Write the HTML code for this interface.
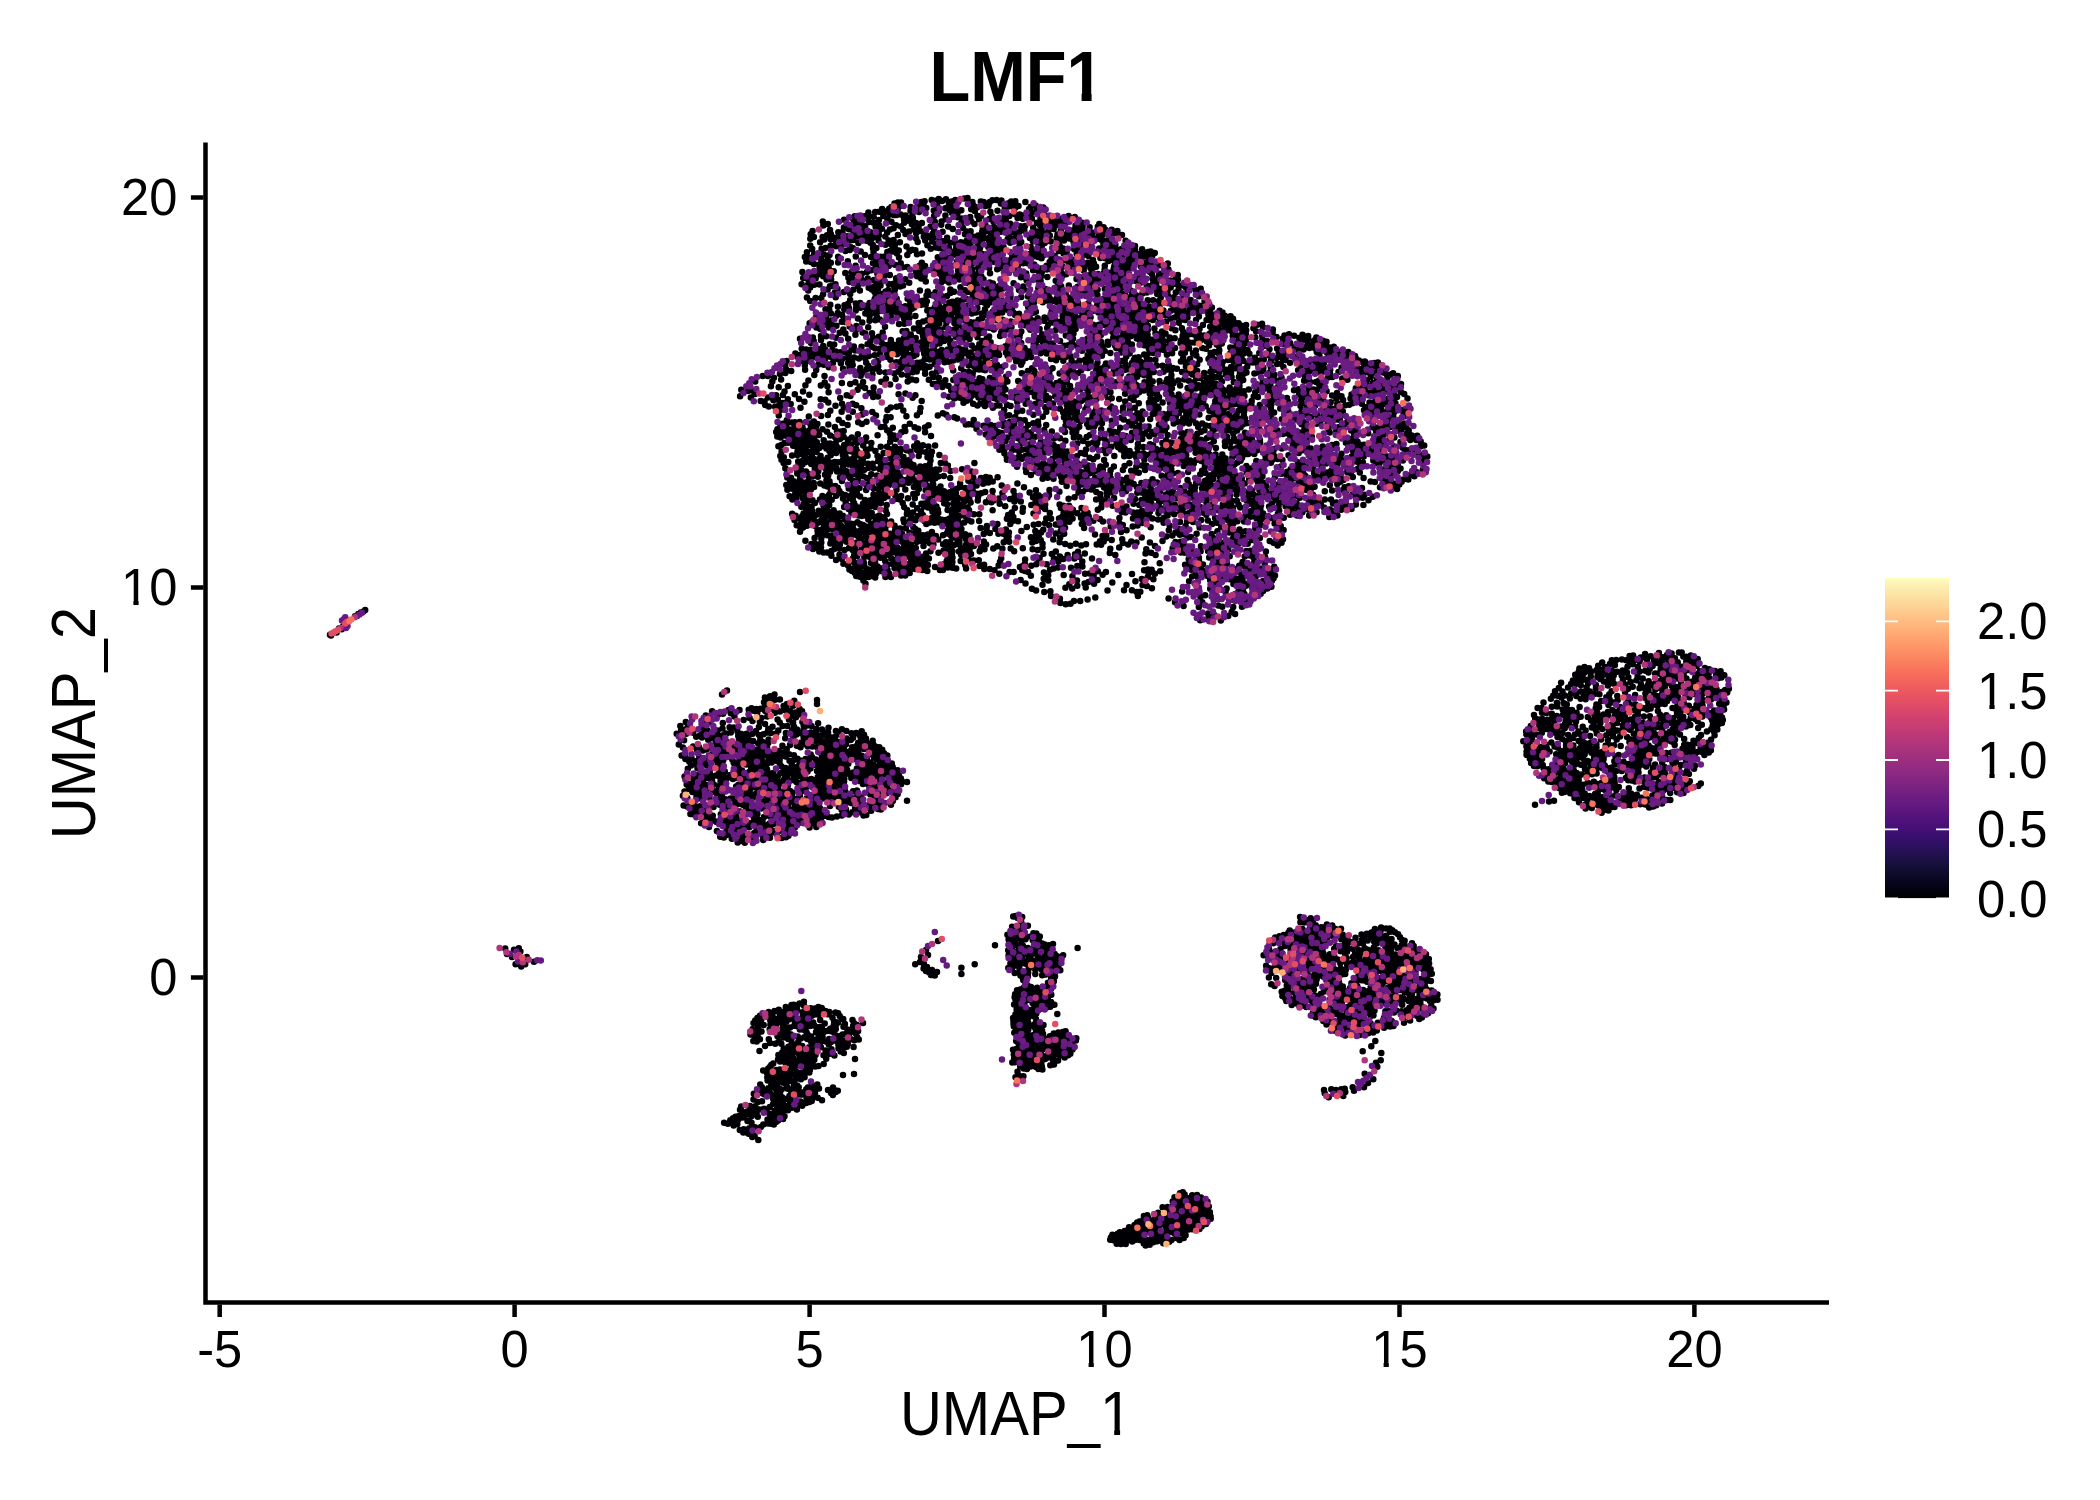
<!DOCTYPE html>
<html><head><meta charset="utf-8"><title>LMF1</title>
<style>
html,body{margin:0;padding:0;background:#fff;}
body{width:2100px;height:1500px;overflow:hidden;}
svg{display:block;}
text{font-family:"Liberation Sans",sans-serif;fill:#000;}
.t{font-size:50px;}
.a{font-size:58.3px;}
</style></head><body>
<svg width="2100" height="1500" viewBox="0 0 2100 1500">
<defs><linearGradient id="mg" x1="0" y1="1" x2="0" y2="0">
<stop offset="0.0000" stop-color="#000004"/>
<stop offset="0.0192" stop-color="#02020B"/>
<stop offset="0.0385" stop-color="#050416"/>
<stop offset="0.0577" stop-color="#090720"/>
<stop offset="0.0769" stop-color="#0E0B2B"/>
<stop offset="0.0962" stop-color="#140E36"/>
<stop offset="0.1154" stop-color="#1A1042"/>
<stop offset="0.1346" stop-color="#21114E"/>
<stop offset="0.1538" stop-color="#29115A"/>
<stop offset="0.1731" stop-color="#311165"/>
<stop offset="0.1923" stop-color="#390F6E"/>
<stop offset="0.2115" stop-color="#420F75"/>
<stop offset="0.2308" stop-color="#4A1079"/>
<stop offset="0.2500" stop-color="#52137C"/>
<stop offset="0.2692" stop-color="#5A167E"/>
<stop offset="0.2885" stop-color="#621980"/>
<stop offset="0.3077" stop-color="#6A1C81"/>
<stop offset="0.3269" stop-color="#721F81"/>
<stop offset="0.3462" stop-color="#792282"/>
<stop offset="0.3654" stop-color="#812581"/>
<stop offset="0.3846" stop-color="#892881"/>
<stop offset="0.4038" stop-color="#912B81"/>
<stop offset="0.4231" stop-color="#992D80"/>
<stop offset="0.4423" stop-color="#A1307E"/>
<stop offset="0.4615" stop-color="#A8327D"/>
<stop offset="0.4808" stop-color="#B0357B"/>
<stop offset="0.5000" stop-color="#B83779"/>
<stop offset="0.5192" stop-color="#C03A76"/>
<stop offset="0.5385" stop-color="#C83E73"/>
<stop offset="0.5577" stop-color="#CF4070"/>
<stop offset="0.5769" stop-color="#D6456C"/>
<stop offset="0.5962" stop-color="#DD4A69"/>
<stop offset="0.6154" stop-color="#E44F64"/>
<stop offset="0.6346" stop-color="#E95462"/>
<stop offset="0.6538" stop-color="#EE5B5E"/>
<stop offset="0.6731" stop-color="#F2625D"/>
<stop offset="0.6923" stop-color="#F66A5C"/>
<stop offset="0.7115" stop-color="#F8735C"/>
<stop offset="0.7308" stop-color="#FA7C5E"/>
<stop offset="0.7500" stop-color="#FB8560"/>
<stop offset="0.7692" stop-color="#FD8E65"/>
<stop offset="0.7885" stop-color="#FE9869"/>
<stop offset="0.8077" stop-color="#FEA16E"/>
<stop offset="0.8269" stop-color="#FEAA74"/>
<stop offset="0.8462" stop-color="#FEB37B"/>
<stop offset="0.8654" stop-color="#FEBC82"/>
<stop offset="0.8846" stop-color="#FEC589"/>
<stop offset="0.9038" stop-color="#FECF92"/>
<stop offset="0.9231" stop-color="#FDD89A"/>
<stop offset="0.9423" stop-color="#FDE1A3"/>
<stop offset="0.9615" stop-color="#FCEAAC"/>
<stop offset="0.9808" stop-color="#FCF3B5"/>
<stop offset="1.0000" stop-color="#FCFDBF"/>
</linearGradient><clipPath id="nf"><path clip-rule="evenodd" d="M0 0H2100V1500H0ZM1066 92.8H1081.6V103H1066ZM1091.6 92.8H1108V103H1091.6ZM1101 1429.2H1114.2V1437H1101ZM1120.1 1429.2H1134V1437H1120.1ZM1078 1362.4H1088.6V1369H1078ZM1093.8 1362.4H1103.5V1369H1093.8ZM1373 1362.4H1383.6V1369H1373ZM1388.8 1362.4H1398.5V1369H1388.8ZM122 600.4H133.4V607H122ZM138.6 600.4H148.5V607H138.6ZM1978 704.4H1989.4V711H1978ZM1994.6 704.4H2004V711H1994.6ZM1978 773.4H1989.4V780H1978ZM1994.6 773.4H2004V780H1994.6Z"/></clipPath></defs>
<rect width="2100" height="1500" fill="#fff"/>
<g clip-path="url(#nf)"><text transform="translate(929.5,101) scale(1,1.0685)" font-size="66.7" font-weight="bold">LMF1</text></g>
<g id="pts" fill="none" stroke-linecap="round" stroke-width="6.5">
<path stroke="#000004" d="M746.6 733.7h0M860.8 747.1h0M720.4 796.4h0M835.7 779.9h0M834.9 751.3h0M865.8 768.9h0M819.9 808h0M753.8 782h0M781.6 838h0M842.5 793.6h0M870.5 762.6h0M784.1 779.5h0M878.2 772.4h0M783.7 773.7h0M702 737.4h0M742.9 741.2h0M858.9 804h0M751.5 708.2h0M692.4 791.9h0M729.6 727.3h0M901.1 784.3h0M684.1 740.2h0M810.7 754.4h0M839 753.4h0M763.5 734.3h0M713.5 807.1h0M891.8 763.6h0M802.6 769h0M734.8 796.5h0M759.1 734.9h0M720.5 781.2h0M821.5 753.9h0M762.8 836.6h0M887.3 755.4h0M882.2 749.8h0M719.5 762.8h0M722.5 728.5h0M724.1 776.8h0M845.9 809.6h0M757.6 833.5h0M725.4 799.2h0M697.5 768.2h0M787.1 815.9h0M774.5 755.1h0M802.5 791.1h0M879.5 781.1h0M761.9 760.3h0M791.9 730.4h0M731.1 819.2h0M727.2 806h0M695 780.8h0M858.2 751.5h0M783.4 770.4h0M683.6 805.6h0M750.5 788.8h0M777.7 776.8h0M762.6 742.1h0M790.2 791.1h0M764.9 807.6h0M699.3 757.1h0M805.1 766.9h0M799.8 796.1h0M721.8 739h0M713.1 790.7h0M811.3 779.1h0M805 744.1h0M799.6 812.2h0M870.4 743.9h0M762.5 820.9h0M884.1 761.2h0M746.2 750.1h0M768.1 743.1h0M703.6 820h0M709 826.9h0M770 837.7h0M851.5 733.3h0M749.9 822.9h0M856.2 733h0M693.3 814.2h0M768.6 739.5h0M707.1 761.6h0M687.3 727.8h0M700.7 813.6h0M827.5 737.7h0M773.4 773h0M865.9 738.4h0M805.9 806.2h0M710 817.9h0M786.5 799.7h0M798.8 784.7h0M687.8 768.8h0M778.5 789.8h0M805.5 759h0M761.4 717.9h0M720.3 770.9h0M757.5 789.5h0M770.3 808.3h0M828.9 775.7h0M705.1 721.5h0M717.6 730.6h0M802.1 711.2h0M838 757.6h0M771 817h0M735.3 831.4h0M766.6 699.6h0M760.6 708.8h0M705.8 715.5h0M763.6 755.2h0M764.4 750.9h0M792.6 792.5h0M789 808.7h0M789.1 754.2h0M880 753.8h0M766.2 803.2h0M845.7 751.8h0M798.5 775.9h0M807.3 725.5h0M748.4 795.9h0M728.5 710.1h0M703.9 728h0M887.6 774.4h0M816.4 733.4h0M712.1 781h0M696.5 796.5h0M754.5 766.3h0M695.5 806.3h0M850.7 739.9h0M821.2 818h0M733.9 727.6h0M735.4 800.7h0M691 765.4h0M682.9 795.8h0M712.4 753.7h0M741.3 840.7h0M681.1 730.2h0M790.8 816.4h0M817.9 811.3h0M722 748.2h0M776.6 811.4h0M739.1 820.4h0M698 778.1h0M870.2 794.2h0M875.1 753.8h0M696.6 813.5h0M846.3 766h0M709.5 736.4h0M824.3 794.8h0M874.4 796.1h0M853.1 791.3h0M707.6 730.6h0M845.4 798.6h0M692.7 783h0M778.6 784.9h0M825.1 779.9h0M783.6 706h0M769.2 802.8h0M726.6 834.9h0M853.8 754h0M803.6 729.5h0M695.8 761.2h0M732.8 746.4h0M848.8 814.5h0M743.6 720h0M810.9 732.6h0M698.1 774.9h0M758.5 749.6h0M884.9 774.2h0M761.6 769.2h0M824 791.9h0M726.6 830.6h0M799.1 822.8h0M769.7 700.2h0M882.5 766.5h0M874.1 769.1h0M868.9 773.8h0M822.7 778.3h0M848.8 758.6h0M803.7 725.7h0M887.6 771.4h0M767.9 785.1h0M707 765.5h0M852.3 812.3h0M844.4 768.9h0M860.3 801.2h0M875.3 804.2h0M718.9 736.1h0M820.5 793h0M836.5 776.3h0M758.9 727.1h0M769.7 773.3h0M896.1 775.5h0M709.3 722.3h0M812.3 807.1h0M768.5 834.3h0M833 754.7h0M887.1 786.9h0M866.1 741.3h0M767.2 716.5h0M782.6 726h0M862.9 784h0M792.8 715.7h0M782.5 809.6h0M825.9 783.8h0M878.3 797.6h0M835.9 730.9h0M846.1 744.2h0M727.2 742.2h0M773.5 824h0M719.7 804.8h0M736.1 786.5h0M780.8 800.4h0M880.9 809.5h0M788.4 835.7h0M785.7 819.7h0M716.5 747.1h0M853.3 772.4h0M861.6 804.9h0M734.8 804.5h0M746.2 754h0M709.8 772.8h0M794.1 726.8h0M807.6 771.4h0M771.6 762.5h0M744.8 790.6h0M717.3 760.6h0M709.5 748h0M751.1 811.2h0M841.7 809.9h0M742 770.5h0M767 769.3h0M747.4 791.4h0M787.4 725.9h0M760.2 787.8h0M744.2 743.9h0M777.6 719.4h0M803 810.2h0M716.9 830.9h0M718 756h0M781.3 766.2h0M753.9 749.5h0M790.5 773.6h0M785.2 738.3h0M794.5 803.9h0M752.7 733.8h0M892.8 801.1h0M794.3 817.7h0M685.8 722.1h0M834.3 789.5h0M702.4 764.1h0M740.2 811.5h0M834.5 748.5h0M838.3 765.4h0M732.9 779h0M814.7 796.3h0M796.4 781.9h0M748.1 759.9h0M774.8 778.1h0M831.5 767.2h0M788.9 719.5h0M811.3 810h0M896.1 778.3h0M790.1 780.6h0M834.5 762.3h0M757.4 814.1h0M824.2 760.3h0M688.8 789h0M757 757.6h0M787.9 785.5h0M768.4 790.4h0M737.7 753.2h0M807.7 767.2h0M824.5 765.9h0M846.8 793.6h0M756.5 830.2h0M812.1 757.3h0M828 763.6h0M720.2 836.7h0M778.9 750.9h0M759.8 721.8h0M738.4 766.2h0M774 790.8h0M810.3 822.1h0M825.5 745.8h0M772.2 776.7h0M873.3 764.4h0M799.2 772.3h0M821.8 798.7h0M817.8 776.9h0M781.5 755.7h0M790.1 711.3h0M743.1 747.3h0M756.8 753h0M734.4 716.6h0M794.2 798.8h0M761.4 766.1h0M894.1 794.2h0M833.7 765h0M745.1 736.8h0M861.1 812.6h0M726.8 825.6h0M797 811.6h0M706.4 774.7h0M767.1 747.8h0M712.7 776.2h0M824.9 815.8h0M786.9 775.5h0M687.3 797.9h0M775.9 760.7h0M737.6 771.4h0M880.7 805h0M839 774.4h0M791.3 823.6h0M799.6 709h0M748.4 811.9h0M746.1 764.4h0M714.5 735.8h0M816.1 741.1h0M801.3 820.7h0M814 810.1h0M843.2 761.1h0M758.2 743.6h0M744.4 795.4h0M816.3 729.1h0M772.8 758.2h0M804 804.4h0M810.4 768.6h0M721.7 773.9h0M727.7 752.5h0M718.7 773.7h0M820.5 780.7h0M821.8 735.5h0M724.6 780.4h0M866.8 758.8h0M741.5 734.1h0M751.5 761h0M807.7 746.2h0M864.3 780.7h0M682.9 747.6h0M831.7 737.5h0M780.3 772.9h0M819.4 795.6h0M744.5 758.7h0M847.2 770.1h0M870.3 747.1h0M835.4 736.7h0M686.7 784.6h0M890.8 776.5h0M867.8 745.3h0M738.2 735.8h0M750.5 785.5h0M842.1 746.9h0M762.9 825.1h0M751.3 794.4h0M770.2 827.7h0M857 801.1h0M690.4 814h0M885.8 769.1h0M689.4 784.1h0M830 750.9h0M726.4 733.6h0M816.3 808.8h0M758.5 755.1h0M685.1 756h0M702.8 750.6h0M876.9 750.3h0M752.5 721h0M796.8 745.7h0M828.1 732.6h0M858.9 781h0M830.8 787.8h0M814.5 780.5h0M798.2 818.7h0M751.4 764.3h0M863.2 768.5h0M689.5 726.3h0M770 696.2h0M726.4 749.7h0M844.1 781.8h0M730.8 732.4h0M813.6 803.5h0M857.4 795.8h0M704.6 760.3h0M749.2 827.2h0M898.7 781.8h0M874 757.5h0M887.5 763h0M793.1 738h0M733.6 762.4h0M718.9 788.6h0M722.4 823.3h0M722.8 722.9h0M679.9 733.8h0M778.3 730.4h0M856.9 768.6h0M863.9 749.1h0M755.7 794h0M749.2 742h0M767.4 755.2h0M783.2 812.2h0M893.1 769.7h0M772.7 783h0M817.8 821.8h0M860.4 772.6h0M745.7 827h0M876.7 758.9h0M781.7 806.3h0M816.2 765.2h0M779.6 763h0M740.1 776h0M788.8 802.2h0M793.4 809.3h0M875.2 746.6h0M763.8 801.8h0M822.2 773.7h0M684.5 791.6h0M801.8 782.3h0M793.9 755.3h0M712.8 815.7h0M765 705.4h0M783.8 752.3h0M823.3 786.7h0M758 770.6h0M778.2 799.3h0M722.1 793.9h0M868.4 784.8h0M897.6 770.3h0M761 750.9h0M774.5 694.5h0M735.3 814h0M894.2 781.9h0M751.6 798.5h0M798.4 798.5h0M721.8 745.1h0M849.2 755.9h0M848.7 799.1h0M841.9 804h0M737.7 842.5h0M758.9 780.9h0M778 820.2h0M750.3 779.4h0M706.2 810.2h0M789.5 760.9h0M695.9 789.7h0M785.9 732.9h0M736 747.8h0M693.1 746.4h0M864 734.8h0M816 759.4h0M796.3 821.2h0M853.1 737.8h0M779.7 722.6h0M790.1 820.6h0M732.3 759.5h0M794.5 759.7h0M814.9 817.6h0M748.7 709.7h0M879.8 762.2h0M713.6 820.5h0M777.9 756.6h0M752.9 756.7h0M708.7 778.3h0M791 767.8h0M728.3 822.6h0M893.2 790.2h0M756.4 709.1h0M864.5 778h0M735.6 822.2h0M757.3 712.8h0M754.2 832.9h0M770.9 779.9h0M745.5 804.1h0M738.9 739h0M779.5 782.1h0M765 723.9h0M762.4 783h0M822 729.4h0M872.7 755h0M863.5 815.5h0M769.5 823.5h0M851 750.4h0M742.7 804.8h0M772.5 698h0M705.1 817h0M723.3 760.2h0M780 711.5h0M859.7 735.2h0M886.6 793.2h0M825.7 797.7h0M843.7 764.9h0M851.6 797.9h0M784.7 791h0M703.2 779.7h0M851.3 778h0M883.6 784.8h0M878 809h0M787 704.1h0M797.5 766.7h0M818.1 723.2h0M813.4 736.5h0M858.5 810h0M776.3 733.5h0M813 799.2h0M681.6 755.4h0M853.6 776.1h0M832 817.5h0M799.9 790h0M693.1 787.2h0M789.6 826.1h0M844.8 774.8h0M758.5 819.7h0M743.4 776.7h0M839.6 798.1h0M825 752.5h0M840.3 749.4h0M833 781h0M796 717.3h0M841.9 729.2h0M833.4 784.1h0M877.6 776.8h0M867.8 770.7h0M871.2 810.7h0M774.9 699.7h0M810.7 819.2h0M786.5 771.6h0M848.2 802.1h0M833.7 742.2h0M798.8 714.6h0M861.7 731.2h0M826 772.2h0M861.3 797.3h0M693.2 732.8h0M888.2 789.8h0M868 765.6h0M738.2 784.9h0M685.4 758.9h0M855.1 808.2h0M821.9 745.5h0M840.8 777.6h0M768.9 799.2h0M837.9 760.5h0M846.8 738.4h0M816.9 746.9h0M756 731.1h0M686.2 733.8h0M851.1 803h0M862.3 741.3h0M817.3 792.8h0M700.7 784.7h0M770.6 708.4h0M705.2 814.4h0M838.3 733.9h0M748.2 803.3h0M898.8 774.4h0M709.4 797.7h0M761 802h0M716 793.1h0M785.9 812.5h0M764 817h0M784.8 710h0M809.1 761.9h0M808.4 808.5h0M707.4 788.8h0M753.7 772h0M786.8 833h0M770.7 752.5h0M856.2 746.2h0M837.8 742.1h0M828.3 767.5h0M717.7 765.3h0M848.3 763.8h0M800.5 760.5h0M735.7 777.9h0M895.6 797.3h0M827.9 788.1h0M846.9 761.4h0M886.3 783.1h0M846.4 731.1h0M858.2 742.7h0M819.9 784.2h0M763.2 839.9h0M723.1 735.3h0M721.4 753.3h0M711.8 738.3h0M752.5 839.1h0M835.4 799.3h0M719.1 768.3h0M879.9 774.5h0M708.2 739.7h0M698 808.5h0M736.8 762.6h0M701.1 823.2h0M764.2 768.3h0M806.4 798.8h0M855.4 778.8h0M752.8 752.2h0M767.2 763.4h0M755.9 779.3h0M879.3 747.2h0M793.1 705.8h0M745.1 836.4h0M795.3 712.4h0M826.8 750.4h0M794.3 776.7h0M698.1 792h0M808.6 759.2h0M776.3 802.3h0M786.5 707.2h0M736.2 817.3h0M774.8 831h0M713.8 784.5h0M865.8 762.8h0M798.7 769.3h0M858 755.6h0M831.7 798.9h0M758.3 767.8h0M720.8 814.2h0M720.3 801.4h0M760.5 777.1h0M763.6 764h0M716.1 742.4h0M743 786.1h0M840.3 786.9h0M866.9 776.1h0M876.5 801h0M812.1 746.4h0M813.1 823h0M794.3 812.1h0M768.3 728.9h0M841.8 815.4h0M779.3 804.3h0M879.3 765.7h0M836.2 794.7h0M844.8 790.3h0M791.7 763.8h0M731.8 824.3h0M793.9 780.1h0M821.5 769.2h0M808.6 737.1h0M884 753.2h0M808.3 812h0M723 713.7h0M706.3 785.1h0M726.7 778.6h0M880.2 758.1h0M827.6 753.7h0M900.9 778.5h0M819 760.7h0M767.4 732.6h0M808.5 781.2h0M820.4 789h0M700.1 793.8h0M734.7 765.7h0M696 764.6h0M809.6 827.6h0M729.2 834.5h0M787.1 824.8h0M726.8 809.4h0M880 794.5h0M794.9 827.5h0M877.9 805.4h0M767.3 815.6h0M710.4 805.4h0M727.5 818.4h0M740.2 828.1h0M774.8 805.2h0M871.7 786.3h0M800.5 747.3h0M735.3 826.7h0M793.1 722.4h0M862.6 759.2h0M774.5 813.4h0M720.3 777.2h0M869.7 808.5h0M830 793.4h0M840.5 795.5h0M746 807.6h0M737.8 804h0M856.4 759.5h0M811.5 726h0M772.5 726.8h0M873.5 774.2h0M794.3 700.7h0M741.1 824.8h0M780 831.1h0M836.9 769.9h0M723.8 837.5h0M803.6 737.2h0M741.5 758.1h0M890.5 769h0M863.7 743.9h0M824.2 732.7h0M729.4 755h0M822.1 757.1h0M826 776.5h0M716.5 822h0M833.3 777.3h0M841.3 782.2h0M689.3 761.8h0M844.3 778.8h0M730.3 775h0M768.4 760.3h0M815.8 815h0M891 804.7h0M836.7 783.6h0M771.6 832.7h0M737.4 731.3h0M796.4 734.6h0M768.2 782h0M691.6 806.4h0M713.8 760.2h0M741.9 783.2h0M776.5 783h0M740 760.9h0M797 729.5h0M710.1 814.9h0M724.8 771.5h0M829.5 744.7h0M868.1 749.2h0M687.3 806.4h0M852.2 747.2h0M753.2 740.9h0M776.8 710h0M731.8 838.8h0M759.3 762.7h0M702.2 733.5h0M750.3 756.6h0M834.2 758.2h0M706.3 749.5h0M718.1 714.4h0M878 789.6h0M747 779.5h0M806.6 787h0M785.6 756.5h0M844.4 801.5h0M781.3 815.9h0M699.8 735.6h0M692.9 777.2h0M802.7 777.8h0M763.9 775h0M770.7 788.7h0M815.8 786.7h0M782 783.1h0M742.8 834.9h0M753.6 816.7h0M715.9 775.6h0M827.1 758.5h0M691.5 757.9h0M821.5 764.1h0M757.8 823.9h0M704.7 787.3h0M838.8 806.8h0M829.1 740.7h0M872.7 748.4h0M828.9 760.8h0M831 795.9h0M860.2 766.6h0M782.2 794.4h0M700.6 806h0M798.9 806.5h0M767.5 777.4h0M676.7 733.8h0M774.9 712.8h0M760.3 739.7h0M720 785.3h0M840.6 760.5h0M844 748.8h0M753.8 813.8h0M838 747.4h0M750.5 750.5h0M721.1 765.2h0M816.8 805.6h0M794.9 769.3h0M832.9 746.1h0M765.1 711h0M886.8 766.1h0M854.6 749.8h0M801.2 742.5h0M784.6 829h0M823.5 741.5h0M817.6 737.5h0M712.1 711.3h0M725 786.3h0M723.1 801.8h0M816.3 827h0M755.3 796.9h0M762.3 830.4h0M754.2 820.4h0M785.9 837.2h0M787 830.2h0M744.8 842.7h0M799.5 764.5h0M699.5 798.3h0M730.8 713.2h0M701.9 775h0M793.8 774.1h0M816.3 801.9h0M732.1 807.2h0M700.6 788.5h0M751.1 767.6h0M870.1 803.9h0M783.5 798.6h0M870.2 768.6h0M729.6 826.4h0M742.7 780.6h0M817 770.9h0M684.6 776.5h0M828.5 816.9h0M697.1 750h0M860.9 738.5h0M760.5 745.8h0M683.9 730.2h0M872.7 740.8h0M881.1 777.1h0M759.4 758.9h0M840.7 764.2h0M873.3 744.5h0M797.5 758.8h0M870.9 765.8h0M862.2 776h0M748.3 737.9h0M815.6 783.3h0M786.7 749.3h0M736.9 794.2h0M875.6 766.7h0M761.3 808.5h0M782.4 745.8h0M779.9 699.5h0M820 740.9h0M698.9 746.9h0M800.7 732.9h0M820.6 812.7h0M827.9 778.7h0M787.9 806.2h0M764.8 697.4h0M736.8 774h0M804.6 740.6h0M790 744.9h0M765.5 797.2h0M861.5 755.7h0M836.9 816.4h0M901.7 781.1h0M803.7 788h0M730.5 798.5h0M779.7 812.1h0M830 806h0M791.9 795.1h0M724.1 818.4h0M755.7 809.5h0M823.8 748.9h0M680.3 726h0M764 702.2h0M741 802.6h0M779.7 759.3h0M766.4 825.5h0M897.7 794h0M678.8 744.4h0M696.2 736.7h0M739.8 835.1h0M892.7 767.1h0M832 771.2h0M806.5 763.3h0M694.6 811h0M749.1 771.9h0M872.5 751.4h0M851.1 753.6h0M802.4 721.9h0M874.7 788.7h0M877.1 785.5h0M729.6 808.7h0M785.4 768.1h0M753.8 710.7h0M743.5 798.3h0M749.6 718h0M805.9 779.1h0M843.4 744.4h0M850.7 774.9h0M709.1 733.4h0M746.2 775.1h0M841.5 773.1h0M739.5 710.1h0M765.2 829.7h0M866.3 815h0M857.4 775.2h0M856.9 790.5h0M744.1 839.9h0M753.1 786.7h0M828.5 727.7h0M864 772.2h0M770.7 733h0M719.3 742.8h0M727 690.5h0M722 694.5h0M800 692h0M817 700h0M817 704h0M907 782h0M907 800.7h0M1566.8 751.5h0M1573.6 787h0M1697.9 673.9h0M1526.6 751.4h0M1666.3 715.3h0M1536.6 755.1h0M1721.4 677.4h0M1692.5 748.1h0M1699.6 703.7h0M1648.7 681.2h0M1663.6 785.9h0M1648.6 745.5h0M1614.3 761.2h0M1563.5 703h0M1658.2 700.9h0M1538.8 727.9h0M1653 768h0M1679.6 716.4h0M1576.8 762.5h0M1665.6 683.4h0M1591.8 727.5h0M1601.2 700.9h0M1657.9 711h0M1534 766h0M1677.4 775.1h0M1628.5 764h0M1683.5 666.4h0M1662.6 657.3h0M1568.2 734.9h0M1560.3 766.6h0M1701.8 724.7h0M1642.5 722.7h0M1702.5 705.8h0M1625.1 727.9h0M1689.3 697.2h0M1671.5 695.8h0M1632.4 768.2h0M1602.7 751.7h0M1635.6 704.4h0M1682.5 748.7h0M1645.5 698h0M1677.9 700.1h0M1591.1 671.5h0M1603.6 759.1h0M1680.9 687.5h0M1667.1 701.1h0M1678.9 652.6h0M1629.4 742h0M1705.9 685.5h0M1665.8 718h0M1529.5 747.2h0M1621.7 675.4h0M1637.6 676.2h0M1654.6 749.4h0M1645.3 726.2h0M1618.8 786.9h0M1682.6 782.4h0M1617.7 700h0M1577 750.6h0M1615.1 795.4h0M1710.9 750.2h0M1655.4 753.5h0M1631 793.4h0M1611.6 691.2h0M1589.6 804.6h0M1686.3 661.6h0M1631 805.2h0M1630.6 681.9h0M1559.8 758.9h0M1616.3 771h0M1645.3 804.5h0M1597.2 712.5h0M1699.7 671.2h0M1580.7 698.8h0M1605.1 672h0M1696.7 665.7h0M1683.3 656.5h0M1546.7 748h0M1711.2 712.9h0M1703.3 745.1h0M1665.3 669.3h0M1692.3 681.4h0M1587.1 750.3h0M1715.9 692.8h0M1543.5 702.5h0M1526.1 731.4h0M1694.1 694h0M1672.2 784.6h0M1598.2 665.8h0M1614.5 806.9h0M1697 742.9h0M1671.3 752.8h0M1689.4 712.2h0M1713.9 731.6h0M1710.3 691.1h0M1667.7 736.8h0M1607.4 798.4h0M1561.1 682.8h0M1686.4 678.6h0M1655.3 658.5h0M1598.6 787.2h0M1623.1 800.1h0M1690.7 718.1h0M1717 726.6h0M1599.1 752.5h0M1661.3 727.5h0M1582.2 680.2h0M1724.1 709.5h0M1573.5 754.8h0M1610.2 733.1h0M1639.5 788.4h0M1725.2 690.1h0M1626.4 721.6h0M1683.5 701.8h0M1605.7 745.5h0M1658.6 718.3h0M1614.8 764.6h0M1575.2 674.7h0M1712.7 725.5h0M1576.6 712.8h0M1567.8 709.7h0M1695.2 677.6h0M1557.5 736.9h0M1578 753.4h0M1698.3 785.9h0M1631.7 801.4h0M1576.6 773h0M1645.1 654.1h0M1652.4 795.6h0M1676.9 711.8h0M1530.2 743.2h0M1672.9 676.1h0M1660.2 799.3h0M1608.5 704.9h0M1577.9 676.9h0M1556.8 785.3h0M1675 673.9h0M1594.1 756.7h0M1614 745.3h0M1677.7 662.3h0M1662.9 698.1h0M1644.4 777.4h0M1589.4 796h0M1657.3 746.9h0M1685.4 696.6h0M1698.8 737.9h0M1557.9 747.7h0M1537.6 708h0M1656.6 721.9h0M1555.7 779.3h0M1671.3 678.2h0M1620.9 711.6h0M1718.6 724.1h0M1683.7 673.7h0M1671.5 741.6h0M1712.6 696.4h0M1618.7 754.9h0M1539 752h0M1544.1 778.2h0M1649.1 807.6h0M1616.9 722.9h0M1704.9 667.9h0M1661.7 660.1h0M1688.2 721.4h0M1632.7 664.2h0M1643 708h0M1531.2 734.8h0M1589.3 745.6h0M1610.4 807.5h0M1596.4 744.4h0M1681.1 707.9h0M1719.2 703.8h0M1575.1 725.9h0M1633.5 795.2h0M1672.8 718.2h0M1602.2 675.4h0M1571.4 714.1h0M1662.3 742.9h0M1693.5 740.7h0M1570.4 720.1h0M1635 781.4h0M1612.6 679.6h0M1716.5 717.2h0M1622.9 719.5h0M1573.3 758.5h0M1667.1 800.1h0M1669.4 732h0M1590.7 766.5h0M1607.9 685.6h0M1572.2 761.9h0M1547.5 719.8h0M1625.4 684.4h0M1635.6 767.2h0M1694.3 689.6h0M1593.8 767.3h0M1672.5 762.8h0M1645.6 756.8h0M1607.9 715.8h0M1635.7 777.8h0M1656.4 777h0M1668.8 783.7h0M1639.5 688.2h0M1711.3 729h0M1638.1 710.5h0M1591.3 762h0M1568.3 759.2h0M1657.6 705.4h0M1566.8 704.5h0M1714.6 735.3h0M1698 677.5h0M1530.8 726.1h0M1598.5 763.4h0M1681.1 751.4h0M1698.2 728h0M1663.1 755.4h0M1597.5 798.5h0M1603.2 810.6h0M1558.8 687.9h0M1604.9 789.9h0M1598.2 805.4h0M1717.3 729.5h0M1704 690.1h0M1678.7 722.1h0M1609.6 699.4h0M1652.6 777.4h0M1693.1 659.1h0M1662.2 762.6h0M1613 736.2h0M1623.5 761.7h0M1573.8 770.4h0M1628 773.9h0M1671.6 685.4h0M1594.5 694.1h0M1669.1 663.6h0M1690.8 655.5h0M1646.3 740.3h0M1728.9 688.7h0M1583.8 695.7h0M1587.8 716.9h0M1610.2 745.2h0M1585.6 730.6h0M1592 774.3h0M1684.2 739.1h0M1559.2 779.6h0M1648.5 690.5h0M1591.8 808.1h0M1540.6 761.4h0M1578.4 731.5h0M1610.7 780.8h0M1606.2 767.8h0M1673.3 732.9h0M1677.9 678.4h0M1584.7 754.2h0M1533.5 761.1h0M1695.1 754h0M1676.7 686.9h0M1700 709.8h0M1701 735.1h0M1690.3 724.9h0M1638.7 745.7h0M1599.1 707.1h0M1596.6 670.1h0M1643.4 781.1h0M1556.9 715.9h0M1688.7 749.3h0M1663.5 689.5h0M1557.2 731.6h0M1584.5 667h0M1529 753.3h0M1639.7 661.4h0M1542.3 718.9h0M1704.4 755h0M1665.6 775.2h0M1655.3 689.5h0M1702.3 716.4h0M1545.9 744.8h0M1715 671.1h0M1685.9 787.2h0M1716.5 689.3h0M1718.7 673.4h0M1581.5 774.4h0M1708.5 745.6h0M1565.9 748.6h0M1593.5 724.5h0M1651.7 727.1h0M1576.3 696.1h0M1554.6 746.5h0M1596.2 770.3h0M1571.2 789.7h0M1585 768.9h0M1633 762.6h0M1598.4 796h0M1616.7 739.4h0M1657.3 727h0M1596.4 704.5h0M1683.5 793.1h0M1672.5 708.1h0M1674.6 663.1h0M1572.2 775.1h0M1709.2 696.2h0M1633.7 733.5h0M1657.4 696.2h0M1701.4 699.9h0M1691.7 687.7h0M1612 785h0M1591.1 720.4h0M1551.8 782h0M1583 797.7h0M1634.9 799.3h0M1548.3 723.4h0M1645.4 670.8h0M1706.1 744.4h0M1541.4 707.9h0M1637.9 666.9h0M1662.1 662.9h0M1662.2 716.4h0M1625.6 710.9h0M1655.1 784.7h0M1622.7 670.4h0M1597.4 677h0M1721.6 692h0M1575.4 779.9h0M1583.7 765.6h0M1582.3 738.9h0M1528.4 737.8h0M1601.1 799.2h0M1716.1 675.4h0M1697.7 659.1h0M1675.1 779.2h0M1727.2 692.5h0M1638.3 768.3h0M1718.8 697.2h0M1626.2 805.2h0M1596.1 752.4h0M1538.9 719.6h0M1565.6 720.1h0M1562.7 709.4h0M1523.3 741.2h0M1638.2 729.7h0M1630 729.7h0M1641.1 758h0M1563.6 758.2h0M1578.7 780.1h0M1620 736.4h0M1660.1 681h0M1559.5 788.3h0M1630.8 798.2h0M1706.9 731.5h0M1635.9 737.4h0M1543 728.6h0M1615 785.2h0M1566 745.3h0M1568.1 687.5h0M1704.9 677.8h0M1648.3 705.7h0M1661.3 745.5h0M1694.5 708.7h0M1685.1 705.3h0M1577.7 757.6h0M1551.8 706.8h0M1614.9 665.1h0M1563 714.8h0M1561.9 792.7h0M1660.4 789.8h0M1626.4 794.3h0M1548.6 769.3h0M1611.1 787.8h0M1663.7 720.1h0M1619.7 798.6h0M1648.3 763.4h0M1566.2 789.5h0M1655.6 800.9h0M1639.7 750.4h0M1613.9 683.8h0M1673.5 787.7h0M1659.7 754.8h0M1709.6 678.6h0M1666 788.4h0M1654 736.5h0M1647.7 751.1h0M1714.1 710.4h0M1700.7 747.9h0M1602.1 807h0M1662.4 730.6h0M1712.3 720.4h0M1558 770.7h0M1595.9 685h0M1565.1 763h0M1602.9 761.7h0M1602.2 729.1h0M1695 765.4h0M1569.2 725.1h0M1621.9 659.5h0M1642.7 748.5h0M1708.5 686.4h0M1569.2 781.6h0M1637.8 714.5h0M1644.5 657.6h0M1562.5 691.4h0M1606.6 783.4h0M1647.6 701h0M1546.5 729.1h0M1574.8 764.7h0M1529.8 758.5h0M1620 707h0M1654 704.6h0M1601.5 670.2h0M1578.8 671.6h0M1644.4 734.2h0M1668.6 671h0M1612.4 710.2h0M1569.3 739.8h0M1684.5 754.4h0M1629.9 662.9h0M1670.2 793.1h0M1663.8 679.6h0M1630.7 719.5h0M1590.1 736h0M1721.7 702h0M1650 721.7h0M1593.8 781.8h0M1625.1 692.3h0M1551.3 771.9h0M1579.6 706.9h0M1628 700.9h0M1620.7 746h0M1675 739.8h0M1630 704.4h0M1582.8 784.8h0M1723.6 705.7h0M1667.5 759h0M1599.3 767.1h0M1676 761.8h0M1694 712.2h0M1592.1 797.2h0M1549.6 751.4h0M1662.2 796.7h0M1564.3 781.9h0M1634.2 710.2h0M1724.3 675.3h0M1651 772.2h0M1687.6 744.7h0M1711 717.7h0M1655 683.6h0M1643.9 716.5h0M1590.8 676.3h0M1637 761.3h0M1557.5 695.7h0M1571.9 709.9h0M1644.8 752.7h0M1649.2 800.4h0M1579.7 748.6h0M1600.4 723h0M1563 778.8h0M1531.1 763.1h0M1639.3 763.7h0M1542.8 765h0M1595.9 688.6h0M1627 736.9h0M1617 730.4h0M1662.3 692.9h0M1648.5 672.5h0M1537.8 758.1h0M1709.1 669.2h0M1600.2 802.4h0M1556.2 754.2h0M1659.8 714.5h0M1634.9 773.2h0M1556.8 762.3h0M1599.7 759.4h0M1674.8 772.8h0M1678 674.7h0M1667 655h0M1563.3 767.8h0M1680 734.6h0M1596.6 773.6h0M1706.1 747.3h0M1631.8 727.1h0M1587.6 782.8h0M1688.8 660h0M1671.6 653.5h0M1564.7 728.2h0M1543.5 767.9h0M1573.1 738h0M1708.2 742.5h0M1704.2 700.2h0M1560.6 774.5h0M1606.3 735.2h0M1581.8 750.8h0M1618.1 719.3h0M1611.7 803.5h0M1585.4 804.5h0M1643.4 737.3h0M1651.9 685.2h0M1556.9 702.8h0M1626.9 672.4h0M1644.6 746.4h0M1658.9 653h0M1609.4 795.7h0M1677.2 792.3h0M1589.1 668.3h0M1587.6 761.1h0M1596.4 783.8h0M1604.4 799.5h0M1551.8 713.7h0M1720.6 671.3h0M1697.4 751.9h0M1568.4 716.8h0M1587.8 774.7h0M1629 796.2h0M1649 726.8h0M1689.8 781.3h0M1584.7 793.5h0M1595.1 794h0M1551.8 718.8h0M1550.5 730.5h0M1697.5 681.5h0M1580.8 764.8h0M1552.4 767.8h0M1586.1 797h0M1601.4 783h0M1526.4 746.6h0M1642.5 764.6h0M1650.8 656.2h0M1711 739.7h0M1662.8 723.8h0M1656.2 805.2h0M1654.7 790.3h0M1585.6 699.3h0M1694.1 768.8h0M1658.7 673.6h0M1608.7 803h0M1680.9 765h0M1611.2 767.7h0M1684.5 722.3h0M1586.6 687.3h0M1540.6 746.9h0M1641.4 797.8h0M1681.7 652.4h0M1705.9 671.7h0M1550.9 698.8h0M1613.5 732.2h0M1580.9 691.6h0M1604.7 765.3h0M1711 699.4h0M1564.9 695.4h0M1636.1 744.4h0M1607.9 739.9h0M1608.7 730h0M1686.1 656.7h0M1702.4 693.9h0M1677.2 706.3h0M1671.1 723.1h0M1560.9 726.4h0M1630.5 739.5h0M1629.6 656.1h0M1602.2 662.5h0M1668.9 677h0M1674 725.6h0M1662.7 769.8h0M1538.6 723.1h0M1627.7 799.6h0M1624.9 716.2h0M1685.6 688.5h0M1625.8 778.1h0M1534 714.9h0M1642.7 678.6h0M1616.1 659.9h0M1542 712.8h0M1574.5 798.1h0M1701.4 686.4h0M1678.5 725.5h0M1591.5 752.8h0M1564.3 770.7h0M1718.8 694h0M1582.3 789.4h0M1629.3 659.6h0M1694.6 684.1h0M1668.2 659.9h0M1722 717.4h0M1580.7 716.7h0M1617.3 695.9h0M1632.7 686.7h0M1547.3 774.4h0M1607.9 712.1h0M1676.9 715.2h0M1562.4 732.9h0M1603.9 681.5h0M1542.1 758.8h0M1531.9 755.7h0M1650.6 708.4h0M1674.9 658.3h0M1657.8 735h0M1620.5 730.7h0M1683.2 716.7h0M1576.1 683.8h0M1580.7 684.9h0M1576.9 785.5h0M1587.4 799.4h0M1628.2 780.3h0M1691.7 752.2h0M1627.5 666.7h0M1685.9 726.5h0M1668.9 698.3h0M1637.8 732.5h0M1649.8 668.7h0M1628.1 688.7h0M1673.5 736h0M1686.4 752.3h0M1664.8 704.1h0M1596.8 733.5h0M1584.2 672.8h0M1684.3 691.5h0M1579.4 668.4h0M1688.4 785.2h0M1640.8 657.6h0M1673.6 693.2h0M1650.9 731.9h0M1664.1 733.8h0M1657.7 788.4h0M1647 660.1h0M1587.7 772h0M1636.9 794.8h0M1570.2 793.3h0M1637.4 752.4h0M1580.4 792.8h0M1659.8 770.5h0M1700.8 783.4h0M1622.8 725.4h0M1568.2 772.4h0M1582.7 726.8h0M1688.9 774h0M1591 742.4h0M1551.4 742.4h0M1655.1 764.4h0M1561.3 751.2h0M1605.7 804.1h0M1703.1 713.6h0M1613 728.5h0M1614.3 777.2h0M1661.7 774.8h0M1674 698.2h0M1582.6 676.6h0M1554 728.2h0M1703.8 674.9h0M1644.1 786.8h0M1601.7 788.7h0M1647.3 709.6h0M1611.2 725h0M1670.6 674.3h0M1599.5 726.6h0M1684.1 789.9h0M1603.5 802h0M1717.4 721.3h0M1612.7 702.2h0M1674.3 678.6h0M1613.6 772.9h0M1611.8 660.3h0M1578.3 799.2h0M1662 803.4h0M1579 802.3h0M1622.1 803.5h0M1618 764.1h0M1638.5 772.5h0M1621.7 770.9h0M1602.2 768.1h0M1660.2 688h0M1660.7 668.4h0M1633.7 753.8h0M1649.3 759h0M1702.9 752.4h0M1664.1 700.5h0M1668.3 694.4h0M1663.6 738.4h0M1693.7 665.2h0M1572.1 781.9h0M1671.8 767.4h0M1608 771.8h0M1586 743.5h0M1667.7 722.3h0M1653.8 694.4h0M1682 719.2h0M1561.6 755.7h0M1670.8 735.4h0M1598 755.6h0M1571.1 693.6h0M1645.4 693.4h0M1628.3 767.6h0M1622.6 764.4h0M1662.3 676.1h0M1666.6 740.8h0M1585.6 808.6h0M1583.2 758.4h0M1692.6 744.5h0M1661.3 683.9h0M1585.1 748h0M1678.9 768.7h0M1564.2 787.4h0M1679.8 672.5h0M1611.7 670.5h0M1597.7 673.6h0M1641 684.2h0M1606.9 807.7h0M1670.3 799.9h0M1654 661.4h0M1637.4 726.3h0M1651.2 747.7h0M1635.1 694.9h0M1576 721.4h0M1676.5 691h0M1565.4 755.5h0M1643.1 730h0M1700.4 689.4h0M1589.8 691.4h0M1722.8 720h0M1684.1 745h0M1670.2 692.2h0M1567.6 784.7h0M1631.7 780.5h0M1726.4 702.6h0M1681.1 682.5h0M1572.9 680.5h0M1635 716.7h0M1666.1 674.8h0M1639 754.8h0M1608.5 676.3h0M1578.2 680.9h0M1585.3 762.7h0M1603.6 714.6h0M1623.7 797.1h0M1688.8 705.7h0M1581.4 743.9h0M1681.4 722h0M1675.8 722.5h0M1677.8 696.6h0M1675.1 784.2h0M1622.9 679.7h0M1699.5 713.3h0M1535.2 718.6h0M1564.5 791.9h0M1617 671.7h0M1639.6 671.5h0M1716.2 713.8h0M1663.6 790.2h0M1553.7 732.4h0M1569.8 698.4h0M1657.3 663h0M1614.6 782.1h0M1567.6 713.4h0M1616.4 711.7h0M1657.7 740.2h0M1657.4 791.6h0M1672.8 689.1h0M1655.2 673.5h0M1574.8 790.2h0M1608.9 680.5h0M1718.1 678.3h0M1657.5 743h0M1526.3 734.3h0M1526.5 754.8h0M1562.2 739h0M1572.8 778.7h0M1708.9 752.5h0M1720.3 713.2h0M1695.2 719h0M1652.6 666h0M1648 685.1h0M1633.6 660.9h0M1591.9 748.7h0M1672.7 729.2h0M1557.2 706.6h0M1687.8 669.9h0M1578.9 776.4h0M1614.6 716.3h0M1682.1 788.2h0M1609.2 694.6h0M1597.7 792.2h0M1636.5 680.2h0M1601.6 812.8h0M1647.8 788.1h0M1608.5 810.5h0M1546.3 713.1h0M1664.8 687.1h0M1615.5 756.6h0M1646.3 766.5h0M1577 718h0M1605 667.1h0M1588.1 683.3h0M1634.1 741.7h0M1637.1 740.1h0M1688.4 688.9h0M1587.7 679.7h0M1661.7 703.5h0M1587.6 695.6h0M1553.1 695.7h0M1552 725.4h0M1651.2 753.4h0M1594.6 801h0M1640.3 804.2h0M1548.3 781.5h0M1707.4 676.9h0M1653.2 806.6h0M1601 739.4h0M1658.8 782h0M1664.7 772.6h0M1649.9 716.3h0M1626.2 660.3h0M1600.7 719.5h0M1680.8 710.9h0M1594.4 715h0M1668.1 667.9h0M1542.9 723.6h0M1575.6 776h0M1591.7 785.8h0M1646.3 729.1h0M1643.2 687.4h0M1634.9 764.5h0M1587.1 671.1h0M1640.9 742.7h0M1603.9 755.9h0M1649.5 737.4h0M1600.2 679h0M1666.2 753.1h0M1628.3 677.3h0M1536.3 734.6h0M1606.3 697.3h0M1606.2 752h0M1609.9 663.9h0M1691.4 662.3h0M1679 666.3h0M1599.6 716.1h0M1532 739.4h0M1599.4 694.2h0M1602.8 797.2h0M1554.7 773h0M1595.8 729.7h0M1554.8 720.3h0M1697.6 721.3h0M1649.9 780.3h0M1695.8 663h0M1721.9 723h0M1660.5 671.3h0M1686 761.3h0M1596.5 747.4h0M1628.8 788.3h0M1625.8 766.2h0M1576.1 692.6h0M1616.4 789.9h0M1674.7 745h0M1711.8 688h0M1537.3 766.3h0M1578 788.3h0M1619.8 716h0M1646.1 798.4h0M1565.8 741.3h0M1578.7 741h0M1687.2 770.5h0M1574.9 734.4h0M1613.7 675.5h0M1634.2 722.8h0M1581.5 754.4h0M1664.6 767h0M1625.6 802h0M1642.1 761.8h0M1530.3 730.8h0M1536.8 749.7h0M1673.6 765.3h0M1653.7 732.6h0M1677.3 731.3h0M1565 723.9h0M1701.1 697.3h0M1637 758.3h0M1696.5 705.1h0M1541.9 732.7h0M1555 691.3h0M1670.8 657.2h0M1529.5 750.3h0M1708.7 673.2h0M1595.8 720.2h0M1684.7 773.3h0M1585.2 691.4h0M1571.6 751.1h0M1573.3 745.6h0M1533.7 732.3h0M1571.1 684.1h0M1595.7 708.2h0M1580.8 734.6h0M1561.6 697.5h0M1633.1 655.5h0M1543.5 748.8h0M1559.1 782.3h0M1554 800.7h0M1535 804.7h0M1549 801.5h0M1375 933.4h0M1287.8 966.7h0M1384.1 1017.7h0M1297.8 982h0M1313.2 919.7h0M1406 946.5h0M1436.1 996.6h0M1378.5 950.2h0M1356.1 983.3h0M1323.3 953.6h0M1347.2 1028.1h0M1282 967.1h0M1386.9 1026h0M1409 993.5h0M1275.2 937.6h0M1324.3 941.7h0M1359.7 954.9h0M1341.3 939.2h0M1360 1004.4h0M1398.1 963.7h0M1312.1 1001.2h0M1296 1002.8h0M1426 981.2h0M1395.3 954.5h0M1380.2 954.7h0M1368.5 968.3h0M1359.8 1034.9h0M1290.6 949.8h0M1345.2 955h0M1368.5 991.1h0M1316 983.8h0M1375.5 996.9h0M1326.5 1024.6h0M1285.1 979.9h0M1391.5 939h0M1402.4 976.4h0M1392.9 999.6h0M1337.7 1001.7h0M1335 1030.7h0M1361.7 1032.9h0M1288.5 976h0M1384.4 1022.3h0M1387.4 947.6h0M1315 972.7h0M1322.5 949.6h0M1422.1 990.4h0M1423.1 969.3h0M1293.4 1000.1h0M1341 928.7h0M1360.7 971.3h0M1351.6 991h0M1370.9 1011.7h0M1312.1 931.8h0M1365.5 959.2h0M1405.1 1017.2h0M1394 961.8h0M1322.5 958.8h0M1350.6 942.1h0M1427.3 969.5h0M1402.3 972.5h0M1340.6 951.3h0M1424.6 957.3h0M1368.5 1013h0M1334.2 969h0M1342.8 986.6h0M1370.7 986.9h0M1423.4 978.8h0M1377.4 937.6h0M1299.4 947.4h0M1294.5 932.4h0M1390.9 949.7h0M1330.5 934.7h0M1385.6 949.9h0M1423.5 962.1h0M1288.4 932.7h0M1334.4 988.4h0M1351 1022.8h0M1307.7 945.2h0M1433.2 1000.4h0M1355.7 946.9h0M1323.2 1011.7h0M1306.2 1007h0M1338 1024.8h0M1338.9 981.4h0M1350.6 1004.6h0M1373.7 990.8h0M1342.6 1019.8h0M1374.4 961.1h0M1410 955.9h0M1334.6 993h0M1343.6 997.3h0M1387.9 988.1h0M1361.4 980.2h0M1427.1 978.4h0M1395.6 964.1h0M1337.5 959.4h0M1343.7 949.9h0M1333.2 999.9h0M1377.8 1022.7h0M1318.9 974.9h0M1386 928.6h0M1313.1 1006h0M1274.6 986h0M1421.9 1017.6h0M1345.8 961.4h0M1337.4 970.4h0M1376.7 954.4h0M1358.1 1002.2h0M1402 961.2h0M1294.8 992.7h0M1325.2 960.4h0M1393.6 987.5h0M1373.9 965.4h0M1303.9 954.6h0M1379.2 959.8h0M1353 957.1h0M1364.8 974h0M1307.3 973h0M1329.8 954.2h0M1351.4 983.3h0M1302.4 929h0M1388.4 943.1h0M1399.7 967.1h0M1388.6 1021.8h0M1342.3 991.5h0M1421.2 1005.9h0M1346.7 1007.2h0M1345.8 969.7h0M1357.7 1020h0M1306 987h0M1402.9 956.5h0M1299.6 985.7h0M1286.8 985.3h0M1376.6 943.6h0M1300.9 943.9h0M1366.1 1010.8h0M1275.4 941.2h0M1371 1016.1h0M1288.9 983.6h0M1317.1 948.5h0M1283.6 935.1h0M1372.4 977.9h0M1391.1 946.5h0M1353 995.8h0M1347.1 946.6h0M1371.6 993.7h0M1411.7 962.8h0M1362.8 1021.3h0M1318.9 1011.3h0M1327 938h0M1289.7 930.5h0M1368.8 1008.3h0M1371.5 932.5h0M1408.2 982.1h0M1407.8 1013.4h0M1346.4 1018.9h0M1389.3 966.2h0M1310.9 976.6h0M1391.3 1023.8h0M1384.8 981.4h0M1361.5 934.6h0M1366.8 933.7h0M1386.1 971.2h0M1324 991.5h0M1353.4 961.9h0M1315.8 1017.2h0M1298.3 1004.7h0M1399.1 985.4h0M1309.9 964.5h0M1333.6 985.2h0M1370.9 961.6h0M1373.5 1015.3h0M1361.6 961.7h0M1373.8 947.4h0M1380.6 930.7h0M1402.4 979.1h0M1379.4 978.2h0M1365.1 993.1h0M1411.1 986.2h0M1420 979.1h0M1411.6 979.4h0M1370.6 964.3h0M1332.4 959.8h0M1401.5 945.4h0M1363.3 1030.9h0M1359 958h0M1426.9 1009h0M1357 1012.6h0M1337.5 1009.7h0M1417.2 998.8h0M1373.2 1032.5h0M1379 999.5h0M1313.3 1015.8h0M1332.4 1009.7h0M1384.9 945.5h0M1366.7 1002.5h0M1339.4 998.9h0M1307.8 949.7h0M1393.5 967.4h0M1294.4 936.5h0M1429.1 963.6h0M1409.4 1007.7h0M1433.5 1008.6h0M1309.2 941.2h0M1285 990.5h0M1404.8 1014.3h0M1318.6 950.7h0M1412.6 968h0M1329.7 958.4h0M1281.7 991.8h0M1293.8 939.8h0M1416 990.1h0M1394.5 944.4h0M1282.4 996h0M1321.6 939.6h0M1391.1 958.7h0M1351 1014.8h0M1318.6 997.1h0M1371.1 1026.5h0M1361.9 939.9h0M1386.1 935.8h0M1382.5 940.4h0M1311.9 985h0M1374.2 941.7h0M1328.2 1017.6h0M1304.8 1004.7h0M1382.7 972.5h0M1332.3 931.9h0M1311.8 949h0M1327.7 962.8h0M1355.5 998.5h0M1289.9 971.8h0M1340.7 968.5h0M1390.4 985.2h0M1331 979.7h0M1416.8 951.1h0M1269.5 968.2h0M1334.2 948.8h0M1354 1002.8h0M1378.5 966.1h0M1392.1 996.6h0M1339.2 989.4h0M1413.1 965.1h0M1306.7 968.7h0M1414.4 1006.7h0M1372.6 953.2h0M1367.7 940.4h0M1276.2 978.1h0M1385 961.1h0M1328.7 1006.2h0M1430 1000.9h0M1387.8 976.6h0M1371.3 936.8h0M1350 995.5h0M1298.5 954.7h0M1382.3 983.9h0M1390.1 931.7h0M1372.7 968.1h0M1280.5 949.1h0M1346.3 1010.7h0M1376.4 971.5h0M1425.4 966.6h0M1419.2 1019h0M1411.1 958.8h0M1274.9 967.3h0M1343.6 971h0M1291.9 942.7h0M1297.5 936h0M1277.7 963.6h0M1419.4 986.4h0M1402.2 1004.7h0M1299.1 970.2h0M1391.4 943.9h0M1394 1012.6h0M1415 1000.9h0M1341.4 974.4h0M1282.6 956.7h0M1418.9 960.2h0M1366.6 995.5h0M1324 930.2h0M1406.9 975.2h0M1370.7 958.8h0M1279.9 968.9h0M1323.7 969.7h0M1304.3 922.4h0M1404.2 998.9h0M1394.6 984.7h0M1369.7 1000.9h0M1431.6 990.4h0M1431.2 998.3h0M1317.2 937.7h0M1400 937.2h0M1369.6 970.6h0M1403.6 965.5h0M1370.2 1030.4h0M1431.3 1005.9h0M1404.7 992.6h0M1346.6 958h0M1406.7 1010.2h0M1296.9 984.7h0M1305.4 919.7h0M1420.1 951.9h0M1364.6 948.2h0M1347 951.8h0M1314.8 932.8h0M1356.1 1008.8h0M1315.4 964.1h0M1302.6 937.2h0M1382.3 936.3h0M1282.6 941.8h0M1316.7 979.3h0M1336.2 946.1h0M1334.7 979h0M1318.8 945.6h0M1384.1 1027.8h0M1419.1 963.8h0M1268.6 957h0M1278.5 966h0M1327.6 989.2h0M1393.7 981.8h0M1279.3 953.9h0M1398.3 979.4h0M1308.3 936.7h0M1313 1012.7h0M1319.3 942.1h0M1386.6 963.3h0M1291 977.7h0M1340.1 985.2h0M1336.1 990.6h0M1432.2 994.1h0M1371.9 1004.5h0M1352.5 948.7h0M1430.6 969.3h0M1363.2 990.1h0M1379 981.6h0M1345.1 941.4h0M1310 961.8h0M1325.5 987.1h0M1335.1 1026.7h0M1366.4 964.7h0M1278.6 958.6h0M1289.5 958.2h0M1347.3 938.9h0M1332.4 928.9h0M1391.7 1021h0M1298.6 942.2h0M1385.3 953.7h0M1385.9 978.9h0M1412.5 998.2h0M1345.2 1035.4h0M1289 997.6h0M1426.6 995.8h0M1305.8 964.9h0M1290.6 945.4h0M1319.8 955.9h0M1437.4 994.4h0M1412 948.7h0M1295.2 971.2h0M1339.2 1020.8h0M1413.1 956.9h0M1276.7 956.2h0M1355 953.7h0M1330.1 983.2h0M1413.8 951.1h0M1323 976.5h0M1308.3 920.3h0M1419.6 995h0M1362.9 967.1h0M1367 981.7h0M1333.6 1012.3h0M1376.1 951.2h0M1315.7 925.2h0M1306.4 997h0M1404 1022.7h0M1416.9 1004.4h0M1417.2 1016h0M1348.5 1015.7h0M1326.9 924.5h0M1339.9 1017h0M1412.1 1003.9h0M1367.8 949.7h0M1357.2 962.5h0M1390.9 961.6h0M1322 967.6h0M1360.7 996.1h0M1282.5 969.6h0M1390.8 969.7h0M1398.8 1000.3h0M1385.5 940.8h0M1399.5 956.2h0M1408.7 1000.9h0M1345.2 974h0M1431.8 973.7h0M1309.7 929.4h0M1324.5 927.2h0M1359.1 1023.9h0M1368.3 1033.3h0M1377.4 930.7h0M1400.5 980.8h0M1330.7 1021.2h0M1398.1 934.3h0M1355.5 937.8h0M1365.4 977.7h0M1300.4 922.2h0M1326.5 980.6h0M1285.2 993.8h0M1410.6 1010.5h0M1362.9 943.5h0M1313.9 989.4h0M1310 989.7h0M1426.6 989.2h0M1382.5 979.9h0M1271.2 984.3h0M1404.7 958.7h0M1383.1 969.9h0M1428.8 958.9h0M1308.7 984h0M1415.8 966.9h0M1271.5 973.1h0M1358.7 973.3h0M1399.9 989.9h0M1379.9 970.5h0M1300.6 935.4h0M1359 950.3h0M1364.6 980.6h0M1303.7 940.8h0M1345.2 995.1h0M1390.1 953.5h0M1374.5 1010.5h0M1376.8 1030.6h0M1287.2 963.8h0M1389.7 928.5h0M1289 992.5h0M1315.4 975.4h0M1303.1 932.7h0M1304.9 962.5h0M1412 943.3h0M1304.3 992.4h0M1300.6 982.2h0M1375.1 1028.3h0M1312.9 925.7h0M1305.1 938.4h0M1332.2 925.6h0M1420.3 1001.8h0M1309.8 997.1h0M1372.3 999.4h0M1374.9 928.9h0M1355.7 991.6h0M1428 1013.3h0M1401.9 939.9h0M1375.4 980h0M1345.4 991.2h0M1426.8 998.4h0M1392.2 964.1h0M1388.1 1011.1h0M1321.2 931h0M1375.5 974.5h0M1320.8 993.9h0M1383.8 963.6h0M1285 946h0M1412.4 975.5h0M1263.6 955.2h0M1301.1 939.4h0M1284.8 938.2h0M1362.3 1018.7h0M1385.4 1011.3h0M1340.3 963.3h0M1347.2 965.6h0M1437.5 999.8h0M1301.3 988.5h0M1342.7 934.7h0M1395.3 993.9h0M1374.6 958.1h0M1426 954.2h0M1358.1 1026.6h0M1357.4 1032.5h0M1364 1006.2h0M1332.8 936h0M1410.2 996.9h0M1398.9 976.2h0M1364.2 936.6h0M1306.9 952.7h0M1382.7 992.4h0M1350 963.5h0M1375.8 994.1h0M1314.8 995.4h0M1394.9 932.2h0M1302.7 979.1h0M1306.4 957.6h0M1311.8 934.8h0M1393.3 990.2h0M1397.8 982.2h0M1286.3 1000.9h0M1392.3 930.2h0M1401.5 948.1h0M1389.3 996.1h0M1273.7 952.8h0M1382 999.7h0M1325.9 932.7h0M1266.1 965.8h0M1404.6 940.8h0M1302 1005.4h0M1323.3 1021h0M1427.5 975.3h0M1268.9 977.6h0M1389.8 1003.5h0M1322 1007.4h0M1396.6 969.9h0M1300.1 917.1h0M1386.3 968.4h0M1328.1 1022.6h0M1315.6 1007.2h0M1292.5 973.5h0M1269.2 949.2h0M1288.4 987.6h0M1361.6 952.1h0M1404.6 954h0M1368 1025.7h0M1410.9 982.1h0M1357.2 967.1h0M1335.8 1014h0M1344.8 1025.4h0M1407.3 987.5h0M1302.6 985.6h0M1330.7 971h0M1393.7 957h0M1415.5 971.5h0M1357.9 977h0M1401.6 1011.3h0M1414.6 954.6h0M1408.2 958.9h0M1295.4 997.8h0M1381.5 1003.2h0M1371.7 1008.4h0M1337.6 1029.6h0M1291.7 1004.9h0M1285.2 998.2h0M1341.9 1002h0M1309.6 1000h0M1287.4 944.5h0M1334.2 955.7h0M1277.8 939.4h0M1388.1 973.2h0M1381.1 927.5h0M1353 1018.3h0M1426.3 963.7h0M1313.7 978.9h0M1337.8 973.8h0M1430.9 981.1h0M1292.2 966.4h0M1419.7 1008.6h0M1427.2 972.5h0M1310.7 918.2h0M1357.3 986.2h0M1336.2 985.4h0M1307.4 980.8h0M1398.1 960.1h0M1339.4 1012.7h0M1307.1 933.3h0M1342.4 1016.1h0M1359.5 992.9h0M1321.7 974.1h0M1400.5 997.5h0M1396.3 1010.5h0M1298.7 989.6h0M1335.6 929h0M1384.7 1000.2h0M1393.5 1025.9h0M1421.2 998.6h0M1370.6 1023.5h0M1374.2 1007.5h0M1330.4 974.1h0M1304.3 998.7h0M1349.9 988.3h0M1413.7 946.1h0M1313.8 938.6h0M1356.3 1024.7h0M1325.8 957.4h0M1321.3 927.3h0M1279.4 936.3h0M1291.3 969.6h0M1314.2 945.8h0M1273.2 943.3h0M1311.6 940.3h0M1415.4 962.5h0M1371.4 950.2h0M1397.4 948h0M1411.9 994.5h0M1341.7 1025.3h0M1360 1011.5h0M1305.4 977.7h0M1317.9 934.5h0M1342.7 946.2h0M1316.3 1013.1h0M1349.5 998.2h0M1390.5 988.2h0M1393.8 972.2h0M1390.1 1026.5h0M1320.7 952.4h0M1379.7 938.8h0M1350.3 1017.8h0M1424.9 986.1h0M1343.6 1030.2h0M1317.5 971.8h0M1357.7 943.7h0M1368.8 954.2h0M1410.1 1020.5h0M1375.3 1041h0M1371.3 1046.3h0M1362.7 1051.3h0M1381.3 1053h0M1380.7 1060.3h0M1376 1062.7h0M1377.3 1066.7h0M1364.7 1073.7h0M1373.3 1079.3h0M1352.7 1087.3h0M1354 1090.7h0M1364 1087.3h0M1368 1083h0M1324 1090h0M1331.3 1089.3h0M1341.3 1089.3h0M1344.7 1088.7h0M1345.3 1092h0M1343.3 1096h0M1328.7 1097.3h0M1324.7 1093.3h0M1336 1090h0M1053.8 1033.6h0M1028.3 1029.6h0M1036 1067.1h0M1020.9 1051.5h0M1017.6 917.9h0M1025.6 1036h0M1007.4 934.8h0M1034 1016.2h0M1020.1 1066.2h0M1040.7 1052h0M1038.5 997.2h0M1021.4 963.4h0M1021.3 951.4h0M1021.5 1059h0M1015.7 915.9h0M1023.4 1076.3h0M1019.2 1009.7h0M1035.1 969.2h0M1048.1 1000h0M1045.2 1046.3h0M1025.6 1038.4h0M1028.2 972.7h0M1017.5 1071.8h0M1040 1047.4h0M1014.3 1032.8h0M1031.9 962h0M1027.8 1014.2h0M1046.4 1007.4h0M1039.8 936.5h0M1064.7 1057.6h0M1049.3 1048.6h0M1020.2 938.6h0M1018.5 995.5h0M1048.1 1054.6h0M1044.5 954.3h0M1048.3 994.9h0M1034.9 1062.9h0M1036 1031h0M1014.1 1058.5h0M1019.6 1014.3h0M1027.9 976.3h0M1057.3 962.9h0M1013 1049.8h0M1049.6 969.3h0M1019.8 1047h0M1059.3 1047.2h0M1020.8 955.2h0M1026.7 1063.1h0M1022.9 945.8h0M1068 1050.3h0M1048 982.8h0M1026.6 1032.4h0M1019.9 928.6h0M1045.1 1059h0M1034.3 947.3h0M1058.1 1060.4h0M1031.3 1059.6h0M1023.7 1014.2h0M1063.1 955.2h0M1008.6 939.5h0M1021.5 972.8h0M1053.1 1060.4h0M1032.8 1035.3h0M1042.2 975.2h0M1016.6 1009.8h0M1018.2 1012.1h0M1016.1 1019h0M1024.8 1054.5h0M1013.5 1024.1h0M1016.6 1021.4h0M1028.6 1035.1h0M1061.7 1034.8h0M1015.7 1030.4h0M1048.8 958.8h0M1068.2 1055.2h0M1051.2 985.6h0M1022.6 996.9h0M1067.2 1052.4h0M1028.6 1011.8h0M1027.3 994.2h0M1028.1 1022.4h0M1023.3 961.7h0M1039.5 1007.3h0M1052.9 1057.5h0M1015.7 965.5h0M1034.1 990.5h0M1051.2 951.6h0M1041.4 969.6h0M1018 1079h0M1041.3 1064h0M1025.5 936.6h0M1028.7 989.7h0M1016.6 1024h0M1019.1 972.5h0M1034.6 1024.3h0M1021.2 943.1h0M1032.9 994.6h0M1044.2 964.7h0M1020.7 1043.9h0M1013.5 937.8h0M1038.4 1069h0M1043.8 1004h0M1020.6 1026.9h0M1023.7 1059.7h0M1023.4 988h0M1043.8 967.7h0M1027.9 1038.5h0M1044.2 999.2h0M1055.9 959.7h0M1032 1045.8h0M1036.8 936.1h0M1038.6 1024.4h0M1022.8 1008.5h0M1046.8 1038.5h0M1070.4 1041.4h0M1041.5 989.4h0M1058.5 1037.9h0M1026.1 1028h0M1046.3 960.8h0M1012.3 965.6h0M1039.6 1062.6h0M1035 1053h0M1012.1 926.7h0M1056 1053.9h0M1058.1 1041.9h0M1018.8 1020.4h0M1026 949.4h0M1036.1 1043.5h0M1032.6 1002.9h0M1029.6 1044.3h0M1049.9 1045h0M1024.6 1064.8h0M1049.3 950.3h0M1055.4 1051.5h0M1011.9 949.5h0M1054.7 957.2h0M1069.1 1038.5h0M1019.4 1001.3h0M1062.2 1048.8h0M1010.8 954.8h0M1050.3 1065.2h0M1071.8 1043.8h0M1019.9 998.1h0M1051.6 1004.1h0M1039.6 943.4h0M1017.3 962.6h0M1020.3 1040.2h0M1045.8 974.5h0M1035.1 953.5h0M1048.5 988.1h0M1021.2 921.8h0M1063 1043.7h0M1060.3 970.3h0M1050 966.9h0M1020.5 975.4h0M1051.1 988.7h0M1046 946.8h0M1027.9 925.7h0M1015.5 1077.3h0M1065.9 1045.9h0M1028.7 956.5h0M1040.7 998.9h0M1025.8 963.7h0M1025.5 939.2h0M1021.7 925.9h0M1017 1059.9h0M1024.3 1003.9h0M1041.1 1044.8h0M1053.6 968.5h0M1026.2 1050.6h0M1040.2 993.1h0M1061.2 1038.4h0M1023.2 1036.5h0M1024.3 975.4h0M1049.9 1036.2h0M1008.6 955.3h0M1037.1 987.7h0M1043.8 949.2h0M1023.4 954.5h0M1014.7 973.1h0M1022.3 1023.8h0M1031.3 1039.8h0M1043 1033.8h0M1054.3 1046.8h0M1048.7 945.2h0M1026.1 1019.2h0M1028.8 952h0M1013.8 1054.4h0M1055.4 1043.2h0M1023.7 1068.4h0M1037.3 1032.7h0M1027.4 960.9h0M1028.3 1017.5h0M1041.9 1066.6h0M1042.4 959.1h0M1067.2 1041.3h0M1026.9 1069h0M1018.4 933.2h0M1027.5 1000h0M1051.7 945.8h0M1028.2 1057.5h0M1048.9 956.1h0M1053 964.4h0M1021.8 1064.4h0M1020.8 993.7h0M1018.3 1017.8h0M1056.2 965.5h0M1048.3 1003.1h0M1038.5 1042h0M1016.9 1005.7h0M1025.8 988.6h0M1033.4 933.2h0M1032.9 1065.7h0M1030.5 958.5h0M1019.5 1076h0M1033.2 1009.1h0M1014.6 997.2h0M1027.4 1042.3h0M1032.8 940.2h0M1046.1 987.2h0M1008.2 950.2h0M1030.5 936.5h0M1055.2 1035.7h0M1016.8 957.7h0M1012.6 935.6h0M1015.5 999.8h0M1076.3 1038.3h0M1038.7 940.1h0M1042.2 1008.7h0M1015.4 1014.4h0M1039.2 1030.3h0M1035.2 1056.6h0M1034.8 960.7h0M1040.4 1003.8h0M1017.1 1056.7h0M1016.2 1041.1h0M1044.7 944.6h0M1064.7 1036.1h0M1028.6 968.7h0M1050.2 1006.8h0M1018 1034.9h0M1054.7 954h0M1028.5 964.3h0M1019.1 960.5h0M1055 976.5h0M1020.8 989.2h0M1036.5 1004.6h0M1027.6 1009.6h0M1008.3 968.1h0M1070.3 1047.9h0M1057.1 1048.5h0M1015.4 1051.9h0M1022.7 939.6h0M1052.2 958.7h0M1034.9 1027.6h0M1057.2 956.3h0M1015.2 939.6h0M1031 1025.6h0M1013.1 1018.1h0M1014.1 1004.5h0M1032.5 1050.3h0M1027.6 985.5h0M1015.9 936.7h0M1036.3 933.6h0M1054 1064.5h0M1075.9 1040.5h0M1034.8 963h0M1037.4 951.4h0M1031.8 953.8h0M1043.7 1042.4h0M1022.2 917.1h0M1015.8 944.2h0M1034.2 1038.3h0M1020.1 1049.4h0M1042.4 1055.8h0M1038.2 1034.8h0M1017.9 992.9h0M1040.7 1026.3h0M1019.5 1029h0M1031.9 1013.4h0M1065.6 1031.3h0M1046.1 1002.5h0M1038.8 1037.6h0M1024 1052.3h0M1031 987.1h0M1010.4 963.6h0M1012 968.8h0M1027.9 947.9h0M1050.7 1054.5h0M1043.2 971.2h0M1013.4 1020.9h0M1030.1 1047.9h0M1022.3 959.5h0M1015.1 994.2h0M1023.4 1030.3h0M1018.4 1043.6h0M1067.8 1047.5h0M1014.9 929.5h0M1052.1 962.4h0M1060.3 1044.3h0M1022.8 1017.6h0M1047.4 1045.8h0M1059.5 1051.8h0M1053.9 981.3h0M1048.3 1057.6h0M1070.3 1053.8h0M1033.3 966.8h0M1017.9 946.1h0M1019.2 967.4h0M1035.4 1046.7h0M1044.9 1049.1h0M1038.2 1002.7h0M1041.7 1061.1h0M1029 992h0M1015.3 1062.2h0M1032.2 1052.6h0M1058.3 1032.4h0M1013.5 960.9h0M1017.6 929.6h0M1036.3 1013.5h0M1039.9 961.6h0M1051.9 974.1h0M1066.3 1039.2h0M1035.3 974h0M1012.9 943.8h0M1057.1 1046.1h0M1015.9 951.9h0M1031.5 1063.8h0M1010.3 940.9h0M1025.1 998.9h0M1051.2 977.8h0M1036.3 1000.7h0M1043.5 1024.9h0M1035.1 1050.7h0M1020.2 931.8h0M1028.1 997.5h0M1034.7 950.1h0M1054.4 1004.7h0M1045.2 962.7h0M1012.3 1062.4h0M1021.6 1080.1h0M1010.4 952.1h0M1028.5 1026.5h0M1042.4 1069.6h0M1051.3 994.7h0M1018.6 951.8h0M1062.7 1031.9h0M1038.4 948.4h0M1042 1030.1h0M1036.3 967.2h0M1043.1 1037h0M1013.8 1026.3h0M1047 950.2h0M1037.4 993.6h0M1022.3 977h0M1072.5 1049.5h0M1037.8 1050.9h0M1038.1 956.5h0M1039.6 1059.4h0M1065.7 1034.1h0M1019.9 1006.4h0M1052.3 1051.5h0M1016.3 1049.1h0M1026.2 1059.1h0M1013.2 916.4h0M1011.6 958.1h0M1017.6 954h0M1035.9 1018.8h0M1023.2 980h0M1030.6 1066.5h0M1051 1002h0M1022.7 1056.2h0M1033.2 1042.4h0M1054.8 973h0M1033 1047.8h0M1043.7 990.9h0M1058.4 965.4h0M1017 990.3h0M1042.1 943.5h0M1042.4 997.2h0M1027.2 954.3h0M1037.2 1029h0M1042.6 1048h0M1013.9 963.6h0M1060.2 1055.3h0M995 945.3h0M1077.6 948h0M1053 944h0M1057.3 1014h0M938 941h0M926 950h0M921 957h0M928 955h0M915.2 964.2h0M920 962h0M924 964h0M923.6 968.4h0M927 967h0M929.2 972.6h0M932 970h0M934.8 975.4h0M937 972h0M931 975h0M926 971h0M961.4 967.7h0M961.4 974h0M974.7 964.2h0M759.9 1015.8h0M852.5 1020h0M842.5 1034.5h0M773.1 1098.7h0M761.5 1031.5h0M803.4 1029.8h0M787.3 1017.2h0M822 1100.3h0M758.4 1030.9h0M754.6 1136.1h0M755.2 1020.6h0M828 1089.9h0M756.6 1113.6h0M785.7 1108.3h0M822.6 1037.3h0M777.3 1083.8h0M804 1005.7h0M777.9 1032.2h0M771.2 1123.8h0M830.2 1028.7h0M819.9 1044.4h0M853.1 1026.1h0M772.6 1014.5h0M757.8 1101.9h0M843.5 1026.8h0M800.6 1038.4h0M793 1046.7h0M777.5 1036.3h0M779.2 1108.7h0M790.3 1075h0M829 1054h0M759.3 1109.6h0M730.3 1120.3h0M774.7 1022.7h0M779 1098.1h0M844.9 1023.9h0M807.9 1087.5h0M768.8 1039.3h0M783.3 1071.1h0M822.4 1040.9h0M793.7 1086.5h0M802.5 1012.3h0M792.1 1097.6h0M787.9 1050.3h0M807.8 1064h0M749.3 1128.3h0M782.4 1107.8h0M783.1 1061.3h0M753.5 1099.5h0M806.6 1098.4h0M797.1 1009.8h0M808.9 1014.8h0M801.2 1020.9h0M741.8 1111.3h0M738.1 1119.8h0M787.5 1029.4h0M778.4 1055h0M809.4 1101.9h0M800.4 1101.6h0M816 1032.1h0M797.3 1089.7h0M811.3 1036.6h0M825.5 1011h0M856.6 1024.7h0M795.7 1079h0M797.9 1060.4h0M790 1027.4h0M814.3 1059.8h0M770.3 1020.4h0M835.6 1035.2h0M739.8 1129.9h0M837.6 1042.1h0M794.8 1021.2h0M780 1061.5h0M802.1 1094.5h0M832.5 1017.8h0M832.6 1031.7h0M757.4 1018h0M752.5 1133.3h0M779.3 1022.2h0M775.5 1073.8h0M771.5 1120.1h0M774.6 1096h0M785.8 1007.1h0M815 1093.2h0M814.7 1087.8h0M769.9 1067h0M793.8 1083.4h0M821.8 1011.8h0M789.6 1008.3h0M833 1087.4h0M782.8 1027.5h0M857.1 1036.9h0M835.8 1040.7h0M797.1 1085.4h0M780 1094h0M817.7 1097.8h0M800.9 1052.4h0M802.5 1049.7h0M758.1 1027.5h0M767.5 1119.6h0M819 1088.4h0M791.5 1064.8h0M783.5 1030.1h0M782.2 1052.5h0M835.8 1092.1h0M782.1 1114h0M786.3 1021.7h0M838.5 1048.6h0M752.3 1137.1h0M793.7 1101.4h0M806.3 1031.8h0M783 1105.2h0M812.5 1012.5h0M785.7 1058.1h0M847.5 1029.6h0M808.4 1053.9h0M820.9 1047.2h0M754 1035.1h0M791.5 1038.8h0M803.7 1065.1h0M799.9 1029.6h0M847.8 1043.4h0M774.5 1011h0M802.9 1017.9h0M807.3 1039.1h0M742.5 1117.4h0M768.6 1012.1h0M810.7 1008.2h0M851.1 1039.3h0M854.4 1040.2h0M797 1103.4h0M808.1 1057.5h0M802.4 1072.6h0M808 1011.1h0M780.4 1029.9h0M751.1 1111.7h0M800.9 1079.3h0M820.3 1038.9h0M771.3 1085.2h0M766.9 1072.8h0M786.1 1077.6h0M747.1 1111.4h0M753.5 1023h0M783.2 1101.4h0M808.9 1067.2h0M766.7 1111.5h0M798 1026.5h0M773.3 1114.4h0M770.4 1024.8h0M843.3 1019h0M777 1077.4h0M763.2 1070.5h0M747.5 1121.1h0M809.9 1051.4h0M783.5 1037.4h0M804.6 1077.2h0M782.9 1056.7h0M842.2 1043.2h0M789.4 1096.1h0M788.2 1039h0M782.8 1012.1h0M755 1127.3h0M740 1109.7h0M791.9 1043.2h0M786.5 1098.7h0M785.5 1015.1h0M806.1 1103h0M838.1 1013.2h0M826.6 1031h0M778 1059.6h0M767.6 1080.5h0M818.6 1014.8h0M802.2 1105.7h0M845.6 1040.4h0M779.3 1088.4h0M796.5 1045.1h0M815.2 1066.6h0M814.7 1014.4h0M804.6 1052.7h0M781.6 1074.3h0M796.9 1109.4h0M780.1 1058.5h0M778.3 1113.7h0M761 1127h0M815.5 1040.1h0M778.9 1074.2h0M797.7 1036.4h0M775.9 1080.2h0M811.6 1088.6h0M814.5 1025.7h0M799.5 1003.5h0M837.8 1090.8h0M778.8 1009.7h0M853.6 1047h0M770.3 1078.7h0M780 1076.5h0M826.5 1041.8h0M738.9 1116h0M792.8 1057.2h0M788.8 1062.9h0M776.2 1089.7h0M823.3 1032.6h0M800.9 1023.5h0M761.9 1087.3h0M821.2 1034.1h0M838.3 1039.7h0M797.9 1074.8h0M802.2 1046.1h0M815.5 1054.9h0M733.7 1125.4h0M803.3 1092.3h0M772 1117.8h0M781.6 1079.7h0M797.8 1023.2h0M791.1 1093.9h0M801.1 1076.9h0M783.4 1082.7h0M823.5 1055.2h0M755.3 1106.3h0M794.2 1025.8h0M812.2 1057.8h0M776.6 1101.3h0M760.3 1092.8h0M784.3 1024h0M840.7 1051.5h0M781.5 1103.4h0M833.8 1024.9h0M763.7 1025.1h0M803.9 1001.8h0M780.7 1014.9h0M792.4 1061.2h0M834.1 1021.4h0M788.4 1105.8h0M806 1069.8h0M766 1070.4h0M809.6 1095.7h0M772.7 1078.5h0M831.5 1049.2h0M749.9 1105.9h0M799.7 1073.2h0M831 1042.1h0M769.7 1029.4h0M779.3 1017.4h0M828 1014.3h0M821.9 1028.1h0M764 1108.7h0M837.9 1036.8h0M787.7 1088.7h0M803.3 1024.4h0M750.5 1034.5h0M769.5 1113.8h0M764.1 1094.2h0M811.1 1041.4h0M804.5 1074h0M830 1031h0M825.6 1050.6h0M778.7 1106h0M774.7 1110.9h0M818.4 1007h0M771.3 1064.9h0M790.1 1101.3h0M773.9 1124.6h0M769.8 1107.1h0M802.7 1026.9h0M754.2 1110.6h0M849.4 1033.6h0M786.8 1072.2h0M846.8 1046.8h0M834.4 1055.6h0M776.3 1105.3h0M789.9 1016.8h0M855.5 1030.1h0M783.3 1110.4h0M775.2 1043.8h0M793.1 1068.1h0M776.8 1116.7h0M781.3 1043.7h0M805.5 1018.3h0M783.1 1119h0M842.9 1047.4h0M801.5 1058.7h0M812.8 1046.2h0M779.9 1069.6h0M804.2 1037.2h0M819.8 1026.9h0M757.8 1116.7h0M838.3 1022.3h0M776 1122h0M797 1006.6h0M761.3 1019.7h0M817 1012.4h0M743.7 1129.3h0M843.8 1053.1h0M753.3 1041.1h0M779.4 1012.8h0M821.7 1008.1h0M724.1 1122.8h0M752.7 1029.1h0M775.8 1026.2h0M770.5 1094.5h0M835.8 1028.9h0M768.1 1123.5h0M788.4 1046.8h0M853.9 1022.9h0M855.6 1033.3h0M776.2 1070.1h0M793.8 1004.8h0M791.5 1004.9h0M786 1063.2h0M775.1 1019.1h0M757.7 1036.6h0M796.7 1072h0M806.7 1061.1h0M782 1097.2h0M790.3 1057.4h0M806.3 1089.3h0M785.2 1033.6h0M792 1090.3h0M776.6 1093.1h0M791.1 1051.4h0M813.2 1022.4h0M826.2 1058.8h0M790.5 1034.3h0M813 1051.9h0M741.2 1106.4h0M796.3 1093.2h0M793.2 1013h0M820.2 1020.1h0M829.1 1039h0M794.7 1018.7h0M809.3 1072.6h0M751.4 1116.2h0M767.3 1077.3h0M787 1009.2h0M840.8 1039.4h0M760.3 1084.6h0M785.9 1074.6h0M818.5 1066.1h0M818.5 1036.2h0M774.6 1083.5h0M817.1 1028.8h0M773.2 1104h0M790.6 1010.5h0M787.1 1081.2h0M812.4 1098.1h0M802.5 1054.6h0M809.1 1021.2h0M802.9 1102.8h0M783.1 1077.1h0M798.7 1087.3h0M812.6 1062.8h0M815.1 1042.6h0M791.3 1081.1h0M786.9 1086.5h0M824.7 1023.6h0M791.9 1107.8h0M832.8 1094.9h0M773.3 1086.7h0M811.8 1085.2h0M839.7 1016h0M814.5 1096.8h0M789.8 1070.2h0M784.4 1019.6h0M840.4 1035.9h0M737.3 1123.9h0M858.1 1030.9h0M836.4 1024.3h0M784.5 1116.2h0M810.1 1025.9h0M743.3 1132.6h0M753.8 1093.7h0M809.9 1070.1h0M838.4 1044.7h0M799.1 1063.1h0M769.7 1091.8h0M779.5 1100.6h0M732 1122.5h0M846.4 1033.2h0M807.4 1034h0M727.9 1123.8h0M754.8 1039.3h0M769 1017.5h0M798.3 1041.8h0M778.7 1041.7h0M788.2 1054.2h0M805.4 1026h0M748.9 1113.9h0M794.6 1052.1h0M828.8 1044.6h0M772.9 1024.6h0M764.1 1090.7h0M858.8 1039.4h0M802.8 1015.4h0M788.7 1019.4h0M783.7 1048.5h0M745 1115.2h0M799.8 1094.4h0M758.3 1140h0M788 1110.2h0M805.5 1092.9h0M788.1 1058.5h0M834.1 1089.8h0M733.1 1118.2h0M759.9 1039.3h0M831.1 1092.9h0M793.6 1007.7h0M796.9 1065.6h0M770.4 1076.3h0M835.5 1012.5h0M809.2 1047.3h0M806.9 1023.6h0M811.9 1015.8h0M763.3 1124.6h0M778.1 1120.6h0M793.8 1074.6h0M758.6 1024.2h0M799.3 1055.5h0M751.5 1122.7h0M852.3 1031.6h0M735.5 1116.8h0M768.3 1068.5h0M781.9 1020.8h0M811.7 1100.9h0M746.4 1132.5h0M756.7 1041.6h0M796.6 1107.1h0M829.3 1011.9h0M757.1 1034.2h0M803.8 1060.1h0M748.6 1133.7h0M762 1101.2h0M768.3 1088.2h0M799.9 1104.2h0M817.3 1084.5h0M814.9 1008.4h0M781.6 1089.5h0M823.7 1064h0M782.4 1033.7h0M773.2 1063.5h0M863 1023h0M759.5 1051h0M770 1043h0M765 1046h0M855 1059h0M854 1074h0M843 1075h0M1156.4 1225.9h0M1164.8 1235.6h0M1183.6 1228.9h0M1175.9 1222.2h0M1130.7 1230.4h0M1173.1 1205.8h0M1158.5 1215.3h0M1192.2 1225.5h0M1149 1239.9h0M1193.6 1221.1h0M1157.7 1228.2h0M1192.2 1195.3h0M1175.3 1227.1h0M1132.2 1241.6h0M1110.9 1237.5h0M1200.2 1200h0M1186.7 1220.1h0M1177.9 1207.6h0M1166.6 1239.4h0M1165.5 1241.9h0M1171.4 1232h0M1143.9 1224h0M1150.3 1231.6h0M1209.9 1212.2h0M1195.3 1206h0M1143.2 1220.1h0M1161.4 1238.3h0M1169.4 1219.9h0M1152.4 1238h0M1158.1 1212.8h0M1203.2 1212.9h0M1174.5 1197.3h0M1185.7 1230.3h0M1114.2 1240.4h0M1120.4 1240.6h0M1125.7 1243.9h0M1110.2 1239.7h0M1141 1235.7h0M1191.7 1199.2h0M1194.8 1201.6h0M1202.8 1201.1h0M1178.3 1214.8h0M1133.7 1233.8h0M1154.2 1230h0M1162.4 1233h0M1138.7 1224.3h0M1116.7 1243.8h0M1201.8 1216.2h0M1182.1 1231.2h0M1124.6 1231.1h0M1154.6 1236.7h0M1182.8 1192.3h0M1191.2 1207.3h0M1189.6 1210.4h0M1132 1236.1h0M1138.8 1236.2h0M1151.9 1223.6h0M1129.1 1227.2h0M1123.9 1237.3h0M1184.6 1210.7h0M1208.8 1206.6h0M1134.6 1225.1h0M1186.5 1209h0M1184.6 1194.6h0M1143.9 1216.1h0M1167.6 1206.9h0M1127.7 1230.2h0M1182 1218h0M1199.9 1214.5h0M1178 1229.3h0M1201 1197.4h0M1198.7 1223h0M1191.7 1218h0M1201.6 1226.4h0M1128.5 1240.1h0M1188.1 1212.7h0M1198 1210.3h0M1154.5 1227.2h0M1165.5 1209.3h0M1168.1 1211.7h0M1137.7 1238.5h0M1179.5 1240.1h0M1154.3 1240.1h0M1196.5 1203.4h0M1173.1 1218.7h0M1185.4 1204.5h0M1138.2 1229.9h0M1123.5 1240.8h0M1172.2 1220.9h0M1174.7 1233.7h0M1192.2 1229.3h0M1135.7 1230.5h0M1178.5 1218.2h0M1154.8 1219h0M1164.9 1216.5h0M1189.5 1224.8h0M1148.4 1218.1h0M1185.9 1214.2h0M1182.3 1198.6h0M1210.6 1216.4h0M1143.8 1243.6h0M1169.3 1241.8h0M1180 1197.9h0M1125.9 1233.2h0M1194.6 1225.9h0M1151.2 1221.1h0M1145.6 1245.6h0M1117.7 1233.8h0M1174 1211.5h0M1184.6 1224.3h0M1196.8 1217.2h0M1200.8 1204.2h0M1158.9 1220h0M1202 1207.1h0M1206 1223.9h0M1167.9 1217.4h0M1164.5 1218.8h0M1153.3 1242.3h0M1179 1202.4h0M1182.1 1213.5h0M1173.5 1225.3h0M1178.5 1199.9h0M1199.9 1218.1h0M1192.3 1213.1h0M1198.4 1212.8h0M1121 1244.1h0M1197 1195h0M1190.3 1202.3h0M1206.9 1209.9h0M1147.7 1243.7h0M1183.8 1238h0M1173.9 1215.1h0M1165.8 1222.1h0M1182.9 1204.8h0M1126.9 1235.6h0M1175.1 1200.7h0M1121 1236.6h0M1200.9 1210.6h0M1142.5 1239.8h0M1149.6 1228.1h0M1180 1193.2h0M1182.7 1223h0M1115.1 1235.2h0M1207.5 1201.8h0M1156.8 1223.7h0M1208.2 1219.7h0M1176.8 1205.5h0M1146 1222h0M1162.6 1207.3h0M1146.7 1232.1h0M1160.3 1235.4h0M1188.9 1198.2h0M1144.3 1230.6h0M1119.8 1232.2h0M1144.3 1228.2h0M1182.1 1233.8h0M1163 1222.8h0M1160.7 1224.8h0M1173.9 1230.2h0M1140.5 1232.2h0M1160.2 1213.9h0M1157.4 1241.3h0M1176.7 1238h0M1178.9 1223h0M1196.3 1222.4h0M1178.9 1227.1h0M1188.6 1229.6h0M1129.2 1234.3h0M1184.5 1218h0M1183.7 1207.5h0M1199.5 1228.9h0M1118.1 1240.9h0M1155.1 1233.7h0M1178 1210.2h0M1137.2 1222.4h0M1180 1225h0M1141.7 1229.4h0M1144.2 1237.6h0M1176.4 1219h0M1205.2 1205.1h0M1200.8 1222.1h0M1136.6 1234.2h0M1131.7 1239h0M1168.4 1225.9h0M1133.4 1227.4h0M1193.8 1203.7h0M1164.8 1224.7h0M1166.5 1231.8h0M1168.3 1229.5h0M1157.4 1235.2h0M1171.5 1240.1h0M1204.4 1217.5h0M1139.4 1221.6h0M1139.6 1239.9h0M1147.4 1228.9h0M1184.2 1220.5h0M1116.8 1237.4h0M1149.7 1244.8h0M1162.3 1240.4h0M1135 1239.9h0M1196.7 1220.3h0M1204.6 1209.6h0M1163.3 1243.3h0M1147.3 1215.3h0M1166.1 1226.9h0M1185.6 1235.3h0M1188.2 1218.2h0M1112.4 1234.7h0M1208 1215.1h0M1205.6 1213.8h0M1168.1 1221.9h0M1210.7 1218.7h0M1172.7 1201.4h0M331 635.4h0M336.6 632.6h0M341.8 629.2h0M358.3 614.1h0M360.8 612.4h0M355 616.2h0M330 634.8h0M343 626.5h0M349 620.5h0M363.5 611.5h0M365.2 610h0M339 628.5h0M505.2 948.6h0M507 954h0M514 949.8h0M518.8 948.2h0M520.4 951.4h0M515.6 964.2h0M521.2 966.6h0M525.2 964.2h0M526.8 957h0M534 961.8h0M512 957h0M920.8 362.4h0M1171.4 375.3h0M822.4 515.2h0M1062.3 275.7h0M1339.6 351.9h0M1093.3 337.4h0M875.7 266h0M889 484.9h0M1036.9 346.6h0M971.8 345.4h0M1268.6 414.1h0M1069.3 238.5h0M1003.7 381h0M1098.8 324.8h0M1021 382.4h0M1000.7 297.4h0M1261.4 384.9h0M1307.3 368.8h0M978.1 239h0M1061.9 392.4h0M900.2 528.6h0M893.8 449.1h0M1246.4 343.1h0M1283.4 367.1h0M1029.6 492.4h0M1094.5 277.4h0M1234 438.4h0M820.3 328.9h0M1364.9 361.4h0M1026.2 449.3h0M1058.1 457h0M986.6 529.4h0M1278.8 399.2h0M792.3 488.8h0M856.8 492.8h0M968 243.4h0M1053 300.7h0M872.5 554h0M822.4 495.9h0M1069.4 316.8h0M981.7 313.5h0M884.5 426.7h0M1310.7 457.6h0M1144.2 309.3h0M1112.3 331.7h0M890.8 451.9h0M942.6 231.8h0M1141.4 519.6h0M1032.1 368.3h0M811.6 506.7h0M946.8 533.6h0M1229.9 417.6h0M1070 404.3h0M1166.7 414.6h0M1076.7 254h0M1368.5 500.2h0M1211.8 375.5h0M1214.7 404.8h0M1130.6 398h0M1295.3 441.6h0M1216.6 396.3h0M1008.6 206.5h0M856.2 220h0M895.9 564.6h0M888.3 299.4h0M1015.1 315.1h0M818.6 364.4h0M1055.8 551.5h0M1167.3 455.2h0M1108.8 309.4h0M820.5 529.9h0M1162.5 541h0M1226.7 472.4h0M1170.8 442.4h0M827.8 224.1h0M830.1 471.7h0M879.2 225.6h0M1140.5 372.1h0M994 250.7h0M958.1 270.3h0M1091.2 276.7h0M853.2 240h0M853.5 231.5h0M828.5 324.2h0M865.6 305.9h0M1229.7 387.4h0M876.5 308.7h0M978.1 235.6h0M1225.6 592.1h0M1144.2 354.4h0M1272.9 571.1h0M1171.3 469.3h0M836.8 439.9h0M951.2 390.3h0M979.1 324.4h0M985.7 346.6h0M907.3 254.9h0M843.9 227.4h0M974.1 327.4h0M740.1 396.3h0M1060.6 302.9h0M1002.2 312.5h0M873.5 252.2h0M1207 438h0M856.2 405.3h0M1285.5 360.1h0M1370.7 377h0M1135 299.4h0M1093.2 324.7h0M999.1 285.9h0M1144.1 375.3h0M913 349.1h0M1180.3 511.9h0M888.9 537h0M917.6 300h0M1420.4 446.5h0M982.1 231.9h0M966.8 400.7h0M1141.4 483.1h0M1154.1 410.4h0M1253.2 494.6h0M1066.8 381.7h0M1106.3 535.5h0M1211.1 337.2h0M1221.2 526.9h0M1247.8 363.5h0M972 359.2h0M907.6 298.7h0M976.9 246.9h0M976.9 207.4h0M1035.5 502.3h0M959.4 541h0M828.2 515.6h0M1212.6 486.1h0M1055.7 280.7h0M1215.9 383.7h0M901.1 575.6h0M1130.3 305.7h0M921.9 223.1h0M1043.8 320.8h0M831.2 275.2h0M918.6 322.9h0M1088.3 275.4h0M945.3 208.2h0M1135.2 318.3h0M1190.6 399.4h0M1265.9 551.4h0M855.2 280.4h0M1395.4 455.4h0M1033.4 414.7h0M893.6 549.2h0M1358.8 360.5h0M896.5 448.8h0M1142.5 584.9h0M869.6 303h0M1163.3 417.3h0M885.4 530.4h0M855.4 226.7h0M1097.6 329.8h0M949.7 492.2h0M815.5 544h0M1033.3 423.2h0M957.4 501.1h0M1379.5 364.7h0M1200.8 568.3h0M780.7 437.5h0M1347.2 471.9h0M1394.7 483.7h0M1255.8 576.2h0M860.5 221.7h0M1085.7 587.5h0M1198.8 312.5h0M882.4 517.2h0M1393.5 406h0M813.7 352.7h0M1140.6 361.8h0M863 525h0M888.7 240.6h0M836.1 560.1h0M1286.4 356.3h0M848.2 357.6h0M1133 518.5h0M1311.2 416.7h0M915.4 250.3h0M1170.2 411.3h0M821 339.9h0M980.9 547.1h0M1050.8 351.7h0M1270 376.8h0M1203.3 446.6h0M966.2 332.9h0M926.2 350.1h0M944.5 362.3h0M1317.4 341.8h0M974.8 211.1h0M1331.2 355.3h0M1038.8 401.5h0M980 248.3h0M1248.2 496.9h0M1356.3 495.4h0M1306.2 464.2h0M894.4 373.5h0M860.8 538.8h0M1348.8 367.4h0M1374.1 389.1h0M894.2 286.6h0M871.3 523.7h0M1211.5 547.6h0M1298.5 483.1h0M930.5 551.3h0M1331.4 408.6h0M1290.6 487.3h0M894.9 446.8h0M1036.9 340.7h0M798.5 482.4h0M1380.7 443.1h0M906.1 548.4h0M895.2 495h0M1138.6 357.3h0M1152.9 319.9h0M1224.4 330h0M865.2 333.6h0M970.3 390h0M1081.3 545.6h0M1394.3 411.9h0M886.9 302.3h0M1073.3 311.9h0M953.4 503.6h0M1134.3 373.8h0M954.2 398.4h0M1070.6 356.3h0M1113.7 373.4h0M864.4 235.7h0M1078 482.7h0M1143.8 390.5h0M953.3 277.4h0M966.9 324.1h0M792.4 499.6h0M1183.5 550.2h0M882.9 293.8h0M1333.8 346.7h0M1352.8 476.9h0M764.5 401.4h0M1026.4 383.3h0M879.5 371.8h0M1230.2 394.2h0M1423 461.3h0M791 477.8h0M810.5 357.1h0M914.2 307.6h0M830.7 239.2h0M1221.4 422h0M1212.6 322.6h0M1402.7 447.8h0M1004.6 217.1h0M1130.6 336.2h0M811.9 451.5h0M893.6 228.2h0M1137.3 277.4h0M1199.3 396.6h0M818.7 272.3h0M1117.1 337.5h0M1003.7 542.3h0M1072 259.4h0M798.9 493.5h0M922.1 540.7h0M1030.7 432.5h0M1217.1 490.9h0M1133.5 503.8h0M1260.9 472h0M1171.7 379.9h0M968.1 491.6h0M944.3 271.3h0M1422.8 470.1h0M1251.9 439.3h0M1064.5 345.7h0M1186.8 411.7h0M1078 551.8h0M1214.4 509.7h0M1087.8 392h0M1067.7 297.2h0M1023.2 263.3h0M1200 378.1h0M1195.1 487h0M1159 397.3h0M1240.2 507.5h0M1088.7 516.5h0M931.7 200.1h0M1390.4 427.1h0M1100 541.3h0M883.4 462.8h0M843 498.6h0M887.5 496.2h0M915.4 395.2h0M1120.3 311.1h0M1209.2 557.4h0M927.8 534.5h0M934.1 216.1h0M854.8 474.1h0M961.1 275.5h0M1156.3 283.5h0M825.1 358.7h0M830.4 356.8h0M1024.8 389.6h0M1333 503.6h0M1186.7 312.9h0M1217.9 332.9h0M1199.4 305.8h0M1317.1 415h0M1185 440.3h0M815.3 356.9h0M1294 390.3h0M1162.4 443h0M1158.5 513.1h0M931.2 295h0M872.2 502.5h0M869.9 528.5h0M869.6 483.5h0M870.1 572.1h0M989.1 499.6h0M1021.2 242h0M1092.7 232.7h0M1013.7 266.2h0M852.3 509.8h0M905.8 566.9h0M1336.4 444.1h0M1321.7 384.7h0M998.4 533.7h0M1125 250.1h0M1187 399.5h0M1064.2 521.7h0M1059 518.5h0M1006.5 539.3h0M999.5 405.5h0M879 230.8h0M891.6 244.8h0M1151.2 503.3h0M1230.3 347.4h0M1040.8 540.3h0M1148.8 516.3h0M1084.6 583.4h0M1074.6 497.3h0M1237.4 521.3h0M927.5 457.2h0M1152.5 479.3h0M1229.4 423.4h0M1250 436.4h0M842.1 315.1h0M903.9 318.5h0M896.1 278.2h0M1154.4 328.6h0M1051.3 471.3h0M962.2 340.3h0M1400.5 441.9h0M934.6 522.7h0M1096 380.5h0M1152.6 388h0M867.3 542.2h0M1014.7 495.5h0M1245.8 339.2h0M883.6 256.8h0M1333.4 418.1h0M1187.5 479.9h0M1393.1 373.3h0M1213.7 385.2h0M1010.5 296.3h0M1259.8 404.9h0M1341.8 426.5h0M818.3 471.2h0M887.4 218.9h0M1351.2 422.4h0M989.6 393.7h0M973 330.4h0M1168.1 473.7h0M1179.9 285.6h0M1166.8 418.2h0M800.7 447.9h0M1327 352.8h0M1279.9 491.9h0M1373.2 415h0M1152.7 312.2h0M1081.4 259.5h0M1102.8 321.2h0M979.5 566.1h0M1074.2 249.3h0M1175.1 309.8h0M1179.4 449.8h0M1050 298.8h0M851.8 437.5h0M1289 334.2h0M946.4 316.2h0M890.3 449.3h0M1193 419.6h0M810.4 438.7h0M1198.8 607.1h0M1106.1 538.2h0M1079.2 426.8h0M1180.9 319.8h0M1186.8 419.9h0M1320.3 477.3h0M899.9 499.6h0M1175.8 292.4h0M954.3 417.2h0M1276.2 500.3h0M997.2 269.2h0M1161.9 345.4h0M875.5 303.1h0M861.9 423.9h0M841.9 383.1h0M814.6 538.1h0M1145.8 317.4h0M1009.6 571.9h0M1114.3 456h0M795.1 441.4h0M1200.6 551.3h0M995.4 430.2h0M935.7 311.6h0M1031.3 565.7h0M826.2 336.3h0M906.4 553.7h0M1222.8 323.8h0M1158 410.8h0M1324 507.6h0M864.4 566.4h0M1123.8 419.4h0M1315.7 503.3h0M1147 315.5h0M1077 580.6h0M869.5 235h0M1129.1 376.6h0M890.8 340h0M893 480.7h0M1302.8 483.2h0M1246.4 550.9h0M1088 320.1h0M1259.9 538h0M906 335.7h0M1022.3 318.7h0M1088.4 256.1h0M1168 369.6h0M1219 335.5h0M1182.9 545.6h0M1147.6 335.1h0M1262.2 335.7h0M1358.1 396.6h0M1014.2 551.3h0M1028.7 386.6h0M829.2 504.9h0M933.3 356.5h0M909.4 338.9h0M1092.7 288.8h0M1040 225.3h0M1171.1 298.1h0M1025.4 202h0M1192 497.4h0M968.8 275.9h0M1319.1 399.6h0M830.6 492.2h0M1233.3 433.6h0M1361.8 403.8h0M1061.1 520.6h0M1246.1 325.1h0M880.7 533.5h0M1256.3 461.1h0M1133.1 512.6h0M1087.4 338.8h0M849 307.9h0M1082.1 312.7h0M1313.6 389.4h0M1234 427.1h0M1300.5 406h0M1180.7 507.8h0M898.5 455.1h0M942.5 355.6h0M810.8 262.1h0M1152.4 518.6h0M1116.3 348.1h0M1051.8 431.4h0M849 547.9h0M855.7 506h0M1140.5 320.6h0M1071.7 341.9h0M1252.1 468.3h0M1096.1 447.4h0M1339.9 420h0M1209.7 454.7h0M801.6 284.2h0M773.4 400.2h0M878 396.4h0M990 302.4h0M1114.7 286.4h0M1067.1 451.4h0M850.1 523.5h0M1126.5 584.9h0M1372.8 496.7h0M992.3 496.3h0M1180.5 343.1h0M1307.2 415.1h0M1173.7 423.4h0M1236.2 400.2h0M1160.1 491.6h0M810.5 276.4h0M848.7 509h0M924.5 233h0M832.6 529h0M1226.4 323.3h0M954.1 522.4h0M983.5 279.3h0M959.1 335.8h0M1184.8 410.1h0M1189.1 348.3h0M852.1 361.8h0M822.1 446h0M1229.8 579.2h0M1002 392.1h0M1066 477h0M1226.1 487.7h0M1269.5 349.2h0M1063.7 235.1h0M1136.8 338.5h0M885.3 236.4h0M1077.9 231.4h0M837.2 536.5h0M1163.5 463.2h0M1281.6 473.7h0M879.5 469.1h0M1122.1 336.7h0M1207 446.1h0M1051 596h0M1206.6 319.9h0M1010.2 299.8h0M864.6 281.1h0M1296.3 419.5h0M1229.7 465.6h0M1231.1 367.1h0M965.1 488.1h0M1129.3 456h0M783.6 423.4h0M784.7 443h0M1247.7 423h0M1182.1 591.5h0M1028.7 322h0M1353.9 441.6h0M1165 315.3h0M838.9 359.6h0M1204.2 373.1h0M1149.5 405.6h0M843 368.7h0M934.3 509.1h0M1193.1 404.4h0M896.3 362.3h0M813.1 442.1h0M1218 400.8h0M1128.9 422.1h0M933.2 484.4h0M920.2 204h0M1226.8 407.2h0M1036.1 298.4h0M1141.8 336.9h0M843.7 436.9h0M886.2 542.2h0M1101.2 429.3h0M832.9 363h0M940.5 336.3h0M1149.5 339.3h0M834.4 521.1h0M985.7 228.2h0M866.1 547.1h0M870.9 563h0M868.2 327.2h0M1073.3 262.9h0M882.9 260.3h0M1256.4 496h0M957.1 261.5h0M1110.9 288h0M1023.3 286.4h0M1180 521.9h0M929.7 464.3h0M1370.9 367.4h0M1085.9 313.5h0M1095.1 366.5h0M1215.3 585.2h0M846.7 395.2h0M992 216.2h0M866.9 369.1h0M1143.4 326.8h0M806.9 297.4h0M1401.6 481.8h0M865.2 507.3h0M1323.2 473.6h0M868 463.8h0M1237.4 356.2h0M1102.6 574.7h0M891.9 537.5h0M1355.9 430.7h0M860 523.9h0M1277.8 387h0M1126.6 530.2h0M1045.3 289.1h0M1074.8 217.1h0M1346.5 464.5h0M1186.5 339.9h0M897.9 234.9h0M1094.4 339.9h0M970.6 322.3h0M896.7 298.8h0M1248.5 567.6h0M959 318.3h0M907.8 218h0M1140.8 330.5h0M919.7 348h0M1071.1 514.7h0M855.4 334.7h0M842 480.9h0M821.3 538.3h0M1213.7 414.9h0M1064.5 466.4h0M1030.1 444.2h0M876 573.5h0M911.6 569.1h0M1190.7 504.8h0M1203.4 337.8h0M1131.5 325.4h0M872.9 337.7h0M1264 346.1h0M1263.3 370.8h0M947.7 557.3h0M1310.7 448.4h0M1117 303.4h0M857.2 555.9h0M986.6 425.3h0M973.1 403.8h0M750.8 397.6h0M895.7 454.7h0M902.6 548.9h0M1010.7 548.6h0M994.2 297.8h0M1192.7 304.9h0M916.9 493.2h0M842 403.8h0M917.5 560h0M1195.3 510.5h0M1060.4 603h0M1140.2 301.9h0M809 353.5h0M818.7 459.2h0M866.7 235h0M1231 390.2h0M1131.3 541.6h0M1025.5 583.4h0M963 227.9h0M1153.9 393.2h0M1001.4 200.4h0M937.9 341.5h0M836.4 325.8h0M988 230.7h0M995.5 435.7h0M1034.2 264.6h0M1120.1 322.2h0M1010.7 431.2h0M1123.4 266.6h0M891.2 541.1h0M777.4 429.3h0M800.2 467h0M1050.1 269h0M1124.7 382.7h0M851.5 349.4h0M952.2 497.5h0M1305.4 347.3h0M1135.9 310.1h0M1112.3 234h0M939.3 323.3h0M926.9 341.7h0M1106.8 390.8h0M1158.7 508.4h0M1016.1 361.2h0M900.9 465.3h0M836.8 446.7h0M868.8 467.7h0M781.4 432.1h0M1146.7 285.6h0M897.8 484.8h0M1101.9 355.8h0M1071.3 406.8h0M1222.9 369h0M938.7 270.3h0M854.2 562.5h0M1126.1 336.9h0M1212.1 523.9h0M1228.1 549.7h0M1099.2 234.1h0M1278.7 352.8h0M1211.1 616.3h0M878.6 240.6h0M1259.3 353.1h0M849.6 498.1h0M1124 274.7h0M919.9 290.6h0M791.9 422.6h0M1101.6 303h0M1076.9 411.1h0M904 219.2h0M1083.3 472.7h0M1107.7 313h0M1129.3 312h0M825.9 463.6h0M1311.9 436.7h0M1136.1 427.7h0M1240.4 406.3h0M1048.1 340.4h0M843.6 242.9h0M1240.5 460.8h0M921.2 278.4h0M1222.7 467.7h0M1301.5 424.3h0M1049 495h0M868.7 512.9h0M778.7 387.2h0M981.3 263h0M1167.7 435.1h0M1009.8 421.9h0M1338.5 372.1h0M857.7 452.1h0M1051.8 554.1h0M1061.4 299.9h0M1265 460.8h0M1101.4 410.5h0M996.1 246.3h0M1208.2 386.1h0M1263.4 482.8h0M860.9 530.1h0M1083.9 267.5h0M1256 331.2h0M859 225.3h0M861.5 346.8h0M1109.9 474.2h0M1046.5 465.2h0M1232.6 483.1h0M1185.1 334h0M830.7 455.3h0M1404.2 393.9h0M944.3 338.1h0M1066.2 274.3h0M1025 438.2h0M1049.5 381.4h0M814.8 468.7h0M933.3 327.1h0M963.1 244.3h0M1026.7 399.1h0M820.8 385.6h0M1104.4 438.8h0M1113.9 466.4h0M1274.4 456.5h0M972.5 273.7h0M1219.2 482.7h0M903.4 519.4h0M1149.2 314h0M1020.9 277.3h0M1126.4 487.2h0M1016.7 498.4h0M1109.3 303.9h0M1232 501.1h0M1063.9 417.3h0M1034.7 235.5h0M1115.5 248.3h0M1196.1 556.4h0M952.6 254.4h0M1342.9 414.6h0M1390.6 467.7h0M806.2 457.9h0M1071.1 390.3h0M805 486.1h0M1162 331.4h0M1055.8 524.5h0M1043.7 578.7h0M887 514.1h0M1232.8 336h0M975.5 382.2h0M1183.1 298.8h0M952.4 561.9h0M1248.2 454h0M998.6 311h0M938.8 305.4h0M1294.6 471.5h0M1220.5 403.1h0M1180.1 385.4h0M827 235.2h0M1242.6 562.1h0M1076.7 320.9h0M1024.3 230.4h0M926.3 524h0M878.9 235.2h0M903.8 355.5h0M1301.4 411.5h0M1393.4 417h0M894.6 304.3h0M1409.9 475.3h0M1223.9 414.3h0M1142 314.5h0M1206.5 487.8h0M875.9 259.3h0M1378.4 438.4h0M1364.1 372.4h0M1213.3 325.9h0M965 290.3h0M1001.7 485.4h0M1083.7 270.5h0M1224.1 403.1h0M1145 333.6h0M1129.6 451h0M1129.2 258.4h0M1062.5 516.4h0M1169.1 340.9h0M1063 323.9h0M1103.7 318.1h0M1110.2 244.7h0M795.7 490.9h0M891.3 558.6h0M785.2 364.9h0M1309.4 348h0M875.3 543.5h0M1365.5 407.3h0M925.6 489.9h0M1146.7 263.3h0M855.6 439.8h0M1087.5 262.8h0M1330.7 402.2h0M912.6 372.3h0M1210.1 580.1h0M1146.3 549.3h0M1331.6 351.5h0M1129.7 327h0M1060.4 381.2h0M1056.1 360.2h0M1208.3 459.6h0M1348.4 357.5h0M935.5 267h0M917.2 508.2h0M963.3 509.1h0M1167.3 379.3h0M1054.9 319h0M953.1 489.4h0M1046.2 518.4h0M1206.5 503h0M1144.8 494.3h0M922.4 479.7h0M1164.9 430.5h0M1203.9 383.1h0M1194 365.7h0M1202.2 423.6h0M795.2 493.9h0M1232.3 457.4h0M1175.5 541.9h0M859.9 290.6h0M1096.1 376.1h0M923.8 236.7h0M1183.3 308.7h0M980.9 477.9h0M916.4 354.6h0M866 449.6h0M1063.1 412.3h0M858.2 481h0M792.1 455.4h0M924.6 201.2h0M960.3 509h0M807.9 451.7h0M1049.7 262h0M1077.3 443.4h0M1088.4 473.7h0M904 546.3h0M930.6 226.6h0M978.5 397.5h0M1075.3 416.7h0M834.7 548.8h0M1297.1 515.5h0M979.4 286.2h0M1030.6 215h0M1071.6 360.2h0M1148.9 402.8h0M896.5 489.7h0M908 556.6h0M947.9 530.6h0M856.6 282.3h0M948.5 564.8h0M1014.4 501.6h0M961.6 218.5h0M797.2 428.8h0M1060 341.1h0M896.3 309.2h0M1134.8 407.8h0M1072.5 432.6h0M922.3 469.8h0M1057.5 234.4h0M1253.7 478.5h0M837.7 487.8h0M1242.1 457.7h0M975.5 275.4h0M909.5 220.5h0M1159.8 265.3h0M1316.7 423.8h0M1222.3 454.6h0M1247.7 543.7h0M1159.3 464.8h0M1311.7 398.3h0M951.3 318h0M1260.2 521.4h0M1100.9 280.7h0M1153.1 445.2h0M946.9 265.1h0M919 212h0M1424.2 445.6h0M1372.6 403h0M1193 353.3h0M863.9 576.4h0M999.4 227.6h0M1111.7 420.8h0M1100.7 373.7h0M971.7 313.5h0M1355.8 388.2h0M1177 459.1h0M1141.6 500h0M1035.1 404.1h0M1330.1 373.9h0M1328 377.4h0M886.7 310.8h0M865.1 388.1h0M1141.8 307.2h0M1221.1 395.7h0M1108.4 260.9h0M842.9 455.2h0M921.3 202.1h0M852.7 403.7h0M1179.8 534.7h0M845.7 456.9h0M1064 479h0M1247.9 406.1h0M1356.3 448.8h0M1036 541.1h0M1114.5 317.3h0M1362.9 462.6h0M1045.6 380h0M1009.7 228.4h0M1111.6 341.4h0M1298.4 472.7h0M1086.4 388.4h0M1235.5 351.5h0M965.7 329.3h0M1067.1 312.4h0M1145.6 324.3h0M892.8 247.6h0M911.9 547.7h0M1011.6 435.5h0M1114.1 498h0M921.9 342h0M1160.9 288.7h0M929.4 237.1h0M1213 459.3h0M1005.4 346.2h0M1025.8 358h0M862.2 414.5h0M1019.9 567.1h0M978.3 267.6h0M1102.8 312.4h0M1153.2 353h0M888.3 290h0M845.9 533.4h0M1155.3 313h0M1223.6 410.1h0M1138.6 368.7h0M972.8 294.7h0M1138.6 326.3h0M1110.9 478.4h0M1171.9 388.2h0M1046.1 300.6h0M1022.8 218.8h0M1066.7 509.7h0M917.3 472h0M873.6 488.6h0M1152.2 432h0M896.3 283.5h0M1208.6 478.7h0M1350.6 444h0M992.5 393.1h0M880.5 557.7h0M813 548.9h0M928.8 472.4h0M1032.3 251h0M1215.5 410.1h0M989.1 336.4h0M1263.1 513.6h0M1087.1 423.9h0M1212.9 537.7h0M806.9 252.2h0M945.3 380.2h0M857.7 468.8h0M897.5 313.7h0M1168.9 446.3h0M1137.6 448.2h0M791.8 439.4h0M1223.8 495.4h0M1260.4 509.6h0M1090.7 262.5h0M1218.6 405.7h0M1239.3 348.8h0M1184.8 457.5h0M827.6 522.2h0M836 529.5h0M1010.6 356.2h0M1095.5 292.7h0M916.5 564.7h0M1176.4 449.6h0M914.8 533h0M982.9 300.4h0M1238.5 504.6h0M1047.6 477.7h0M925 365.7h0M1105.8 464.7h0M827.4 510.5h0M862.7 512.2h0M866.6 515.9h0M1342.9 460.4h0M961.5 398.3h0M1025.5 456h0M964.2 522.6h0M1150 271.9h0M955.3 209.7h0M1146.4 369h0M1174.7 338.2h0M1267.3 588.6h0M993.8 329.4h0M1038.3 271.1h0M1326.1 463.4h0M1406.4 427.6h0M801.3 470.3h0M1181.1 405.7h0M936.1 269.4h0M874.6 299.3h0M969.6 339.1h0M1292.5 442h0M1072.9 509.8h0M1113.1 279.7h0M974.7 348.2h0M1166 501.9h0M814.7 521.1h0M868.2 365.8h0M1347 467.2h0M1213.5 319.4h0M958.9 551.4h0M836.1 246.3h0M1370.9 448.7h0M1217.3 328.7h0M1037.5 392.6h0M1137.2 376.7h0M1117.8 342.3h0M983.4 234.3h0M984.2 238h0M1104.8 265.8h0M919.2 326.8h0M1021.1 396.4h0M1171.6 328.3h0M961 380.5h0M1368.3 364h0M1144.3 459.6h0M1285.3 340.2h0M1005.2 506.2h0M1204.5 301.3h0M912.4 344.3h0M1119.9 441.6h0M1110.7 249.1h0M955.3 200h0M1170.9 459.1h0M1099.9 518.9h0M952.5 557.6h0M1369.5 402.6h0M812.2 249h0M1199.8 446.6h0M846.6 541.7h0M899.9 242.2h0M1367.6 385.8h0M1166.1 476.8h0M1149.5 352.5h0M1167.6 515.4h0M1093.3 459.2h0M878.3 261.4h0M781 424.1h0M1002.3 366.9h0M1073 338.7h0M1372.8 410.1h0M993.4 221.6h0M1148.9 342h0M1204.5 449h0M885.6 372.6h0M1210.4 392.9h0M848.9 240.3h0M829.3 270h0M890.4 359.8h0M957 389.4h0M1089.8 384h0M1135 245.9h0M829.9 344.3h0M1213.6 389h0M1322.4 372h0M1238.9 377h0M813.7 483h0M1299.6 432.4h0M804.2 442.7h0M965 234.2h0M934.7 364h0M1139.1 392.2h0M897 354.3h0M1124.8 293.5h0M1005.9 352.4h0M973.7 420.1h0M1300.2 467.9h0M960.3 524.1h0M890.6 417.2h0M927.9 565.1h0M887 446.7h0M1078.2 415.7h0M1232.9 478.9h0M935.8 469.5h0M850.2 459.5h0M1140.5 258.3h0M832.3 350.2h0M1069.4 521.8h0M836 545.2h0M1257.6 481.6h0M1054.7 256h0M1280.5 529.5h0M1060.2 537.6h0M1239.5 353.8h0M1280.3 408.4h0M823.5 505.7h0M1140.5 312h0M979.3 344.2h0M1347.1 422h0M1157.3 406.5h0M1236.4 517.7h0M966.6 240.8h0M1201.2 520h0M1233.4 583.9h0M1122.8 411.3h0M1242.5 449.6h0M792 434.7h0M924 506.5h0M875.4 507h0M1199.4 414.4h0M967.6 282.9h0M1234.6 464.3h0M1211.4 390.6h0M1079.5 360.8h0M1270.8 408h0M1125.9 491.3h0M1283.8 517.8h0M1208.5 359h0M1094.9 327.3h0M1137.6 512.6h0M1192.4 374.6h0M1214.8 557.7h0M818.3 353.2h0M1132 363h0M1307.3 509.3h0M988.3 247h0M1233 392.8h0M1374.4 363h0M1042.5 497.2h0M1121.3 327.5h0M1135.1 357.7h0M1049.8 512.9h0M1239.9 372.9h0M1265.4 385.5h0M1346.3 490.8h0M1196.9 308.3h0M1182.1 372.1h0M1238.9 410.4h0M1197.2 371h0M1043.4 463.2h0M1008 329.3h0M1242.4 374.7h0M1102.8 469.8h0M938.3 512.7h0M913.5 465h0M1224.9 390.4h0M1239.7 452.6h0M886.2 298.1h0M1403.2 479.6h0M931 351.2h0M823.5 533.9h0M1225.2 326.3h0M1270.4 385.5h0M1050.4 591.2h0M1127 321.2h0M1176.9 400.2h0M880.8 503.1h0M1244.7 556.5h0M1231.9 489.3h0M994.4 235h0M950.2 542.1h0M1002.2 446.1h0M1225.8 416.7h0M945.6 500.2h0M955.4 517h0M997.3 315.5h0M982.7 228.9h0M880.4 256.7h0M860.7 251.5h0M776.2 432.1h0M942.8 413.2h0M1108.3 324.2h0M941.7 350.1h0M1061.4 397.3h0M1143.3 489h0M1190.6 299.9h0M824.5 518h0M911.8 379.5h0M1147.2 498.6h0M1417.2 435.7h0M965.9 539.1h0M1010 499h0M837.5 289.1h0M1037.4 500.1h0M1109.6 409.4h0M1184.4 379.4h0M936.3 200.4h0M975.2 257.3h0M1230.8 448h0M1009.2 415.3h0M1030.3 329.8h0M1065.7 292.7h0M938.2 539.4h0M874.7 355.3h0M1113.8 304.9h0M959.9 310.8h0M951.7 516.2h0M1232.7 599.8h0M785.3 468.3h0M941.2 274.9h0M957.9 359.6h0M1243.2 380h0M1187.1 521.2h0M994.2 367.1h0M1077.9 478.8h0M942.4 387h0M1312.9 499.4h0M789.6 496.3h0M1057.7 264.1h0M1333.5 474.3h0M804.8 520.3h0M912.9 218h0M882.1 540h0M1020 420.1h0M1080.2 601.1h0M1205.9 348.8h0M1145.5 553.4h0M1381.8 469.4h0M819.5 284.4h0M809.7 434.8h0M879 479.8h0M861.8 355.9h0M1117 258.3h0M1071 567.8h0M876.7 294.6h0M1081.3 277.6h0M1131.9 590.3h0M1252.6 502.7h0M1133.7 484.1h0M865.1 226.2h0M1075.5 225.4h0M900.9 226.5h0M1236.6 394.6h0M1141.9 415.2h0M905.3 279.3h0M1019.7 214.6h0M827.4 386.2h0M797.4 452h0M1033 497.2h0M913.9 328.4h0M924.7 521.2h0M1170.7 287.4h0M893.8 215.1h0M1269.7 574.5h0M1053.5 478.7h0M1180.4 487.9h0M855.6 534.8h0M973.8 514.3h0M958.5 347.9h0M1097.2 456.5h0M1085.1 359.7h0M1248.3 491.9h0M961.6 354.9h0M1221.8 343.5h0M1058.7 251.1h0M1127.8 484h0M899.2 536.9h0M1011.2 201.5h0M823.6 552.5h0M862.6 332.5h0M837.9 306.8h0M1240 444.6h0M874 286.4h0M1304.1 380.8h0M1215 359.4h0M1273.3 453.7h0M853.8 220.8h0M887.5 569.9h0M871.4 270.2h0M835.7 297.2h0M982.9 348.5h0M1390.7 476.1h0M768.8 406.5h0M801.8 524h0M1038 257h0M821 547.2h0M787.4 489.8h0M1379.5 448.9h0M1250 555.6h0M1304.6 397.2h0M1226.3 463.3h0M922.9 300.8h0M879.8 319.5h0M1316 382.1h0M1052.9 343.6h0M1092.5 415.8h0M1067.8 460.8h0M1181.9 313.8h0M1019.4 361.2h0M844 537.5h0M1202.1 488.4h0M1114.1 485.9h0M1394 446.4h0M937.8 509.8h0M819.3 551.4h0M830.1 484.6h0M839.3 491.1h0M995.5 320.2h0M1121.2 417.8h0M807 525.8h0M894.5 568.1h0M1275 575.4h0M878.7 311.2h0M878.3 536.8h0M1226.6 330.6h0M1082.6 227h0M1030.8 206.7h0M995 426h0M955.8 511.1h0M941.2 224.8h0M839.3 548.5h0M944.1 564.3h0M1046.6 265.8h0M1259.9 440h0M863.1 230.9h0M854 234.2h0M1125.8 268.9h0M1115.9 281.1h0M1051.1 518.8h0M1214.2 328.2h0M957.9 314.9h0M1138.2 323.1h0M1284.5 335.6h0M935 345h0M1037.7 549.9h0M1200.4 596.9h0M1015.8 257.2h0M1411.7 435.6h0M1363.7 456.6h0M1170.5 318.5h0M1038 421.5h0M868.7 287.8h0M1127.3 298.8h0M958.1 252.8h0M1317.8 369.2h0M797.3 447.5h0M1068.7 368.9h0M1352.4 403.3h0M1394.8 466.3h0M1168.4 269.6h0M1062.6 266.7h0M1321.4 466.1h0M993 248.1h0M939.9 569.9h0M893.9 344.8h0M907.2 266.9h0M1217.7 544.6h0M781.3 444.9h0M1214.2 470.6h0M1157 482.6h0M840.5 434.7h0M1291.5 497h0M1033.2 312.7h0M1185.2 401.6h0M1071.4 427.5h0M1168.9 504.6h0M1098.3 438.7h0M816.4 327.6h0M1241.8 478.6h0M1233.8 347.5h0M1210.6 353h0M1404 423.5h0M1302.7 421.6h0M1015.2 208.2h0M933.8 210.6h0M1403.5 413.2h0M1101.1 544.7h0M933.8 331.5h0M826.9 265.3h0M1357.5 441.7h0M889.7 214.5h0M1019.4 231.9h0M1383.1 372.6h0M781.6 451.5h0M1068.6 413.9h0M1010.8 321.5h0M945.4 312.7h0M945.4 215.4h0M1234.8 489.6h0M1090.1 435h0M830.3 304.8h0M1246.6 500.3h0M1185.2 319.9h0M807.1 433.3h0M1121 532h0M1172.8 473.4h0M1122 346h0M929.5 504.7h0M1167.2 389.8h0M1243.5 353.4h0M897.9 202.5h0M1376 462.9h0M841.4 493.7h0M1010.6 406.1h0M857.2 231.6h0M979.3 514.3h0M1143.3 453.3h0M1086.4 489h0M990.6 342.2h0M1057.3 473.3h0M1070.2 374.3h0M1162.5 365.8h0M1394.3 394.8h0M1174.8 504.7h0M971.4 471.6h0M957.5 217.2h0M1175.4 284.1h0M1392.1 388.2h0M1065.8 223.1h0M1390.2 374.8h0M1043.2 233.3h0M1052.6 368.2h0M873.9 280.1h0M981.4 383.8h0M1040.7 448h0M1258.5 470.5h0M989.2 294h0M1207 575.8h0M1218.2 605.4h0M869.5 393h0M1025.7 261.3h0M1242 606.8h0M1145.6 342.5h0M1183.6 453.7h0M954.4 322.9h0M1355.5 438.8h0M825.5 248.1h0M1180.6 300.1h0M841.4 525.9h0M1184.6 491.8h0M1060.8 219.1h0M1361 397.1h0M831.4 555.8h0M1031.9 218.5h0M815.4 448.6h0M1093.8 238h0M1122.9 470h0M1025.7 468.2h0M858.3 371.7h0M871 308.8h0M810.2 245.5h0M918.6 226.8h0M1078.5 492.4h0M1220.7 317h0M911 463.9h0M1088.8 400.5h0M1261 505.6h0M892.6 461.2h0M833.4 237.6h0M1188.1 472h0M966.2 544.5h0M1100.9 335h0M820.6 456h0M868.1 217.5h0M932.6 535.3h0M1332.1 445.1h0M945.2 280.6h0M1022.4 362h0M987.3 289.6h0M869.6 316.1h0M1162.4 449.1h0M953.2 529h0M1100 420.8h0M1304.4 429.4h0M1145 513.5h0M1065.8 335.6h0M907.1 510.1h0M1233.7 361.7h0M945.5 327h0M1035.2 436.7h0M1318.9 388.8h0M805.3 462.2h0M1063.4 505.8h0M863.4 572.8h0M1246 585.7h0M1288.3 411.3h0M876.8 316.8h0M973.9 546.1h0M945.8 274.3h0M799.2 518.5h0M1233 507.9h0M1181.1 340.2h0M1079.3 556.9h0M1276.8 363.9h0M1036 495.2h0M1204.9 339.6h0M949.3 362.1h0M970.6 502.6h0M1002.4 548.7h0M1233.8 381.9h0M1199.9 335h0M1298.4 350.3h0M845.4 333.6h0M1283 539.3h0M1220 414.7h0M1027.9 392.3h0M1197.3 433.7h0M903.9 338.3h0M882.5 568.3h0M1139.5 365.5h0M928.2 327.2h0M1188.6 334.5h0M1217.9 510h0M1255.4 446.5h0M1406.4 409.5h0M868.9 356.1h0M1288 401.5h0M1010.3 524.1h0M985.4 225h0M821.3 297.9h0M847.5 475.6h0M846.5 530.4h0M1238.4 591.4h0M906.4 331.1h0M909.2 312.7h0M1183.2 533.9h0M1124.7 369.9h0M863 476.2h0M1004.9 330.4h0M1152.1 274.3h0M965 272.9h0M1222.7 362h0M1096.2 408.9h0M969.7 399.2h0M880.7 304.7h0M903.2 230.1h0M1202.9 325.1h0M802.8 449.7h0M1109.8 553h0M1201.6 448h0M997.3 546.2h0M1351.5 509h0M1257.9 396.9h0M1051 359.1h0M1171.8 397.6h0M841.1 239.1h0M1060 240.8h0M1050.8 241.4h0M905.5 540.9h0M1298.1 443.1h0M1197.9 577.3h0M985.8 434.4h0M992.6 290.3h0M909.5 532.8h0M960.7 535.9h0M1301.5 398h0M1117.7 432.2h0M878.5 488.7h0M1307.2 447.5h0M1393 488.1h0M1158.1 519.6h0M1269.7 541h0M788.3 462h0M861.5 550.1h0M1187.6 388.1h0M1198.9 557.7h0M1131.9 388.4h0M976.5 393.2h0M871.9 289.6h0M1277.5 459.1h0M1121.7 512h0M831.3 447.1h0M972.3 392.4h0M1162.8 314.1h0M1381.6 404.5h0M1147.3 383.5h0M897.2 547.4h0M1082.3 561.4h0M930.9 455.4h0M1207.9 520.5h0M853.2 485.9h0M886.7 353.8h0M890.1 384.5h0M869.5 320.7h0M809.2 523.9h0M1159.5 337.7h0M1122 235.1h0M1137.2 362.9h0M1000 561.8h0M1042.8 416.8h0M1113.9 334.8h0M867.7 278.6h0M838.1 262.6h0M1132 262.6h0M1220.8 465.2h0M1314.2 473.3h0M1143.9 367.8h0M1118.3 575h0M1059.9 296h0M924.4 563.9h0M954.6 537.4h0M1375.5 372.7h0M944.7 259.6h0M977.5 405.5h0M996.5 200h0M1079.3 437.2h0M1051.4 223.1h0M867.6 569.2h0M1228.6 488.7h0M937.8 257.3h0M845.6 452.6h0M1341.2 509.7h0M809.7 474h0M1103.9 308.8h0M836.3 524.9h0M965.8 424.6h0M996.6 370h0M918.1 516.1h0M902.4 346.9h0M791.2 371h0M1058.3 447.2h0M1121.6 490h0M1172.1 353.3h0M1043.5 553.8h0M889.3 555.1h0M1246.4 465.9h0M927.7 291.5h0M936.9 495.9h0M1366.8 380.2h0M989.2 241.7h0M1037.7 279.7h0M1015.2 346.1h0M831.3 519.8h0M866.6 308.6h0M1246.1 469.8h0M973.5 205.6h0M1306.8 431.2h0M1355.9 504.6h0M847.2 535.9h0M844.1 507.1h0M936.2 247.5h0M1181.7 504.7h0M805.5 448h0M1214 614.8h0M878.6 520.1h0M982 318.2h0M1291.1 434.1h0M1130.4 480h0M1108.3 344.8h0M1102 423.2h0M873 263.2h0M1025.1 225.9h0M1172.9 491.4h0M887.3 252h0M1036.4 463.4h0M949 282.5h0M1184.3 436.1h0M1194.3 507.1h0M1004.8 207.7h0M979.5 378.2h0M1129.4 302.3h0M872.5 534.8h0M1362 488.1h0M1172.6 548.3h0M857.7 236.4h0M1217.7 564.9h0M1283.6 530h0M1204.8 467.3h0M1128.9 268.6h0M924.2 353.8h0M782.9 403h0M948.9 204h0M832.6 325.2h0M1116.1 295.6h0M865.3 358.5h0M1252.6 362.6h0M1123 278h0M1121.4 248.9h0M988.1 298.2h0M949.2 264.6h0M835.3 486h0M1290.3 481h0M1125.6 364.5h0M809.5 430.4h0M1060.9 508.1h0M881.4 381.7h0M1345.3 357.4h0M1022.6 566.2h0M1145.6 338.6h0M907.7 381.4h0M1208 550.9h0M1331 425.2h0M1170.3 391.9h0M861.8 506.7h0M1007.8 264.2h0M1106.8 492.2h0M929.9 522.6h0M894.6 525.8h0M900.3 314.6h0M989.7 477.8h0M1059.6 373.4h0M883.6 453h0M1241.2 582.8h0M1259.4 490h0M1137.5 525.6h0M981.1 493.3h0M987.2 358.9h0M821 336h0M1160.7 431.5h0M1398.4 424.8h0M1087.6 354.9h0M871.6 238.9h0M1028.8 451h0M989.8 201.9h0M847.8 442.9h0M1132.3 317.9h0M1378.8 407.7h0M1021.3 321.2h0M961.4 529.1h0M894.2 292.7h0M915.9 271.7h0M1178.5 289.7h0M1183.9 446.4h0M1329.5 476h0M879.9 497.7h0M1144.5 382.3h0M783.8 457.2h0M902.6 331.3h0M1005.9 397.3h0M1139.8 333h0M1042.9 342.1h0M1106 453.2h0M1012.2 255.7h0M1020.8 501.4h0M1078.1 475.7h0M1236.2 341.7h0M1243.8 391.3h0M1127.7 260.7h0M966.5 264.9h0M905.3 306.3h0M911.2 557.3h0M865.3 313.6h0M855.3 382.2h0M844.3 309.5h0M1002.5 319.7h0M1249.1 570.7h0M1288.5 455.2h0M804.7 506.9h0M1323.4 347.6h0M1133.3 313.9h0M851.6 463.6h0M1155.4 359.7h0M827.5 486.5h0M1244.2 411.2h0M1333.1 358h0M1113.3 337.5h0M1248.4 503.9h0M1162.4 427.1h0M1142 515.7h0M1239.5 396h0M1026 350.5h0M1193.1 522h0M1038.2 243.5h0M936 319.7h0M1147.9 569.5h0M1059.9 408.8h0M1397.8 376.1h0M882.1 277.2h0M1397 396.9h0M816.8 442.3h0M941.1 358.4h0M991.8 439.3h0M1222.3 606.7h0M1163.6 522.7h0M1071.6 297.9h0M881.6 528.7h0M1255.7 554.6h0M1081.5 508h0M1007.6 355.7h0M1246.2 330.2h0M1163.8 517.7h0M938.3 476.6h0M864.9 529.5h0M933.5 376.9h0M1063.9 460.9h0M854.1 457.5h0M1033.7 524.7h0M1385.4 390.5h0M1253.8 506.9h0M835 516.3h0M1159.5 381.1h0M800.7 529.1h0M865.4 441.2h0M1240.6 427.2h0M1072.7 472.7h0M1090.6 317.2h0M1307.3 380.5h0M1089.6 227.3h0M1260.7 593.8h0M1145.1 266.4h0M808.8 416.6h0M1208.6 498.3h0M1219.3 350.2h0M964.3 501.4h0M826.4 443.4h0M944.5 384h0M1198.9 399.6h0M972.5 424.6h0M915.4 316.1h0M1321.3 368.3h0M1323 340.7h0M885.8 539.3h0M1081 517.7h0M1321.7 451h0M1057.1 287.1h0M1158.5 408.4h0M842.5 358.8h0M1088.4 581.9h0M1042.6 473.8h0M878.2 366.2h0M991 233.3h0M1126.8 345.6h0M842.8 474.1h0M1221.2 545.5h0M805.5 437.6h0M902.6 359.6h0M843.4 563.8h0M1242.6 334.7h0M1267.6 404.2h0M841.8 534.5h0M979.9 348.4h0M1219.3 319.6h0M1327.6 452h0M1081.4 484.5h0M1124.7 330.2h0M1277.1 348.5h0M992.6 239.2h0M859.9 576.8h0M1219.6 310.8h0M1109.4 318.9h0M1416.4 440h0M814.9 323.1h0M1308.6 499.8h0M952.5 567.8h0M1160.4 334h0M876.4 498.4h0M1209.5 410.8h0M905.4 393.4h0M865.3 553.3h0M1062.6 315.7h0M801.5 432h0M1129 283.1h0M1167.9 285.8h0M877.6 264h0M815.6 298h0M872 346.7h0M1010.2 223.7h0M1113.8 315h0M1005.9 376.7h0M1233 318.8h0M1217.8 416.9h0M1024.5 347.9h0M1058.9 451.6h0M1231.7 612.1h0M802.5 498.1h0M958.1 503.8h0M889.9 229.5h0M1065 432h0M1184.9 352.7h0M1036.1 590.5h0M930.1 310.1h0M953.2 370.4h0M1145.9 321.5h0M913.8 356.1h0M1085.1 573.8h0M1014 397.6h0M1157.3 452.3h0M1105.2 395.3h0M1131.4 251.9h0M925.3 466.3h0M846.8 236.2h0M1120.6 268.6h0M1088.7 427.1h0M992.7 311.8h0M1272.9 492.7h0M982 241.8h0M979.1 520.9h0M1037.1 208.8h0M880 267.3h0M885.1 262.4h0M845.1 495.1h0M1103.6 299h0M906.4 416.2h0M1206.3 514.7h0M893.6 239.9h0M1105.9 572.1h0M1100.8 341.4h0M1107.5 590.5h0M1270.8 367.2h0M936.4 354.6h0M1103.5 273.4h0M997.7 250.6h0M1220.9 497.1h0M1045.5 399.9h0M946.3 414.7h0M832.4 468.4h0M979.7 551.2h0M865.9 526.4h0M855.6 265.7h0M1427.3 456.5h0M747.8 391.1h0M1226.9 563.7h0M1116.5 443.5h0M932.7 481.1h0M894.8 559.8h0M996.3 405.5h0M882 228.8h0M1166.4 427.3h0M878 305.3h0M1094.2 426.6h0M1358.3 399.5h0M1170.6 479.1h0M1220.1 477.4h0M1107.1 496.1h0M1222.4 564.5h0M935.5 328.5h0M882.7 332.5h0M1178.6 528.7h0M1168.5 395h0M1252.7 568.1h0M1183.2 357.9h0M1316.6 512.3h0M950.2 353.2h0M1212.1 355.3h0M1310.4 502.6h0M1228.2 520.5h0M1233.9 536.3h0M944.1 341h0M1184.3 404.5h0M1086.6 478.2h0M1219.3 548.9h0M1040.5 353.3h0M1137.6 307.6h0M925.3 481.9h0M927.3 570.9h0M1193.3 310h0M889.3 348.7h0M1151.5 452.9h0M1149.9 542.6h0M1306 422.5h0M841.8 531.5h0M1024 487.2h0M971.1 221.3h0M1239.2 339.8h0M859.4 569.1h0M860.2 302.9h0M920.5 483.6h0M807.1 496.9h0M1351.5 394.6h0M1025.6 428.7h0M843.9 292h0M1157.2 294h0M932.8 384h0M1027.9 371h0M1221 406.5h0M1065.5 425.7h0M1174.7 317.6h0M823.2 272.2h0M1244.1 583.2h0M1205.1 595.2h0M1186.2 546.6h0M1306.9 408h0M989.4 218.9h0M988.3 482.5h0M1175 602.2h0M925.1 266.1h0M833.5 449.5h0M1205.5 472.9h0M1307.6 343.1h0M960.7 561h0M1077.8 286.8h0M1073.6 230h0M1002 309.6h0M879.6 299.6h0M1270.9 417.8h0M1091.5 419.2h0M1374 393.7h0M970.6 231.2h0M1055.5 467.6h0M950.3 344h0M1199.3 403.2h0M1096.2 370.7h0M1049.8 446.5h0M1235.6 416.6h0M1137.3 360.4h0M805.4 540.7h0M1146.7 429.2h0M833.6 510.2h0M1239.8 390.5h0M875.7 554h0M1149.6 388.5h0M886.9 259.4h0M1199.6 527.4h0M919.9 411.9h0M1256.4 518.2h0M1112.6 505.8h0M804.4 401.7h0M1229.9 495.8h0M1149.8 319.1h0M899.4 564.7h0M850 246.4h0M961.3 210.3h0M1073.9 401.5h0M1007 404.8h0M855.8 303.6h0M992.9 407.8h0M924.4 340.6h0M1225.5 491.9h0M799.9 479.7h0M925.8 281.5h0M1073.5 333.6h0M1226 576.2h0M1112.2 309.4h0M1120.7 373.9h0M936.2 297.1h0M1096.5 398.9h0M963.6 331.2h0M1120.5 484.5h0M840 477.6h0M998.1 351.7h0M1132.1 432.8h0M1087.6 599.6h0M1139.3 417.4h0M801.5 443.5h0M827.6 289.5h0M940.8 463h0M1296.6 356.7h0M1166.1 440.2h0M855.8 330.2h0M938.1 314.6h0M1041.7 272.6h0M911.9 469.6h0M969 371.9h0M831.3 535.5h0M1208.3 449.8h0M981.1 389.7h0M826.5 472h0M836.1 337.8h0M996.2 294.8h0M966.7 231.5h0M1089.6 573.5h0M792.1 513.8h0M1271.2 496.4h0M1391.2 483.7h0M1035.9 311.8h0M1053.6 445.1h0M849.4 569.6h0M1071.2 467.8h0M1170.8 454.1h0M975.8 369.2h0M878.1 461.3h0M1102.1 484.8h0M992.9 283.4h0M980.4 403.5h0M1220.8 332.7h0M1182.9 407.2h0M1139.6 428.7h0M1248.6 450.7h0M895.8 438.9h0M1277.9 513.8h0M1122.2 539.3h0M969.1 510.3h0M878.2 360.8h0M1046.6 269.5h0M865.3 216.1h0M900.7 368.1h0M823.2 276.2h0M863 458.2h0M1130.8 380.2h0M1279.8 502.8h0M890.7 437.6h0M1263.4 367.7h0M789.7 429.4h0M1148.4 260.5h0M982.1 341.1h0M1061.2 477.1h0M1101.2 368.4h0M1035.9 535.6h0M826.9 525.8h0M1119.2 398.9h0M1303.5 349.6h0M1081.9 247.5h0M1384 425.3h0M812.9 337.6h0M839.5 554.7h0M904.1 522.2h0M1053.1 403.5h0M1343.1 399.9h0M1193.3 334.3h0M912.6 397.7h0M1090.7 360.7h0M1201.3 461h0M1132.7 526.4h0M1095.1 333.6h0M1397.8 465h0M938.9 490.8h0M1062.7 260.7h0M1274.9 399.4h0M1153.9 372h0M810.1 423.4h0M1315.8 393h0M1137.5 313.9h0M1236.4 475.4h0M1136.1 295.2h0M860.5 471.4h0M947.1 237.7h0M1081.2 370.3h0M1274.2 489.6h0M830 230.1h0M981.7 330.4h0M1026.2 273.5h0M1204.2 460.2h0M1263 591.1h0M1134.2 369.1h0M1419.3 454.2h0M1204.9 387.9h0M1381.6 383.2h0M826.4 480.5h0M1103.5 232h0M1022.2 410.8h0M1198.7 292.5h0M1071.4 511.7h0M1136 384.8h0M1124.7 360.3h0M1103.1 450h0M1152.7 263.4h0M924.6 276.1h0M1135.1 499.1h0M834.2 344.5h0M913 304.3h0M1238.6 323.2h0M1014.2 423.7h0M1260.8 525.1h0M1138.4 386.3h0M982.6 253.9h0M892 476.5h0M1007.7 203.5h0M961.2 349.4h0M842.4 452h0M905.5 215.5h0M887.5 479.9h0M1265.7 519.1h0M1320.3 461.9h0M1281.5 377.6h0M1342.8 411.6h0M948.2 553.3h0M814.3 438.2h0M1300.3 341.4h0M959.2 263.7h0M838.9 237.1h0M944 491.2h0M1038 506.1h0M1069.9 419.2h0M1248.8 389.6h0M1189.5 444.6h0M976.2 297.8h0M1237.4 487.8h0M1009.1 235.7h0M1060.5 236.7h0M1167.5 291.8h0M1169.7 415.3h0M827.1 535.2h0M1117.9 234.1h0M1139.8 340.3h0M1245.6 601.5h0M1097.8 571.2h0M823.4 460.3h0M976.6 485.4h0M874.7 516.7h0M1199.7 359.8h0M1167.8 263.5h0M1220.4 458.8h0M1302.4 512.2h0M1129.1 383.3h0M1294.3 505.7h0M1212.8 504.6h0M910.8 334.5h0M865.5 583.7h0M1072.9 370.9h0M830.6 245.7h0M979.2 369.6h0M1190.8 537h0M1097 305.4h0M1337.6 457.4h0M787.3 431.1h0M1231.6 377h0M1150.5 398.7h0M772.3 381.4h0M1226.8 369.7h0M1228.2 360.1h0M1002.7 394.7h0M956.9 488.8h0M1048.2 344.3h0M792.1 484.9h0M1337.6 464h0M1025 571.1h0M1187.5 317.4h0M931.9 451.7h0M1244.1 521.5h0M812.6 515.5h0M985.1 370.2h0M1176 416.2h0M918.6 446.7h0M1394.4 437.6h0M1250.5 550.8h0M870.5 532.3h0M821.3 542.6h0M841.6 411.7h0M824.3 324.5h0M967.6 494.7h0M902.1 541.8h0M976.5 428.8h0M1137.3 413.3h0M1149.2 377.6h0M1231.2 504.6h0M1217.7 582h0M1194.6 490.9h0M827.9 415h0M1050 569.8h0M806.2 261.5h0M1135.9 324.6h0M811 279h0M989.4 389.7h0M1011.5 326.9h0M1183.2 418.3h0M963.9 382.4h0M1204.5 430.2h0M1257.3 410.1h0M920.2 466.5h0M830.8 262.7h0M1097.3 355.2h0M903.3 553.2h0M1103.7 541.4h0M926.8 301.3h0M1323.6 408.2h0M1235 569h0M969.1 255.8h0M1041.7 238.5h0M846.5 461.6h0M968.4 480.8h0M973.9 560.5h0M936.3 383.7h0M938.5 518.7h0M1370.6 481.5h0M1362.6 497.8h0M1162.7 290.8h0M1085.9 363.1h0M1084.9 454h0M895.6 379h0M1183.8 296.4h0M1316.8 352h0M879.1 211.7h0M1171.5 495.7h0M1160.3 460.1h0M876.4 247.9h0M1192 511h0M1087.2 406.2h0M891.4 207.1h0M929.6 366.7h0M1022.2 570h0M1155.3 497.7h0M827.6 500h0M1086 544.2h0M827.7 259.4h0M1049.8 235.4h0M1034.9 396.5h0M828.4 424.4h0M850.9 495.4h0M920.2 452.1h0M1219.4 338.5h0M1327.7 423.3h0M1092.1 353.2h0M1041.1 252h0M1100.4 258h0M1262.5 476.3h0M1214 370.3h0M977.8 500.5h0M852.7 365h0M1051.5 265h0M1058.2 322.1h0M905.8 480.1h0M956.9 354.5h0M1277.6 430.5h0M822.6 237.1h0M1009.3 216.1h0M1110 430.6h0M1157.3 348.5h0M992.6 510.3h0M851.4 531.5h0M1261.1 408h0M804.8 365.5h0M1127.7 341.6h0M810.2 300.9h0M962.5 254.1h0M1218.7 326.6h0M1008 347.1h0M1031.9 588.7h0M1189.8 309.4h0M776.1 395.2h0M1121.4 330.6h0M1204.8 499.6h0M1004.2 410h0M1063.5 253.4h0M1076.4 419.7h0M872 570.1h0M1204.9 464h0M949.1 518.7h0M984.8 395.1h0M1221 412.4h0M1186.9 446.4h0M1224.8 517.8h0M964.3 251h0M1149.7 393.5h0M910.6 206.9h0M866.3 573.8h0M1360.9 374.2h0M1122.3 349h0M1235.3 421.4h0M1314.6 486.7h0M804.9 492.6h0M1154.6 406.1h0M934.8 221.8h0M884.1 498.1h0M1101 332.4h0M1174.1 397.9h0M1048.3 580.4h0M1224.8 315.7h0M977.5 250.4h0M1189.9 463.8h0M876.5 282.6h0M1253.4 328.2h0M1001.7 433h0M1251.2 511.1h0M1249.8 500.4h0M1195.6 452.8h0M1028 296.6h0M1083.4 515.1h0M1244.4 594h0M1237.1 430.6h0M925 427.4h0M1355.4 444.4h0M902.5 342.6h0M1087.5 342.2h0M801.7 348.7h0M1121.2 352.4h0M870.6 232.2h0M1175.9 277.6h0M1134.6 362h0M1065.2 516h0M812.6 230.9h0M1203.3 385.8h0M1216 388.6h0M1329.8 485h0M1277.6 545.4h0M1364 444.8h0M1190.1 358.9h0M1135 420.9h0M1148.6 426.4h0M1298.7 479.5h0M795.6 515.7h0M898 556.2h0M1194 565.2h0M1270 372.3h0M1263.2 327.6h0M1235.4 483.1h0M1278.6 484.2h0M1207 484.1h0M1127.1 477.7h0M1040.5 218.9h0M1119.7 287.9h0M883.1 471.1h0M845 321.9h0M1051.2 406.9h0M1181.2 446.8h0M1074.3 266.8h0M861 278.8h0M843.3 329.6h0M982.2 369.6h0M844.5 305.3h0M853.6 568.6h0M1348.3 352.1h0M843.2 448.8h0M853.3 289.7h0M900.7 478.6h0M1272.3 459.9h0M824.4 353.1h0M880.7 446.7h0M1314.6 340.3h0M1198.2 427.1h0M1214.9 546.5h0M1210.2 357h0M1141.4 317.9h0M861.8 224.6h0M1214.4 572.5h0M956.1 247.6h0M825.1 261.7h0M829 495h0M1382.1 428.6h0M827.1 552.4h0M806.3 510.3h0M941.3 265.3h0M1119.2 547.4h0M1005.6 441.1h0M1333.3 511.1h0M823.7 524h0M856.4 326.1h0M978.4 272.8h0M1184.5 513.7h0M1140.3 276.2h0M1274.2 566.8h0M994.7 379.4h0M1222.5 320.1h0M1137.3 492.7h0M1122.5 445.3h0M1131.9 344.4h0M1077.8 250.1h0M1242.4 331.2h0M1055 263.2h0M1229.7 556.2h0M984.6 353.9h0M795 436.8h0M941.6 221.4h0M857.7 222.3h0M980.6 528.1h0M1282.8 338.6h0M1142.2 510.7h0M910.9 544.4h0M951.7 201.6h0M909.7 467.1h0M1338.5 427.2h0M888 465.1h0M971.1 396.3h0M1049.4 374.5h0M952.1 512.7h0M807.8 445.4h0M983.6 201.9h0M918.5 207.3h0M1237.4 462.6h0M836.1 242.8h0M1257.8 364.2h0M1401.3 410.1h0M1193 443.1h0M1055.5 454.2h0M1261.9 568.4h0M1290.1 343h0M857.5 522.3h0M915.5 520.2h0M1185.3 287.1h0M971.1 242.3h0M1051.5 258h0M1158 351.4h0M1146.7 455.1h0M953.2 347.8h0M1122.5 283.8h0M1326.8 407.9h0M1079.3 291.3h0M890.9 466.7h0M904.7 426.9h0M1078.1 373.1h0M1039.6 558h0M1357.5 468.9h0M799.7 422.1h0M990.8 245.7h0M861.7 515.9h0M849.7 250.1h0M1076.1 432.8h0M946.3 358.2h0M840.9 363.2h0M921.1 304.7h0M857.9 318.5h0M904.4 345.4h0M917.8 203.4h0M1281.8 419.2h0M991.4 502.2h0M1197.3 339.6h0M911.9 480.6h0M1359.8 472.4h0M957.4 275.1h0M808.1 491.7h0M1181 552.4h0M1014.9 507.9h0M817.8 533.7h0M1186.8 292.8h0M917.7 242.1h0M1101.2 343.9h0M1367.7 410h0M1176.5 548.2h0M957.8 527.5h0M913.9 486.9h0M827 431.8h0M1176.9 452.9h0M1340.6 476.3h0M830 286.2h0M877.1 475.6h0M1130 316.3h0M811.2 464h0M990 273.2h0M1186.5 460.5h0M1245 423.4h0M1135 315.3h0M800 355.1h0M960.3 304.3h0M1021.2 342.9h0M852.7 550h0M1163.2 414.1h0M1132 574h0M1222.8 489.8h0M982.4 379.2h0M905.5 234h0M1206.1 390.6h0M1171.3 349.5h0M873 248.4h0M1190.3 409.7h0M872 333.3h0M1368.3 395.3h0M814.9 502.9h0M1035.3 530.9h0M885.3 275.1h0M779.9 374h0M1408.3 479.4h0M1115.3 555.1h0M888.7 266.1h0M1247.2 366.8h0M1123.1 407.5h0M923.6 203.6h0M1191.9 407.2h0M879.1 295.1h0M1167.5 461.4h0M1210.6 383h0M1233.2 606.9h0M1364.4 494.7h0M1364.2 367.1h0M968.1 384.3h0M1400.5 468.4h0M830.2 435.5h0M953.6 329.8h0M1154.4 491.8h0M885 326.7h0M927.3 310.6h0M879.5 554.7h0M809.6 323.2h0M1053.4 465.6h0M859.5 487.9h0M1146.3 465.8h0M823.9 526.9h0M863.5 372.3h0M1003.7 386.7h0M1104.8 288.7h0M1249.4 353.8h0M1166.4 536.6h0M900.9 311.5h0M1122.6 307.8h0M1114.2 274.5h0M1130.8 439.9h0M1083.2 441h0M856.8 531.6h0M1024.9 392.4h0M1344.9 507.3h0M1183.6 448.8h0M1379.4 391.5h0M1115.4 300.9h0M823.7 440.3h0M932.7 233.8h0M926.3 207.9h0M1345.4 353.8h0M1170.9 310.7h0M794.8 394.2h0M846.4 471.3h0M915.2 468.6h0M1278.3 496.1h0M1364 410.3h0M913.3 527.1h0M1200.2 507h0M845.7 502.6h0M1075.2 316h0M1254.4 509.9h0M929.8 315.3h0M1111.4 258.9h0M1093.9 263.5h0M1302.9 465.1h0M1095.2 477.9h0M1063.8 510h0M1308.2 336.1h0M1142.1 249.3h0M852.9 480.7h0M1386.6 374.3h0M1185.4 443.1h0M869.7 306.5h0M908.3 539.8h0M985.9 361.4h0M993.2 243.2h0M875.2 577.4h0M1257.4 509h0M1019.4 245.9h0M919.8 556.9h0M825.2 349.5h0M1174.3 443.2h0M1215.3 401.1h0M795.4 353.4h0M814.2 284.7h0M1020.6 226.3h0M900 206h0M1188.8 380.7h0M1211.9 307.5h0M1235.1 614.1h0M1310.2 381.9h0M1342.2 378.4h0M1060.7 531.1h0M1018 521.2h0M1277.4 519.5h0M1227.2 436.9h0M1329.8 509.4h0M1039.7 337.7h0M1028.1 424.9h0M1003 288.6h0M891.4 221.8h0M1212.8 358.9h0M843 466.1h0M929.5 354.2h0M1008.6 536.5h0M1070.2 232.5h0M895.1 244.4h0M1086 449.4h0M1136.4 333.4h0M1336.4 398.8h0M913.5 559.7h0M1387.6 479.8h0M975 283.2h0M1215.6 331h0M1372.4 427.3h0M844.2 445.1h0M1254.3 453.9h0M845.5 352.4h0M1381.1 388.7h0M860.3 367.9h0M838.7 419.8h0M1181.9 328.2h0M1127 381.3h0M865.9 532.8h0M1059.9 598.7h0M1269.9 393.3h0M1146.8 585.9h0M1116.8 251.3h0M1420.7 441.6h0M953 508.8h0M1196.6 438.5h0M1006.9 459.8h0M856.5 551.8h0M909.5 251.2h0M1338 354.6h0M1289.8 507.4h0M916.9 556.2h0M1040.5 467.5h0M1273.6 578.3h0M891.5 470.7h0M986.6 338.8h0M977.4 215.8h0M1208.1 613.4h0M1097.3 368h0M1286.2 353.2h0M1063 525h0M1312.5 370.4h0M1329.3 516.9h0M1044.2 468.8h0M1147.8 325.8h0M860.1 496.6h0M902.1 533.9h0M925.1 432.3h0M972.7 484.3h0M797 469.8h0M1055 226.1h0M1377.1 378.8h0M1244.3 373.5h0M1065.8 391h0M916.1 233.3h0M1172 304.4h0M890.9 576.9h0M1149.4 482.2h0M918.7 303.5h0M1189 396.3h0M972.3 362.3h0M1195.9 423.2h0M803.6 513.4h0M1021.3 443.6h0M1135 335.2h0M885.5 244.7h0M927.2 320.3h0M796 498.2h0M835.5 465.5h0M892.8 251.6h0M820.3 348.7h0M1198.8 296.2h0M1151.6 497.2h0M1132 256.1h0M972.3 269h0M981.2 363.2h0M1148.8 348.6h0M915.8 548.1h0M873.1 545.8h0M968.6 559.2h0M928.9 478.3h0M1003.6 247.2h0M985 309.2h0M952.5 301.8h0M955.9 493.4h0M839.9 544.4h0M1234.3 357.2h0M1013.7 446.8h0M1182.6 336h0M848.3 464.4h0M1319.3 380.4h0M1124.8 305.9h0M871 256.9h0M1134.2 259.9h0M1229.2 430.2h0M1118.6 277h0M990.5 253.9h0M794.9 422.3h0M1021.2 296.9h0M796.9 487.1h0M1265.2 494.7h0M1215.3 393.8h0M983.7 533.9h0M1130.6 290.6h0M988.2 348.8h0M1226 468.5h0M1063 382.2h0M1286.3 491.4h0M939.6 343.4h0M1168.6 598.6h0M1082.2 230.6h0M965.2 552.3h0M1089.7 470.9h0M1238.9 364.9h0M1181.4 494.9h0M1252.1 539.9h0M1154.9 573.8h0M1060.9 230.2h0M1235.9 541.5h0M900.7 214.4h0M925.1 559.9h0M951.2 536.1h0M828.1 469.6h0M1198.3 385.3h0M1110.3 548.7h0M1020.5 273.2h0M868.9 222.1h0M843.8 407.5h0M862 541.5h0M1260.2 478.6h0M1068.6 216.1h0M841.8 559h0M845.4 527.8h0M1381.3 409.6h0M1032.8 375.7h0M1200.9 546.2h0M1158.9 424.9h0M1080.4 222.3h0M909.9 520.8h0M811.5 544h0M1091.3 344h0M1321.3 454.7h0M1033.1 256.4h0M1054.1 449.8h0M942.1 200.9h0M827.8 529.3h0M1086 516.4h0M875.4 320.2h0M815.9 317.6h0M1139.5 425.5h0M927.4 245.3h0M1090.4 268h0M1299.2 394.5h0M879.2 515.4h0M1328.4 429.3h0M1218.7 474.3h0M1151.1 552.7h0M904.2 222.7h0M875.4 313.2h0M1351.2 430.6h0M983.1 483.7h0M1270.2 389h0M896.9 253.4h0M768 397.4h0M1210.6 511.9h0M895 208.7h0M903.1 285.4h0M888.1 473.9h0M932.9 491.5h0M1298.7 453h0M984.8 388.1h0M1186.3 414.3h0M925.2 568.7h0M1276.5 487.1h0M900.5 406h0M1313.3 469.2h0M1150 511.5h0M867 271.9h0M1097.6 484.5h0M930.3 496.7h0M1323 344.2h0M985.4 206.1h0M1298.1 370.3h0M1138.4 374.5h0M848.9 229.3h0M928.9 558.4h0M879.8 353.9h0M1056.5 298.7h0M1064.2 533.7h0M1113.6 269.3h0M942.3 496h0M852.9 558.6h0M1097.8 509.7h0M1272.6 332.6h0M912.7 300.1h0M1003.6 426.1h0M918.7 456.1h0M1037.1 251.9h0M1124.8 480.3h0M1092.8 348.9h0M800 338.7h0M1318.7 383.6h0M1196.6 442.6h0M1194.4 399.6h0M1181.3 432.8h0M952.8 493.2h0M930.1 501.5h0M836.5 468.6h0M1108.3 446.5h0M778.8 415.6h0M1143.3 262.9h0M1149.5 306.4h0M1166.2 465.8h0M953.1 392.6h0M897.2 349.7h0M930.7 489.1h0M896 536.9h0M1045.2 407.2h0M1133.8 359.9h0M1306.7 439.5h0M1083.5 223h0M1072.1 315.4h0M891.1 521.4h0M946.4 322.8h0M1234.1 327.7h0M1167.6 385h0M1148.1 485.3h0M808.4 514.6h0M1355 356.1h0M933.4 544.6h0M933 268.7h0M1194.6 448.2h0M844.6 519.5h0M932.6 494.7h0M1330.2 369.7h0M1274.3 449h0M956.5 544h0M825.5 497.5h0M1373.1 453.1h0M882.2 547.4h0M1357.8 458.9h0M917.1 538.3h0M1205.8 571.1h0M1108.5 365.7h0M1336.3 431h0M876.4 285.4h0M972.7 373.2h0M1018.6 438.6h0M806.4 361.3h0M1159.6 312.9h0M1213.3 479h0M1063.1 248.4h0M978.8 560.3h0M1237.4 346.8h0M1048.2 575.2h0M996.9 364.8h0M784.5 391.5h0M1408.4 450.2h0M1254.3 562.2h0M901 202.6h0M1156.1 449h0M1260.2 419.6h0M1041 268.5h0M1019.5 337.3h0M1303.5 473.4h0M1245.4 515.7h0M947.4 270.4h0M976.8 493.8h0M1061.2 286.2h0M1383.7 444.2h0M1217.3 561.1h0M852.2 277h0M1279 540.1h0M1026.2 471.9h0M1095.6 424h0M811.9 455.8h0M1104.1 487.6h0M809.1 477.2h0M1075.6 329.1h0M1274.6 523.5h0M838.1 256.7h0M913 512.5h0M967.5 292.1h0M1296.2 447.5h0M939.5 239.7h0M1150.6 527.2h0M996.5 288.6h0M1059.2 525.1h0M818.6 510.7h0M979 219.2h0M1415.1 451.5h0M1221.2 552.1h0M1159.6 306h0M873.7 216.8h0M1161.7 467.7h0M984.8 364.2h0M1105.1 365.9h0M1328.9 347.3h0M934.8 335.3h0M835.5 542.5h0M1320.2 422.7h0M855.7 310.4h0M1196.2 378.4h0M1096.2 279.7h0M855.5 546.2h0M948.1 498.3h0M1314 343h0M1131.2 425.5h0M1257.3 450.2h0M820.2 483.6h0M1245 432.8h0M1236.8 500.8h0M829.9 462.6h0M1218 463.8h0M912 308.7h0M1097.5 362.5h0M1279.2 510.5h0M1235.2 455.1h0M1204.2 335.5h0M1042.7 302.3h0M1090.1 397.3h0M811.4 284h0M1151.9 405.3h0M974.6 291h0M815.8 427.5h0M962.1 469.2h0M893.2 534.7h0M912.7 504.4h0M1048.7 295.9h0M824.2 239.6h0M1202.4 392.9h0M1026.5 320.4h0M1400.8 392h0M1088.5 349.5h0M1052.5 458.8h0M1032.3 542.5h0M802.9 460.6h0M938 262.4h0M957.9 519.6h0M1166.9 354.8h0M1160.8 297.4h0M950.3 275.6h0M1123.3 333.7h0M888.9 573.3h0M1219.7 574h0M889.2 208.7h0M754.8 394h0M914.2 446.3h0M1319.5 356.2h0M1162.6 402.5h0M826.4 448.5h0M943.8 475.9h0M894.9 264.8h0M1238.8 578.8h0M1124 590.3h0M926.5 295.5h0M873.6 468.1h0M818.1 315h0M986.1 544.4h0M1004.9 263h0M881.8 487.3h0M875.2 212h0M823.4 263.9h0M1282.4 460h0M931.9 518h0M858.9 358.5h0M917.2 443.3h0M1096.8 471h0M1216.8 459.7h0M1332.1 490.6h0M1088 368h0M909.8 423.7h0M1100.1 390.1h0M850.2 384h0M1386 404.2h0M895.8 249.8h0M1034.3 370.9h0M1326.6 391.2h0M787.8 399.2h0M815.7 464.2h0M1068.6 262.6h0M1072.7 303.7h0M966.2 337.2h0M1257.9 568.7h0M1169.9 402.7h0M1356.2 461.6h0M1097.4 295.3h0M1147 310.6h0M1361 444.9h0M1050.3 466.3h0M852.8 218.4h0M1030 318.6h0M811 343h0M880.4 571.1h0M935.3 478.2h0M1255.3 528.5h0M1101.2 384h0M901.6 374.4h0M964.2 371.8h0M1049.2 318h0M976.4 332.2h0M1130.8 322h0M1318.9 458.3h0M875.5 289h0M1178.8 445.1h0M881.4 342.3h0M960.4 287.3h0M1185.9 451h0M952.1 313.1h0M1319 372.1h0M1156.6 316.8h0M868.3 519.4h0M1064.2 310.3h0M936.9 371.4h0M1046.3 411.7h0M935.5 518.4h0M1028.2 307.2h0M938.8 338.4h0M1081.1 401h0M1140.3 591.7h0M1190.2 460.6h0M1157.6 314.8h0M1346 504.1h0M899 324.1h0M912.3 476.6h0M1085.1 521.9h0M1236.3 388.7h0M863.2 445.4h0M917.1 362.7h0M1137.1 516.2h0M1113.1 383.4h0M1138.5 330.4h0M858.3 476.4h0M1018.9 289.9h0M1063.6 512.7h0M1243.9 415.3h0M1133.6 400h0M1110.4 352.9h0M1292.7 446h0M1387.6 424.3h0M1017 411.7h0M977.5 337.3h0M1241.7 539h0M899.7 571.6h0M1226.5 502.1h0M778.4 446.3h0M1191.3 364.7h0M1017.1 240.5h0M970.5 543.7h0M1053.9 558.4h0M815.4 526.1h0M1157.3 280h0M1085.4 254.6h0M828.2 475.6h0M1186.2 454.9h0M944.2 241h0M1297.9 416.4h0M1125.4 264.6h0M1257.1 588.9h0M1200.2 474.5h0M1131.2 470.7h0M907.4 310.4h0M1236.4 448.2h0M1337.3 403.4h0M825.9 276.8h0M856.9 442.9h0M1170.4 384.7h0M951.9 520.1h0M1242.5 340.2h0M1093 260h0M1164.4 458.5h0M1305.1 378h0M909.5 476.5h0M1068.4 345.3h0M982.2 356.5h0M810.5 483.7h0M741.3 389.8h0M873.1 499h0M1191.2 491.6h0M1241 418.8h0M1005.5 415.8h0M1262.4 339.6h0M839.5 448.6h0M935.1 322.6h0M1124.2 452.2h0M985.2 492h0M906.9 513.9h0M1082 350.7h0M850.4 396h0M1042.5 547.6h0M1145 469.9h0M1353.1 450.9h0M1065 527.8h0M899 344.3h0M1382.3 437.3h0M831.3 465.8h0M974.3 366.7h0M883.9 557.7h0M890.7 407.5h0M876.5 551.2h0M971.2 209.3h0M861.8 273.7h0M1305 374.2h0M824.4 485.4h0M1033.2 267.5h0M949.3 302.5h0M1123.8 319.1h0M1153 339.7h0M1241.1 440.2h0M783.6 463h0M1359.1 462.9h0M848.5 538.4h0M1242.2 325.9h0M854.2 495.4h0M882.1 209h0M815.6 278.6h0M948.2 337.7h0M1137.7 453.3h0M1100.7 498.3h0M1147.7 300.3h0M1080.2 389.5h0M1389.7 440h0M1263.8 359.4h0M1139.7 432.2h0M966.4 299.1h0M974.9 287.4h0M997.7 348.2h0M965.9 256.2h0M1240.1 381.5h0M1211 475.3h0M1407.5 398.4h0M986 477.1h0M1201.2 388.1h0M840.5 471h0M813.9 459h0M953.7 545.2h0M848.1 439.8h0M1033.2 227.8h0M1021.9 449.7h0M1075.1 308.3h0M1045.3 445.3h0M1189.5 393.1h0M797.2 473.5h0M941.4 282.3h0M975.9 386.2h0M879 493.6h0M801.3 487.6h0M1076.5 279.1h0M1304.2 424.6h0M788.4 442.7h0M843.7 431.1h0M1017.6 217.9h0M1210.5 444.8h0M947 295.9h0M1209.4 333.9h0M1116.6 273.1h0M1023.3 387h0M1185.4 362.2h0M953.2 360.6h0M840 439h0M1414.4 476.2h0M942.3 278.7h0M938.9 247.9h0M1153.3 309h0M786.8 420.2h0M1225.6 458.5h0M1260.1 442.8h0M1172.4 535.4h0M932.9 342.2h0M942.3 314.4h0M922 253.5h0M1093.3 282.1h0M1119.1 281.9h0M1004.4 453.3h0M849.5 367.1h0M1225.9 374.5h0M808.4 380.5h0M899.2 562h0M1269.3 460.2h0M1131.1 296.3h0M933.8 504.7h0M1165.5 333.5h0M932 472.9h0M984.5 384.3h0M880.9 466.6h0M963.1 336.9h0M1111.1 492.2h0M886.6 525.5h0M916.3 483.4h0M1032.7 212.2h0M876 415.4h0M1270.9 462.8h0M921.8 262.8h0M1344.5 424.5h0M1060 474.1h0M932.5 511.7h0M1182.6 443.4h0M1159.2 501.3h0M1228.8 481h0M1139.8 253.9h0M1110.3 300h0M1018.2 381.1h0M1077.4 463.3h0M1287.2 471.8h0M898.6 394.2h0M1156 455.7h0M1193.8 463.5h0M1088.1 465.4h0M1301.6 347.7h0M968.7 356h0M1308.6 388.4h0M1222.8 504.4h0M880 348.4h0M1304.7 435.1h0M867.5 455.7h0M859.7 386.4h0M1045.5 473.6h0M1131.4 309.2h0M901.7 567h0M1337.4 515.6h0M1068.3 377.2h0M1318.5 363.3h0M903.5 457h0M848.1 565.5h0M1101.3 417.5h0M797.1 356.6h0M970.4 326.3h0M1225 445.9h0M900.7 263.2h0M1351.8 456.4h0M1210 320.3h0M1361.3 450.2h0M934.2 230.2h0M920.5 408.1h0M1224.5 483.3h0M1070.5 603.8h0M1232.8 355.1h0M1120.2 291h0M985.4 315.1h0M931.9 531.9h0M969.7 394.2h0M955.8 336.8h0M884.9 520.1h0M780.3 456h0M1104.6 269.4h0M1245.2 408.5h0M1195.9 388.5h0M854.9 573.1h0M965.2 534.3h0M1070.3 410.3h0M970.6 352.5h0M1324.8 499.5h0M1097.6 238.7h0M1204.9 451.4h0M925.1 369.7h0M821.4 520.1h0M830.8 320.4h0M825.1 468h0M1233.2 418h0M873.5 532.1h0M842.4 423h0M1382 460.8h0M1082.4 566.5h0M1174.2 514.2h0M920 536.4h0M1021.8 373.2h0M1230.8 324.7h0M913.6 367.8h0M833.5 359.8h0M989.8 532.9h0M1336.8 407.4h0M890.2 478.9h0M948.8 272.9h0M1162.9 273.6h0M1088.2 303.4h0M1054 438.6h0M1008.1 310.1h0M1012 308.7h0M1106.3 315.5h0M887.4 357h0M817.5 530.8h0M970.5 335h0M1110.5 392.3h0M1235.5 392.4h0M1302.3 403.4h0M992.7 481.5h0M899.7 462.1h0M964.9 497.5h0M1114.2 266.4h0M1233.5 577.5h0M941.7 499h0M1251.7 400.9h0M1022.8 548.2h0M940.5 486.5h0M1072.2 588.4h0M880.7 279.4h0M926 540.7h0M1101.3 507.3h0M942.7 333.9h0M1099.6 253.4h0M1294.1 335.7h0M870.3 341.2h0M1135.5 302.9h0M946.7 561.1h0M1244.7 483.4h0M1013.5 490.9h0M944.8 462.7h0M1287 475.4h0M1207.8 456.2h0M1054.9 220h0M1200.9 452.2h0M800.5 407.7h0M1073.6 242.1h0M1081 347.1h0M1180.6 400.4h0M875.5 547.7h0M1324.8 491.3h0M1332.3 376.9h0M1018.2 351.2h0M870.5 506.5h0M1015.1 214.3h0M1111.7 398.2h0M1146.3 256.7h0M994.5 570.2h0M1000.9 203.5h0M910.5 210.8h0M953.3 380.1h0M1007.7 239.1h0M896 225.3h0M961.9 300.4h0M885.9 378.7h0M954.2 307.8h0M1230.7 472.7h0M808 284.7h0M937.2 205.6h0M1087.6 512.8h0M1056.4 464.6h0M1126.5 506.6h0M1129.4 463.2h0M1044.2 430h0M1387.3 411.6h0M1133.6 454.5h0M866.5 452.9h0M1082.9 244.1h0M957.3 332.5h0M827.8 273.6h0M841.2 431.6h0M1115.4 244.7h0M1134 380.5h0M1103.4 243.9h0M1143.5 253.7h0M1214.2 363.4h0M1200.2 620.2h0M1088.3 443.8h0M1424 455.5h0M1113.8 260.8h0M852.4 534.7h0M1228.3 404.5h0M1056.5 383h0M1336.2 502.6h0M984.5 302.8h0M914.8 498.3h0M1075.6 363.6h0M1244.1 565.9h0M952.4 525.2h0M1105.3 229.8h0M1102.8 346.5h0M1392 400.9h0M1386 386.4h0M983.4 425.8h0M1276.6 358h0M922.8 514.9h0M1073.3 477.2h0M786.4 424.4h0M864.4 469.7h0M858.3 515.4h0M1196.6 533.8h0M1318.5 502h0M870.1 480.3h0M956.4 327.3h0M803 391.6h0M840.2 398h0M1069.2 235h0M1033.2 320.8h0M1015.1 238.1h0M1385.6 459.3h0M1223.7 542.7h0M902.6 267.3h0M793.4 430.1h0M1026.8 526.9h0M856.4 570h0M1043 255.5h0M1032.9 241.3h0M1212.4 437.3h0M1102.3 235h0M1352.5 494.6h0M939.2 469.6h0M824.5 375.9h0M1057.5 357h0M886.7 504.9h0M1395.7 426h0M830.4 543.6h0M998.9 498.5h0M871.3 474.3h0M1212.5 540.7h0M1340.4 456.7h0M1091.8 271.2h0M949.6 523.2h0M1059.6 542.3h0M1024.8 563.7h0M1075.8 543.7h0M1259.1 372.8h0M866.4 240.8h0M880.8 427h0M1181.7 409.6h0M1383.5 434.2h0M873.5 222.7h0M1046.1 395.8h0M844.5 549.9h0M1243 589.9h0M816.8 432h0M1087.2 420.6h0M1402.9 460.6h0M1222 381.4h0M1092 558.5h0M865.4 229.2h0M1018.5 357h0M1046.7 564.2h0M851.6 272.1h0M883.3 216.1h0M890.8 549.6h0M1192.8 368.8h0M905.5 313.1h0M1081.8 524h0M935.7 473.7h0M980 333.1h0M1226.9 515.8h0M851.3 451.5h0M1074 600.9h0M993.9 227h0M1282.8 433.9h0M882.7 296h0M957.4 538.5h0M1271.4 404.2h0M1250.6 516.7h0M957.5 384.8h0M1281.8 448.4h0M1097.6 580h0M1117 292.3h0M1106.7 500.5h0M1189.8 312.5h0M926 553.4h0M853.9 489h0M1131.7 302.8h0M1274.4 374.8h0M1017.3 344.2h0M1228.2 616h0M1010.2 242.7h0M1075.9 345.6h0M964.1 548.1h0M1068.6 515.3h0M967.5 273.8h0M1087 233.7h0M1148.9 385h0M1178 279.4h0M810.9 427.1h0M1194.5 436.5h0M973.3 236.7h0M1339.6 433.5h0M1078 234.9h0M838.9 516.8h0M1398.3 430.8h0M1030.9 537.2h0M1022 458.8h0M870.5 242.7h0M1078.5 306.2h0M822.8 221.6h0M1072.6 518.6h0M1392.7 459h0M1038.2 236.1h0M916.6 542.1h0M1387.2 483.2h0M1021 364.7h0M1215.6 454.5h0M1141.9 465.4h0M1036.1 471.4h0M1384.3 453.9h0M922.5 333.3h0M775.1 406.8h0M912.4 214.6h0M1044.5 317.4h0M1136.7 327.8h0M1243.2 360.7h0M1080.4 421.5h0M912.2 249.8h0M1212.1 314.6h0M1002 329.1h0M910.5 347.6h0M876.2 557.7h0M880.8 458.4h0M797.4 455.1h0M961.3 358.2h0M1327.2 472.6h0M925.6 472.8h0M1049.5 490.1h0M1223.6 392.9h0M1237.6 335.5h0M1216.7 344.4h0M1077.8 487.7h0M906.3 571.3h0M1210.2 326.7h0M1177.4 315h0M1090.6 363.3h0M1276.5 337.1h0M868.7 552.8h0M1302.9 339.8h0M1182.2 450.6h0M927.9 507.5h0M979 381.6h0M873.6 387.4h0M1341.5 396.3h0M976.4 254.9h0M1040.6 280.9h0M916 222.9h0M1128.7 388.3h0M820.8 258.6h0M1062.5 400.8h0M968.6 365.6h0M1293.1 418.8h0M1223.8 398.9h0M1243 345.6h0M1075 554.2h0M843.6 470.6h0M1113.7 431.8h0M1125.1 393.8h0M891.9 312.1h0M853.8 346.4h0M1377.8 443.8h0M1025.7 403.8h0M1113.7 256.5h0M1153.4 579.2h0M1284.2 344h0M1125.5 512.5h0M905.3 489.5h0M913.8 551.2h0M807.1 358.3h0M855.2 462.1h0M1066.8 513.7h0M1207.4 619.2h0M1236.7 441.5h0M965.2 565h0M860.6 307.7h0M817.9 476.7h0M1152.1 408h0M1156.8 342.4h0M1011.4 205.9h0M847.2 522h0M1306.4 489.9h0M1024.7 420.2h0M1199.9 340.9h0M1097.8 273.9h0M812.3 274.2h0M1063.6 387.1h0M1147.7 374.9h0M910.8 515.9h0M1039 537.9h0M1219.5 391.3h0M981 216h0M859.6 510.3h0M1159 301h0M1092.7 473h0M1331 499.6h0M944.3 265.7h0M1095.3 597.6h0M885.8 482.6h0M923.3 207h0M1001.2 332.4h0M1116.6 323.9h0M975.7 312.5h0M1251.4 404.6h0M919.7 367.5h0M1191.3 569.7h0M848.1 303.8h0M958.7 393.2h0M777.3 436.5h0M1019.2 455.8h0M1136.1 371.7h0M1035.7 373.9h0M916.9 415.3h0M1032.6 392.2h0M1022.9 508h0M1210.2 588.8h0M806 471.6h0M797.4 439.5h0M1160.2 571.2h0M1213.8 441.3h0M1158.8 454.5h0M825.9 514h0M1236.6 494.5h0M856.8 542.5h0M1377.5 427.6h0M1111.6 435.5h0M1147.4 389.3h0M934.5 350.7h0M1186.1 344.4h0M1211.6 331.7h0M888.2 305.2h0M1255.2 392.2h0M1093.1 442.6h0M1406.9 437.7h0M1017.9 266.6h0M1164.3 422.3h0M1297.8 462.3h0M908.2 363.9h0M983.9 398.1h0M1260.7 516.6h0M1147.8 577h0M805.1 369.8h0M1308.3 339.2h0M1077.3 566h0M874.9 540.5h0M868.4 577h0M817.9 522.8h0M1008.4 343.6h0M922.3 476.7h0M1137.9 444.1h0M1372.9 382.9h0M1151.3 390.1h0M1011.8 512.5h0M1387.7 399h0M1308.1 396.3h0M1065.7 373.6h0M1148 251.9h0M852.8 248h0M1148.5 370.6h0M980.8 201.5h0M1299.3 337.7h0M819.6 267.8h0M1234.5 395.8h0M834.4 538.3h0M901.1 496h0M1188.7 564h0M1308.6 362.4h0M1071.1 326.3h0M1232.8 468.2h0M848.8 353h0M900.6 352.2h0M1199 560.6h0M1015.3 416.9h0M1166.3 382.1h0M1138.8 472.8h0M1126.5 326.5h0M1347.4 379.7h0M983.3 478.6h0M1008.1 515h0M936.1 489h0M850.2 294h0M1329.7 432.5h0M1203.6 512.8h0M1326.5 341.8h0M1045.5 337.5h0M1299.8 497.7h0M1271.2 517.9h0M1220.1 377.8h0M1168.7 491.8h0M1200.7 439.7h0M956.4 255h0M1004 228.2h0M926.1 345.8h0M1354.1 453.9h0M993.3 548.6h0M938.8 211.3h0M1135.4 280.7h0M1221.9 418.8h0M1044.7 452.4h0M1267.2 572.1h0M836.9 431.2h0M915.1 568.9h0M813.7 340.9h0M1163.5 371.8h0M1082.2 464.4h0M814 264h0M1383 385.5h0M921 511.6h0M981.5 289.6h0M1104.7 351.1h0M1144.3 345.2h0M1038.7 560.9h0M954.1 291.8h0M883.3 477.2h0M837.8 313h0M1036.3 564.2h0M1114.9 320.8h0M1395.4 403.2h0M855.4 455.1h0M816.2 369.9h0M1119.1 347.2h0M828.8 367.2h0M1029 454.3h0M940.4 382.9h0M1173 367.9h0M825.5 309.2h0M1300.7 366.5h0M1084.6 343.2h0M905.2 575.5h0M1044.7 243.1h0M998.3 396.2h0M913.3 494.1h0M1410.3 439.9h0M820.9 324.8h0M987 305.3h0M1322.8 446.6h0M1218.9 353.6h0M1010.9 520.9h0M928.4 446.6h0M1018.5 206h0M1035.9 490.2h0M1184.5 552.8h0M1030.7 247h0M947.9 465.6h0M950.8 330.7h0M1195.6 403.6h0M1230.1 407.1h0M1061.3 357.2h0M823.4 465.1h0M999.1 355h0M943.5 550.8h0M1053 322.4h0M1067.8 327.4h0M1065.4 587.8h0M1125 311h0M994.4 398.3h0M1159.8 319.7h0M1110.6 470.3h0M1126.7 349.4h0M991.8 256.6h0M1337.3 475h0M989.1 268.1h0M917.1 276.3h0M800 531.8h0M1161.7 475.7h0M852.8 500.2h0M947.1 504.4h0M950.2 478h0M1219.5 397.4h0M984.1 564.7h0M985.4 390.9h0M969.3 499.1h0M967.2 305.8h0M1244.7 369.3h0M1157 393.8h0M1157.3 458.1h0M821 462.5h0M919.1 331h0M875.4 236.7h0M1241.3 573.8h0M897.4 567.6h0M873.5 565.2h0M1029.1 208.9h0M1199.5 329.1h0M890.2 455.3h0M1232.5 539h0M794.3 432.7h0M1376 431h0M1178.9 413h0M1078.1 303.3h0M921.5 561h0M858.5 455.2h0M1229.8 327.6h0M1019 313.7h0M1000.8 231.7h0M1094.7 388.1h0M915.9 342.3h0M1057.1 302.6h0M836.1 495.7h0M864.9 500.1h0M1337.3 484.1h0M935.7 515h0M1147.1 492.6h0M1172.3 464h0M1276.1 380.4h0M973.5 300.5h0M883.2 273.6h0M1315.3 366.3h0M1037.4 456.8h0M1080 471.4h0M1249.4 440.8h0M1030.9 351.3h0M1059.7 245.9h0M1017.4 483.5h0M1050.2 301.8h0M819.2 435h0M1185.9 366.6h0M938.8 377.8h0M978.4 360.1h0M1227.1 507.1h0M1188.3 493.5h0M909.2 282.8h0M802.4 272.1h0M1229.2 532.5h0M1269.1 506.5h0M1102.5 536.1h0M889.7 545.3h0M1012.2 450.2h0M1253.8 558.2h0M849.5 282.1h0M896.2 451.5h0M1169.4 500.1h0M964.9 352.7h0M960.5 251.9h0M996.2 355.6h0M889.8 433.3h0M992.3 200.3h0M1408.7 430.4h0M1091.2 489.6h0M877.5 456.1h0M988.6 205.6h0M1196.3 355.6h0M1243.6 405.3h0M886.6 417.1h0M930.5 460.6h0M1311.2 485.8h0M1010 353.6h0M1016.2 233.7h0M787.9 386h0M1135.1 250.2h0M881.8 483h0M808.1 500.7h0M820.1 242.3h0M1273.1 395.3h0M994.3 232.3h0M841.8 321.8h0M1093.6 575.8h0M824.8 529.6h0M919.2 469.1h0M1216.8 421.5h0M888.6 540.3h0M1177.9 473h0M823.1 294.3h0M866.8 478h0M860.7 375.7h0M887.2 232.4h0M1049.1 398.3h0M799.2 442h0M869.7 543.9h0M963.3 320h0M1245.9 333.9h0M1190.4 414.4h0M875.7 535.2h0M813.8 421.4h0M932.7 333.5h0M1107 441.4h0M773.9 377.8h0M1271.4 586.7h0M1093.4 412.5h0M1124.2 313.6h0M857.9 434.3h0M1358.8 497.4h0M873.5 494.4h0M1397.8 471.2h0M915.2 529.1h0M1138.7 310.4h0M829.5 255h0M845.5 251h0M1109.3 281.9h0M951.9 212.8h0M782.9 395h0M1190.2 486.7h0M965.2 516.1h0M905.8 528.2h0M1045 523.2h0M1211.6 534h0M856.2 487.4h0M890.3 250.9h0M809.3 394.8h0M1182 460h0M1155.5 333.5h0M844.6 238.3h0M861.3 460.6h0M871.7 512.9h0M997.6 477.2h0M1175.4 330.2h0M1175.4 532.5h0M1359 387.6h0M1094.1 583.8h0M1242.5 446.1h0M1050.4 384.4h0M1260.1 360.6h0M1281.2 354.3h0M1341.6 505.9h0M1222.1 507.5h0M1220.2 364.5h0M895.7 480.1h0M793.1 445.8h0M1231 373.1h0M1191.8 395.5h0M1265.1 388.6h0M939.4 454.9h0M929.7 538.7h0M1150.8 488.7h0M1180.8 438.9h0M1312.9 494.7h0M935.1 445.6h0M1043.9 572.6h0M1046.3 216.1h0M1008.9 532.4h0M1280.8 466.4h0M1390.7 409.3h0M1017 466.8h0M1111.1 406.4h0M1109.3 297.5h0M869.8 556.9h0M1103.6 377.7h0M874.9 528.6h0M1206.9 341.6h0M1256.4 515.4h0M1039.8 502.9h0M810.3 442.4h0M885.2 561.2h0M1182.3 301.6h0M1210.4 425.9h0M825.9 317.6h0M952.2 251.7h0M961.3 314.2h0M1152.7 400.1h0M1027.5 263.2h0M927.6 486h0M1239.9 491.4h0M1108.1 488.1h0M825 474.7h0M1196.5 401.1h0M904.1 366.6h0M1178.7 394.5h0M1331.3 470.8h0M1213.1 341.2h0M1142.8 324.2h0M893.6 466.1h0M1096.3 492.1h0M765.1 405h0M1128.1 544.4h0M1074.4 558.4h0M1345.3 405.2h0M920.3 272.2h0M1264.7 563.4h0M1004.8 304.7h0M909.7 573h0M973.3 477.7h0M1208.4 314.8h0M862.2 547.4h0M1156.7 365.4h0M806.5 504.1h0M1122.5 321.5h0M1085.7 396.5h0M794.5 519.9h0M1169.7 525.7h0M1129.6 353.5h0M808.1 279.3h0M874.9 368.4h0M945.5 496.4h0M1270.9 360.9h0M842.1 244.9h0M796.7 525.3h0M799 398.9h0M928.4 498.9h0M842.7 460.4h0M847.6 425h0M1117.5 369.3h0M1122.8 525.1h0M1220.8 620.5h0M1084.9 399.5h0M779 405.6h0M872.6 463.7h0M1361 369.1h0M850.2 300.1h0M1340.3 481.8h0M1164.4 508.2h0M809.3 517.9h0M829.5 481.3h0M1351.1 438.9h0M1121.9 507.6h0M877.9 541.8h0M990.7 424.9h0M1245.4 436.1h0M1153.2 458.2h0M1136.8 487h0M804.8 257.1h0M947.6 546.9h0M1033.1 270.2h0M810.7 349.7h0M1301.6 480.4h0M922.5 569.9h0M1145.4 433.4h0M1008.8 268.2h0M1021.3 331.5h0M984.3 569.1h0M1361.9 387.7h0M1134.5 436.1h0M1070.1 385.9h0M814.1 487h0M1128.3 333h0M1155 265h0M1156.5 286.6h0M1310.6 490.1h0M988.6 286.5h0M1066.4 353h0M828.9 327.6h0M1141.8 579.1h0M885.7 510.3h0M802.5 427.5h0M1397.1 489.1h0M1142.6 411.6h0M902.8 484.3h0M1158 415.2h0M937.7 301.6h0M1316.3 337.4h0M1111.7 276.1h0M1000.3 221.4h0M960.1 483.3h0M989.7 282.5h0M1293.1 478.6h0M831.4 550.9h0M1079.3 241.3h0M1168.7 365.1h0M1191.2 438.6h0M900.2 362.1h0M1166.1 494.4h0M920.6 473.5h0M971.3 521.5h0M992.5 356.2h0M825.2 274.5h0M942 248.5h0M1032.6 549.3h0M1323 399.6h0M802.4 464.6h0M813.9 236.9h0M1192.1 576.6h0M929.6 359.4h0M1029.4 254.1h0M945.3 306.9h0M909.2 459.9h0M1051.6 311.3h0M792.6 443.1h0M1108.5 239.6h0M979.5 365.9h0M786.6 435.9h0M1068.6 498.8h0M1119.4 325.4h0M992.4 363h0M898.8 250.5h0M1090 283.1h0M1379.5 463.6h0M1221.2 462h0M1387.4 378.2h0M1180.8 311h0M1080.3 480.1h0M1093.2 381.5h0M812.5 500.2h0M924.7 359.2h0M1042.5 543.8h0M826.7 322.7h0M923.5 556.5h0M1001 256.5h0M1327.9 415.7h0M920.2 231.1h0M1230.3 321.3h0M1067.8 299.9h0M1013.6 572h0M1105.8 240.8h0M1341.6 367.6h0M907.5 375.2h0M893.5 543.8h0M856.1 448.7h0M1131.2 333.3h0M830.8 234.1h0M1178.2 404.2h0M1272.9 329.6h0M1013.6 283.2h0M959.4 532.2h0M1033.5 513.5h0M887.5 409.9h0M857.8 285.7h0M1313.9 360.5h0M839.5 529.7h0M1044 390.5h0M1112 282.3h0M1341.5 453.8h0M1363.8 453.2h0M1325 368.7h0M1373.3 460.6h0M1291.2 475.5h0M1106.8 298.4h0M975.5 355.8h0M1212.2 366.8h0M935.4 358.8h0M1245.4 531.3h0M1041.1 532.6h0M848.4 277.8h0M1139.2 336.6h0M1106 363.6h0M1055.8 329.9h0M1092.8 310.9h0M919.6 265.7h0M1211.1 342h0M1070.4 331.6h0M1005.8 219.9h0M921.4 503.7h0M829.4 451h0M1163.5 341h0M1152.5 278.6h0M1238.5 543.7h0M1290 514.7h0M851.7 474.4h0M1161.5 429.2h0M802.6 454.6h0M1365.5 391h0M1309.2 515.5h0M1131.6 329.2h0M967.7 390.3h0M1066.6 486.1h0M1262 323.8h0M1056.7 237.9h0M1041.7 247.1h0M872.5 374.6h0M1219.4 330.5h0M928.8 379.7h0M1194.3 342.6h0M904.3 323.8h0M915.7 337.9h0M1178.2 421.7h0M913.4 565.5h0M869 312.2h0M1047.5 497.5h0M901.1 539.1h0M909.5 305.7h0M948.8 396.8h0M1100.3 466.5h0M965.2 349.6h0M1122.9 255.5h0M938.3 309.2h0M822.5 429.2h0M803.2 490.2h0M852.9 280.3h0M1030.9 474.9h0M1265.4 455.7h0M872.1 485.3h0M1021.4 531h0M1044.3 592h0M1063.1 451.1h0M793.6 481.3h0M875.1 562.7h0M952.3 551.2h0M1390.5 385.7h0M1140.5 282.7h0M836.7 239h0M1121.5 361h0M968.8 424.2h0M939 273.2h0M970.9 280.9h0M809 509.1h0M930.7 325.1h0M1030.9 575.7h0M1089.6 457.8h0M993.3 387.1h0M1038.8 351.1h0M806.1 349.5h0M1101.9 503h0M1137.9 596h0M1093.4 485.9h0M801.3 506.9h0M911.9 224.2h0M779.7 427.7h0M878.9 219.9h0M1224.9 441.7h0M1019.9 334.3h0M847.8 261.2h0M1371.2 418.1h0M957.1 418.4h0M905.3 431h0M1219.3 372h0M916.7 371.6h0M977.3 308h0M871.3 443.1h0M1206.1 377.6h0M839.7 332.8h0M948.7 257.9h0M1089.4 245.9h0M979.6 251.4h0M1242.9 577.5h0M885.1 485.5h0M828.3 402.5h0M887.5 564.4h0M1282.7 358.3h0M1153.2 282.8h0M943.4 352.6h0M790.2 482.2h0M1216.6 466.6h0M852.8 411.8h0M1356.3 359h0M1041.7 228.8h0M1170.4 280.5h0M931.4 508.8h0M1099.3 224.1h0M1065.4 440.7h0M1000.1 336h0M1096.7 544.4h0M997.4 524.1h0M865.8 536h0M835.5 284.2h0M1363.4 504.9h0M888.8 283.9h0M1202.3 602.2h0M790.2 486.8h0M964.2 198.6h0M1236.9 583h0M935.9 536.1h0M932 373.7h0M945.8 249.1h0M918.3 530.8h0M1144.4 500.9h0M848.7 488.6h0M878 289h0M1038.5 495.2h0M1111.7 540h0M830.9 313.6h0M1099.1 248.4h0M1143.4 446.9h0M825.5 270.6h0M1129.7 410.3h0M1171.3 370.1h0M1387.8 468.3h0M920.8 447.4h0M1252.2 490.4h0M1155 546.1h0M1141.8 419.6h0M997.5 210.7h0M1102.9 521.5h0M1235.3 368.3h0M1202.2 484h0M1191.2 551.2h0M1107.6 341.7h0M1143.1 342.2h0M1038.3 288.2h0M1244.9 418.5h0M1169.6 337.5h0M1100.3 494.3h0M978.3 242.1h0M908.5 482.7h0M821.6 357.3h0M1074.9 324.6h0M988.2 402.1h0M1377.1 405.1h0M1017.3 402h0M1072.3 412.2h0M823.2 346.1h0M1262.8 381.2h0M941.2 259.6h0M1113.9 369.9h0M823.9 254.6h0M925.9 452.3h0M853.1 528.6h0M965.1 242.4h0M1001.1 262.4h0M831.7 499.7h0M1229.3 484.7h0M1148.7 573.3h0M866.5 421.7h0M894.7 473.3h0M1320.9 504.8h0M1183.3 331.9h0M1034.1 302.5h0M1047.4 276.9h0M880.5 285.5h0M1154.8 253.1h0M1254.9 500.2h0M910.9 561.6h0M1035.2 448h0M1059.6 223.9h0M1120.3 319.9h0M1152.4 255.4h0M786.1 369.2h0M1007.1 437.4h0M947.7 567.5h0M1171.5 394.4h0M826.7 355.2h0M950.3 289.5h0M798.2 461.6h0M1001.8 268h0M1224.6 424h0M949.6 210.1h0M1238.3 419.6h0M1026.6 280.2h0M1189 512.9h0M1388.3 456.8h0M1075.8 406.6h0M915.4 304.2h0M1005.9 529.6h0M1182.9 398.8h0M1218.5 469.6h0M1039.6 329.1h0M989.9 377.9h0M1036.4 320.8h0M899 257.6h0M1193.6 382.2h0M1235.4 403.9h0M856.4 272.5h0M848.2 338.8h0M1163.7 350h0M852.1 229.1h0M913.8 229.5h0M850.9 444.3h0M1203.2 401.8h0M897.9 208.7h0M1084.6 264.7h0M1416.3 471.9h0M1111.3 295.2h0M966.1 568.6h0M751.9 390.5h0M914.9 299.3h0M960.9 242.3h0M1007.4 381.4h0M1156.8 291.3h0M906 467.1h0M863.1 382h0M1350.5 398.6h0M984.9 405.9h0M1301.1 400.8h0M868.4 212.4h0M909.4 318h0M959.9 515.7h0M950.3 292.9h0M1124.2 456.2h0M898.7 553.5h0M1105.4 301.6h0M1345.9 442.8h0M1083.8 280.2h0M1093.4 520.7h0M898.4 371.5h0M1258.6 389.9h0M906.5 246.5h0M1183.8 466h0M812.6 446.1h0M957.6 300.5h0M1063.3 559.1h0M852 571h0M1061.9 481.8h0M781.2 409.7h0M1363.6 478.1h0M1114.2 325.7h0M1158.8 262.2h0M767.7 376h0M1072.4 576.2h0M1151 372.5h0M851.4 512.9h0M1154.6 494.7h0M925.1 373.7h0M1135.4 581.3h0M1226.8 547.1h0M1022.6 215.5h0M1115.6 382.3h0M935.8 243.9h0M929.8 468.2h0M964.6 396.7h0M1029.7 464.1h0M970.3 246.6h0M1368.2 433.3h0M1132.2 393.1h0M1124.6 448.6h0M1296.7 503.5h0M1006.9 518.7h0M1120.4 438.1h0M1139.3 504.9h0M930.8 327.5h0M817.4 424h0M1140.6 388.3h0M910.1 301h0M995.4 529h0M823.3 225.6h0M1091.3 236.1h0M1096.1 266.7h0M1136.2 388.9h0M957.5 213.3h0M1202.3 347.9h0M959.5 544.3h0M1195.9 350.6h0M1160.2 384.3h0M978.1 496.8h0M1232.1 331.7h0M875.6 501.7h0M1096.1 499.5h0M1240 403.9h0M930.8 248.8h0M916.1 380.2h0M1246.8 472.5h0M877.1 570.4h0M1176.5 498.2h0M850.6 506h0M1255.3 337.4h0M799.4 485.6h0M1160.9 294.1h0M827.6 457.8h0M962.6 504.7h0M910.5 451.7h0M967.6 507.4h0M1160.6 420.8h0M954.2 499.9h0M1112.9 246.1h0M842.5 232.1h0M909.1 231.6h0M1226.1 318.7h0M916.2 238.6h0M1083.1 291.5h0M897.8 472.5h0M1081 317.7h0M1322.5 365.5h0M904.1 556h0M844.1 219.7h0M998.6 565.5h0M1146.7 357.2h0M1167.6 451.2h0M848.7 417.6h0M865.5 355.3h0M1059.6 504.4h0M834.9 292.4h0M1216.7 522.7h0M1266.4 486.1h0M1213.9 391.7h0M1055.6 533.6h0M1406.6 433.7h0M899.7 306.3h0M1387.1 418.6h0M1390.1 418.6h0M1013.2 520.7h0M1186.6 503h0M991.9 350.2h0M1142.3 439.1h0M1069.3 584.2h0M932.3 241.6h0M1223 578.6h0M917 254.2h0M843.8 318.4h0M1183.2 303.6h0M860.1 572.9h0M1285.6 506.2h0M954.9 319.5h0M1216.5 399.1h0M1239.5 529.4h0M879.3 548.8h0M867.1 510.5h0M923.1 321.5h0M877.6 566.4h0M1389.6 459.2h0M1295.8 496h0M1147.8 330.1h0M921.7 566.5h0M1070.3 545.7h0M810.7 234.2h0M905.6 461.2h0M1042.6 478.7h0M1119.3 523.2h0M1011.7 238.4h0M856.2 576.1h0M1334.2 414.6h0M1041.4 276.1h0M1110.7 526.5h0M1060.1 290.3h0M1097.8 226.8h0M960 487h0M1149.7 359.8h0M1064.8 307.4h0M1275 476.8h0M856 465.2h0M983.8 541.5h0M1102 240.5h0M1159.7 563.3h0M997.6 308.2h0M821.1 416.1h0M906.1 221h0M1246.1 448.4h0M1212.6 431.3h0M808.9 257.5h0M1149.2 500.8h0M836.9 519h0M875.4 521.9h0M1168.4 296.3h0M920.9 207.2h0M1205.7 406.2h0M1247.9 512h0M863.8 562.4h0M980.3 352.4h0M808.2 480.9h0M1229.8 476.6h0M1118.8 340.1h0M934 317.7h0M886.3 211.3h0M900.2 286.5h0M1064 240.5h0M907.9 498.3h0M1095.8 350.7h0M1124.6 465.9h0M1046.7 353.5h0M1337 393h0M898.4 480.6h0M1015.3 201.2h0M1237.8 402.5h0M1182.8 423.5h0M1141.7 537.5h0M1263.2 580.9h0M948.8 247.7h0M1125.6 240.7h0M1209.2 339h0M949 525.9h0M1401.2 429.5h0M1212.6 394.1h0M1060.9 272.2h0M970.6 259.9h0M1067.6 554.9h0M828.6 267.5h0M853.1 467.3h0M1154.1 346.7h0M907.5 564.2h0M954.9 242.5h0M849.7 326.6h0M974.9 278.1h0M1192.8 288h0M1332.4 447.9h0M928.5 425.3h0M1215.5 428.7h0M1136.5 542.4h0M1374.8 482.1h0M1133.5 310h0M1090.6 356.8h0M958.9 498.1h0M938.1 352.1h0M819.3 448h0M890.2 441.8h0M885.4 576.9h0M1156.5 399.3h0M870.4 500.2h0M1065.2 357.2h0M1252.1 572.3h0M1344.6 487.3h0M988.4 429.9h0M1119.6 367.2h0M955.2 506.9h0M1271.7 432.1h0M945.6 262.1h0M1071.7 363.6h0M1062.7 319.4h0M1178.9 322.8h0M1142.3 433.8h0M918.2 428.8h0M1003.7 223.6h0M974.5 224h0M1136.3 457.4h0M899.6 475.5h0M1187.5 537.6h0M781.1 379.5h0M906.1 350.8h0M1042.2 334.2h0M956.5 311.7h0M1143.8 387.9h0M1018.1 450.6h0M879 283.3h0M1172 302h0M1401 384.1h0M926.9 337.5h0M972.5 376h0M948.2 226.4h0M842.8 515.8h0M903.3 410.4h0M877.3 273.5h0M854.1 357.4h0M892.6 564h0M889.8 275h0M1112.4 312.2h0M939.5 522.5h0M895 530.7h0M912.9 518.7h0M1286.9 398.1h0M1085.7 290.6h0M1099.1 307.7h0M1049.1 525.3h0M927.1 235.6h0M1024.5 432.2h0M835.5 405.7h0M863.5 462.7h0M1016 458.5h0M1142.9 334.5h0M1256.4 504.7h0M969.6 549.2h0M904.2 507.2h0M1183.6 606h0M1104.7 325h0M1033.7 343.3h0M1205.1 480.8h0M1245.6 454h0M821.6 248.7h0M902.7 503.1h0M950.3 340.8h0M1154.1 402.9h0M1196.6 336.9h0M1112.3 582.5h0M1108.9 272.8h0M896 470h0M1154.6 434h0M986.9 526.1h0M1122.8 542.9h0M974 394.4h0M906.6 450.3h0M950.5 471.1h0M923.1 269.6h0M1227.7 398.2h0M1159.3 273.8h0M1066.9 521.5h0M823.9 509.9h0M900.9 449h0M1214.7 462.8h0M1001.2 558.2h0M1209.9 311h0M1077.3 585.8h0M894.2 349.8h0M1254.8 357.7h0M1045.1 509h0M946 199.2h0M1052.7 387.3h0M1354.1 433.7h0M901.4 432.3h0M1053.3 539.6h0M1271.9 580.8h0M808.6 486.3h0M854.1 554.9h0M1084.8 553.5h0M1242.4 424.7h0M1166.2 321.7h0M1017.1 395.3h0M949.6 495.7h0M1132.2 422.5h0M1230.7 442.2h0M1176.3 406.7h0M831.3 539.4h0M945.9 542.2h0M1049.9 369.9h0M1209.1 345.4h0M823.7 266.7h0M1349.2 404.7h0M896.6 406.8h0M993.7 261.7h0M974.4 462.9h0M1146.7 386.1h0M1315.2 348.5h0M1038.6 524h0M970.8 309.3h0M1298.4 389.3h0M866.1 490h0M1029.8 437.6h0M1031.2 357h0M1382 412.7h0M923.1 336.4h0M1188.7 483.9h0M1221.1 410.1h0M961.3 222.9h0M1180.9 361.4h0M1246.5 372.5h0M1046.2 425h0M1133.3 377.2h0M1286 433.2h0M1045.2 504.8h0M1396.6 385.7h0M1083.1 519.8h0M1015.3 335.6h0M917 450h0M1234.7 322.5h0M1302.5 334.7h0M1079.7 226.5h0M866.4 484.7h0M834.9 426.9h0M810.1 287.4h0M798.4 464.9h0M1003.6 422.3h0M1179.4 308.4h0M806.8 441.4h0M998.1 231.1h0M1120.3 258.7h0M1048.3 218.9h0M1356.2 367.7h0M1029.9 238h0M885.8 420.8h0M1038.4 425.3h0M1214.2 474.4h0M1126.3 356.5h0M1002.7 250.3h0M1048.3 324.2h0M958.5 324.7h0M1204.1 440.3h0M873.2 397.1h0M849.9 528h0M1091.5 332.9h0M1176.9 368.8h0M1154.4 452.2h0M1155.6 554.9h0M1013.6 312.7h0M924.4 330.2h0M1315.2 405.4h0M1220.1 489.6h0M1080.6 476.8h0M1316.3 475.2h0M940.5 329.5h0M870.7 368.4h0M1185.1 564.8h0M1143.4 256.4h0M1204.8 453.9h0M1174.1 297.2h0M1142.3 321.9h0M1290.4 437.1h0M1269.4 400.9h0M929.9 543.2h0M1067.2 304.8h0M816.6 452.1h0M1266.6 491.7h0M1320.6 351h0M854 502.9h0M961.8 264h0M1118.2 447.3h0M998.5 432.3h0M995.7 260h0M1151.2 344.2h0M832.7 286.1h0M1217.4 531.2h0M959.2 279.6h0M803.1 482.5h0M819.9 499.4h0M884.5 492.8h0M1217.6 424.5h0M1266.2 574.8h0M984.8 402.4h0M855.8 256.4h0M1081.3 267.4h0M861.4 408.2h0M824.7 382.6h0M1039.3 464.5h0M1031.3 505h0M923.5 350.4h0M925 475.8h0M1136.4 394.8h0M863 503.7h0M951.9 305.6h0M1108.3 400h0M1187.4 372.8h0M1195.6 575.1h0M1249 584.6h0M942 296.2h0M1247.5 350h0M1305.4 475.9h0M978.6 319.8h0M1072.2 319.5h0M1375.5 398.8h0M1230.2 353.5h0M1302.7 414.1h0M1215.9 447.9h0M972.4 297.7h0M1196 483.4h0M1118.5 362.6h0M1376.8 367.1h0M1170.7 511.7h0M922.9 445.2h0M1227.1 327.8h0M830 443.4h0M900.7 551h0M1149.4 436.3h0M1246.5 438.6h0M810.3 238.7h0M1103.6 227.3h0M820 264h0M1152.6 414.1h0M964.2 260.9h0M935.5 292.2h0M1144.5 562.3h0M1150.7 251.5h0M872.1 576h0M888.2 243.2h0M1240.3 589h0M975.7 482.9h0M855.2 350.4h0M1296.1 512.3h0M868.2 539.3h0M894 552.3h0M1013.3 517.1h0M1117.4 230.9h0M890.3 458.3h0M838.3 232.2h0M835.7 351.6h0M1066.6 410.3h0M1102.9 479.2h0M886.4 307.6h0M1065.9 420.8h0M1064.4 395.8h0M999.1 292.2h0M1084.5 511.6h0M933.2 237.7h0M979.8 302.1h0M1043.7 211.8h0M1174.6 299.5h0M996 238h0M950.3 242.7h0M1158.7 504.5h0M1214.4 351.9h0M971 554h0M1065.5 456h0M1367.8 372.2h0M1041.5 258.3h0M1229.4 413.7h0M926.1 333.7h0M1048.4 230.8h0M890.8 316.5h0M1197.2 364.2h0M1098.4 312.6h0M1225.9 572h0M786.2 428.6h0M848 446.8h0M1292.3 511.5h0M1238.5 327.6h0M1188.7 558.9h0M1041.7 506.8h0M885.5 291.5h0M833.7 271.3h0M1025 325.3h0M1018 254.4h0M874.6 292.1h0M1120.1 427.7h0M885.5 554.6h0M1159.7 341.4h0M879.9 545.5h0M961.2 368.3h0M1316.9 460.9h0M873.7 256.1h0M938.7 199.1h0M1169.6 456.1h0M919.1 540.9h0M1067.5 401.4h0M993.6 500.6h0M878.2 529.8h0M1180.6 541.8h0M1151.9 588.2h0M989.4 327.8h0M1082.8 491.7h0M1053.7 229h0M1032.1 253.9h0M916.9 480.5h0M1139.9 324.6h0M1191.4 389.7h0M1225.5 430.7h0M914.2 554.5h0M840.4 352.2h0M1073.8 437.4h0M1034 456.5h0M866.2 362.8h0M943 535.2h0M1122.2 262.9h0M1047.2 328.1h0M1147.6 344.3h0M870.7 448.3h0M892.8 427.8h0M815.4 472.8h0M1323.6 415.8h0M1121.4 479.8h0M1181.3 353.2h0M1099.1 278.1h0M935.3 314.4h0M1119.5 264.6h0M1022.6 511.8h0M1142.4 293.6h0M977.2 280.1h0M1164.2 455.6h0M845.3 273.1h0M1211.8 379.1h0M943.1 544.3h0M875.5 297.3h0M972.6 490.4h0M1066.7 251.7h0M1229.6 526.5h0M931 435.9h0M1085.4 409.3h0M992.4 300.2h0M805.4 385.3h0M860.3 235.8h0M1307.9 391.8h0M981.4 276.4h0M1125.2 401.6h0M1361.4 361.7h0M1086.7 437.1h0M1265 556.9h0M814.3 374.9h0M1009.4 427.9h0M1323.9 363h0M802.3 516h0M1155.8 338.7h0M1089.2 388.5h0M836.3 315.7h0M1043.3 529.7h0M803.7 430.2h0M1337.2 419.5h0M942.3 308.7h0M1042.5 584.7h0M1076.5 429.7h0M802.8 361.3h0M862.3 322.6h0M1137.2 418.4h0M1027.7 354.2h0M858.2 422.2h0M909.5 297.5h0M1166.3 511.4h0M1394.1 473h0M755.2 381.4h0M1041 441.4h0M972.6 263.1h0M858.3 536.4h0M858.4 243.1h0M1354.6 456.6h0M1122.2 286.9h0M1115.1 345.6h0M830.3 410.7h0M1173.5 383.2h0M1069 505.7h0M1153.1 300.3h0M1235 532.2h0M1120.8 449.5h0M860.7 564.5h0M1206.9 393.6h0M1221.7 473.6h0M1208 490.6h0M1140.2 328.1h0M896.2 476.5h0M1002.4 493h0M945.7 520h0M1097.2 443.1h0M1035.6 205.6h0M1119.7 344h0M836.1 452.9h0M1084.1 527.9h0M989.7 569.1h0M1214.4 551.7h0M831.1 279.6h0M859.8 533.6h0M1134.7 312.2h0M961.2 554.9h0M1348.6 486.3h0M894.9 289.6h0M937.8 415.6h0M936.4 506.4h0M1042.2 222.9h0M1187.9 442.9h0M1146.8 292.6h0M1302.8 450.3h0M1152.7 381.4h0M1175 348.1h0M1053.7 568.4h0M1294.9 468h0M884.9 344.9h0M879.5 522.9h0M801.3 520.7h0M812.2 476.4h0M825.3 399.8h0M1231.9 404.2h0M860.7 465.2h0M1257.3 324.8h0M999.4 449.7h0M1236.7 413.7h0M1061.7 456.2h0M1063.7 575h0M909.2 345.3h0M1337.8 409.9h0M1067.5 232.8h0M1203.3 307.7h0M1156.5 309.8h0M1189.1 581.3h0M972.4 202h0M1044.8 351.4h0M1210.5 371.7h0M875.4 451.1h0M1390.7 464.9h0M1399.3 484.4h0M1099.8 415h0M838 462.2h0M1206 425.4h0M1213.9 582.5h0M887.1 430.3h0M786.3 485h0M1216 377.1h0M1202.9 457.1h0M1259.7 429.7h0M1142.5 523h0M1302.6 433h0M1150.2 419h0M1077.4 513.2h0M1308.8 372h0M1190.3 342.8h0M1015.1 270.4h0M875.2 348.6h0M1168.8 530.2h0M856.8 510.9h0M1253.7 396.4h0M1029.5 447.8h0M1246 537.8h0M947.6 510.1h0M834.7 512.8h0M1073.8 408.8h0M787.2 471.4h0M958.8 397.5h0M1260.7 467.8h0M1222.4 485.7h0M1178.3 380.4h0M1267 340.9h0M890.9 308.6h0M1054.7 353.2h0M1274.6 497.5h0M803 527.5h0M984 328.8h0M1235.1 354.3h0M989.8 367h0M925.2 240.4h0M1128.2 369.2h0M980.3 327.9h0M923.1 344.5h0M1125.8 436.1h0M1274.1 412.4h0M1320.1 448.5h0M790.7 404h0M1144.1 570.2h0M1312.7 345.7h0M1065.2 543.9h0M910.3 550.7h0M1343.4 480h0M1043.3 207.4h0M918.8 489.1h0M784.2 434h0M778 399.8h0M1294.5 347.2h0M796.2 484h0M1065.8 604.2h0M816.1 547.8h0M1044.6 385.9h0M1281.5 542.8h0M914.6 427.3h0M1405 416.3h0M906.5 356.8h0M923.5 546h0M990.2 386.3h0M1215.1 517.9h0M839.3 522.7h0M942.9 268.7h0M1238.3 484.5h0M1240 447.3h0M1239.2 565.8h0M850.2 478h0M1059.9 556.5h0M969.4 535.7h0M871.2 516.5h0M1219 486.5h0M1144.9 370.6h0M1350.8 473.3h0M1228.2 425.8h0M1265.1 583.2h0M872.9 244.9h0M1261.7 494.4h0M1340.6 409.1h0M1255.9 361.1h0M1036.8 222.8h0M1187.4 431.9h0M956.2 568.5h0M923 535.2h0M895.6 498.9h0M989.1 259.2h0M994.9 350.9h0M963.5 402.8h0M865 254.9h0M1205.8 310.5h0M1046.4 293.8h0M806.2 517.4h0M801.5 436.7h0M1133.5 396h0M817.1 275.1h0M1069 510.1h0M942.3 318.8h0M854.7 216.2h0M1058.1 567.5h0M826.1 267.7h0M1371.7 443.2h0M1022.1 436.3h0M1010.9 259.8h0M947.8 349.4h0M880.9 537.4h0M770.9 386.2h0M1221.4 387.8h0M945.7 219h0M1015.3 357.7h0M951.9 565h0M1116.7 283.5h0M1098.1 395.9h0M963 328.5h0M868.6 238.1h0M955 304.5h0M1231.1 427h0M1244.5 395.9h0M1178.4 301.8h0M1330.7 415.5h0M1025.1 559.4h0M943.6 244.5h0M967.4 380.7h0M1269.4 355.6h0M1223.4 476.1h0M1290.3 500.8h0M853.1 523.9h0M861.2 281.8h0M1380.4 368h0M1230.6 316.3h0M1380 487.2h0M990.4 211.8h0M762.7 376.1h0M808.2 290.5h0M1091.2 243.7h0M935 567h0M921.7 401.1h0M1141.4 492.4h0M1121.4 313.5h0M842.6 540.2h0M1097.6 289.8h0M972 277.5h0M1197.1 446.7h0M1162.2 336.7h0M1290 362.8h0M1172.4 450.5h0M1335.5 513.5h0M872.3 411.9h0M1119.4 518.1h0M967.5 198h0M852.6 491.7h0M863.4 580.4h0M837.1 471.5h0M1280.8 363.7h0M1222.5 312.4h0M856.2 307.4h0M1278.5 506.3h0M1404.8 449.8h0M1037.7 318.3h0M835.6 443h0M946.5 524h0M951.5 207.1h0M999.3 573.8h0M802.1 439.5h0M1086.7 467.9h0M1235.2 359.4h0M1332.1 395.6h0M1185.6 526h0M893.4 283.8h0M1052.5 462.8h0M941.9 519.8h0M883 212.4h0M924.3 503.5h0M816.4 514.8h0M1041.1 244.5h0M1099.8 471.1h0M933 476h0M1063.3 360.7h0M1126.6 275.9h0M908.1 464.5h0M1134.9 415.8h0M794.5 425.3h0M971 384.2h0M866.1 437.5h0M1183.5 507.8h0M1223.3 471.1h0M1231.5 359.5h0M1188 303.3h0M839.7 513.6h0M1241.7 355.9h0M1273.4 542.7h0M1208.7 417.7h0M1111.5 446.8h0M828.6 392.2h0M1129.7 265.7h0M1105.5 248.4h0M1166.6 346.7h0M1095 534.6h0M868 502.8h0M1003.3 533.8h0M864.3 556.9h0M999.7 503.7h0M1138.8 403.3h0M893.9 435.6h0M1111.6 488.9h0M1203 564.4h0M1377.9 362.4h0M1232.9 519.4h0M867.6 344.2h0M970.2 217.1h0M1108.8 483.7h0M1242.5 349.2h0M1290.8 469.1h0M1315.4 370.8h0M1071.1 267h0M1189 423.4h0M1249.2 478.7h0M1004.9 448.3h0M1005.5 389.4h0M811.9 510.5h0M826.6 279.6h0M950.7 545.3h0M1048.8 472.6h0M1333.6 462.9h0M1036.7 338h0M1009.2 541.8h0M952.8 229.1h0M925.7 304.8h0M810.6 458.7h0M1076.9 456.2h0M1198.9 316.5h0M910 554.1h0M803.8 503.8h0M1136.3 466.8h0M1393.9 398.2h0M1169 463.6h0M1144.5 362.7h0M1298.8 508.9h0M1055.2 396.2h0M1271.8 503.4h0M1268.6 455.3h0M877.6 435.2h0M1105.3 258.2h0M1158.5 430.6h0M1150 444.3h0M1402.4 425.9h0M810.9 489.5h0M984.5 549.2h0M1037.3 231.5h0M1040 497.5h0M857.2 563.7h0M1069.9 393.2h0M1058.4 561.5h0M899 340.5h0M996.5 253.3h0M1140.8 266.5h0M1000.2 247.1h0M829.3 309.9h0M900.1 451.6h0M1158.6 276.8h0M857.6 389.8h0M1233.3 523.6h0M970.3 239.6h0M1254.4 373.5h0M1313.5 478.2h0M1131.6 367.4h0M953.4 532.2h0M878.8 336.7h0M1210 388.9h0M1006.4 455.7h0M1077.5 402.2h0M904.9 543.7h0M973.9 322.6h0M890 533.7h0M990.1 236.7h0M961.1 548.2h0M1280.7 525.9h0M1024.1 289.8h0M938.5 552.7h0M1343.1 490.1h0M1057.3 267.5h0M896.5 215h0M803.2 277.9h0M951.9 554.3h0M783.5 406h0M873.4 392.8h0M820.7 399.2h0M1132.2 247.7h0M1218.7 345.9h0M1014.6 204.2h0M814.1 254h0M785.3 373.1h0M993.9 390.3h0M1098.9 481.3h0M823.8 364.8h0M948.6 386h0M834.6 462.1h0M985.4 482.4h0M786.6 360.9h0M1177.8 275.1h0M997.4 399.2h0M1060 438.2h0M1403.4 457.2h0M781.5 459.8h0M1351 361.7h0M1183.3 350.3h0M1226.6 588.5h0M999.8 386.1h0M1088.6 310.6h0M942.9 570h0M1337.4 460.3h0M1136.6 592.1h0M1030.1 302.7h0M1238.6 422.6h0M1066.7 405.1h0M1134.6 472.5h0M1178.5 397h0M1020.6 580.1h0M1239.5 385.9h0M1201.1 431.7h0M1196.9 406.8h0M911 354.9h0M787.3 477.5h0M906.8 354h0M1240.7 535h0M1150.5 285.9h0M1382.7 479.1h0M835 436.9h0M1196 320.1h0M1075.1 373.6h0M1068.8 285.5h0M1200.7 288.8h0M992.6 491.1h0M964 379.1h0M1105.8 374.8h0M1383.6 401.3h0M985.9 502.2h0M845.4 241.5h0M1059.4 491.8h0M945.5 257.2h0M1162.9 500.7h0M1028.2 572.1h0M1127.3 301.2h0M1080.7 452.9h0M1163.4 310.6h0M1307.4 485.3h0M1202.1 470.8h0M977.8 252.9h0M958.8 307.7h0M878.8 483.6h0M760.7 401h0M1207.2 380.9h0M1104.1 460h0M1220.9 416.8h0M1222 366.6h0M967.7 520h0M1151.6 569.8h0M848.1 362.9h0M1111.7 229.8h0M1210.2 482.4h0M1013.4 231.7h0M888.7 344.7h0M868.6 548.4h0M1196.2 459.9h0M875.6 226.8h0M826.5 506.9h0M1043 378.7h0M1124.8 344.6h0M1195.8 290h0M934.7 307.5h0M800 475.8h0M944.1 503.2h0M1014.3 427h0M832.2 514.3h0M1151.1 492.6h0M894.5 203.5h0M1370.1 393h0"/>
<path stroke="#641A80" d="M719.4 833.1h0M733.8 834.6h0M749.8 728.6h0M772.8 797.1h0M696.3 817.2h0M711.3 763.2h0M750.2 835.5h0M738.2 791.5h0M801.6 814.8h0M782 828.3h0M754.9 784.6h0M771.9 803.4h0M709.8 794.6h0M776 768.5h0M850.3 793.8h0M809.8 799.9h0M703.2 758h0M810 815.1h0M715.4 798.9h0M826.7 812.5h0M749.4 776.2h0M842.4 741.8h0M764.7 832.4h0M740.6 794.2h0M748.5 714.2h0M860.9 807.6h0M700.4 760.9h0M755.6 805.5h0M726.2 783.5h0M722.5 809.7h0M709.8 824h0M779.3 793.8h0M764.1 788h0M829.7 790.4h0M685 753.2h0M784.2 834.1h0M684.7 798.2h0M696.7 787.2h0M810.4 795h0M730.3 816.6h0M869.3 789h0M705.2 797.5h0M798.1 815.5h0M774.6 787.6h0M697.9 753.3h0M746.8 799.6h0M751.9 746.9h0M867 781.1h0M732.3 826.9h0M737.5 824.1h0M777 835h0M795 833.5h0M819.6 802.4h0M896.9 786.9h0M752.3 806.5h0M788.5 782.8h0M723.5 742.9h0M831.9 802.2h0M739 787.5h0M797 825.2h0M701.5 724.1h0M685.4 779.8h0M736.7 810.4h0M743.5 822.7h0M736.2 711.9h0M845.1 807h0M699.8 766h0M722.3 757h0M882 779.6h0M687 772.9h0M703.7 771.4h0M708.7 755.6h0M760.8 833.3h0M720.9 817.4h0M812 813.3h0M705.1 793.9h0M733.2 812.2h0M722.9 826.3h0M809.5 804.5h0M782.9 819.8h0M747.5 783.4h0M738.4 756.3h0M791 833h0M731 830.4h0M695.9 800.1h0M812.1 764.5h0M835.2 773.7h0M716.6 718.4h0M812.5 787.6h0M717.8 740.1h0M888.4 778h0M839.8 791h0M887.8 760h0M709.9 759.7h0M731.5 708.2h0M783.7 804.6h0M845.1 786.8h0M744.4 773h0M858 762.8h0M790.1 733.8h0M724.6 811.8h0M691.5 754.1h0M711.1 768.1h0M725.6 746.5h0M701.3 777.6h0M789.3 797.1h0M716.6 802.5h0M706.9 771.4h0M700.7 770.8h0M865 792.8h0M758.5 808.2h0M885.2 803h0M751.6 801.8h0M740.8 750.3h0M801.7 785.1h0M678.8 736.6h0M735.4 838.4h0M701.7 810.7h0M730 790.3h0M730.2 805.4h0M680.7 739.5h0M855.1 781.7h0M715.7 753.5h0M771.2 794.1h0M759.1 797.3h0M689.4 808.3h0M883.1 757.1h0M739.1 745.5h0M748.6 746.3h0M717.9 750.1h0M719.2 824.2h0M746.7 814.2h0M809.3 722h0M841.4 807.2h0M698.2 729.2h0M818.2 752.1h0M790.7 740.7h0M703.6 718.1h0M733.8 768.9h0M856.5 772.1h0M844.5 814.3h0M698 781.9h0M805.5 732.5h0M738.1 797h0M736.9 835.7h0M896.5 789.9h0M710.5 715.4h0M752.9 842.9h0M817.1 798.7h0M685.6 750h0M776.1 808.8h0M856.1 814.4h0M806.7 792.8h0M734.9 789.7h0M844.5 795.5h0M785.5 807.6h0M768 751h0M701.4 721.1h0M742.4 818.3h0M728.4 801.5h0M720 820.3h0M723.1 768.7h0M714.4 729.4h0M690 723.4h0M890.4 792.3h0M768.6 810.9h0M755.8 836.5h0M704.7 790.5h0M708.4 808.1h0M792.7 814.3h0M760.9 772.1h0M903 770.7h0M1721.5 710.3h0M1666.3 725.7h0M1535.4 763.3h0M1624.4 755.6h0M1627.8 725.5h0M1681 784.8h0M1678 670.5h0M1593.3 681.8h0M1594.3 741h0M1685.9 765.5h0M1533 752.3h0M1608.1 754h0M1663.8 782.8h0M1646 761.4h0M1539.1 775.7h0M1559 719.4h0M1638.2 719.8h0M1715.3 678.6h0M1637.7 658.9h0M1686.4 693.3h0M1575.6 793.9h0M1674.7 700.8h0M1711.6 745.5h0M1664.2 800.8h0M1652.3 783.2h0M1644.7 743.7h0M1639.5 736.7h0M1604.9 770.5h0M1652.1 788.9h0M1640.3 777.7h0M1711.8 670.4h0M1633.9 671.5h0M1571.7 728.3h0M1702.8 670.9h0M1561.7 784.2h0M1708.1 715.4h0M1670.7 758.9h0M1706.3 709.9h0M1618 759.9h0M1552.2 764.8h0M1620.5 780h0M1556.3 767.7h0M1627 754.1h0M1584.7 736.1h0M1679.9 757.4h0M1671.5 738.6h0M1674.2 756.9h0M1681.2 779.4h0M1669.2 780.5h0M1641.6 801.2h0M1589.1 787.7h0M1574.5 689.5h0M1631.9 771.8h0M1605.1 701.2h0M1673.9 751.8h0M1662 793.4h0M1680.4 772.3h0M1610.7 800.1h0M1697.7 690.8h0M1634.6 747.4h0M1649.4 664.6h0M1570.2 755.3h0M1671.8 670h0M1539.9 737.6h0M1697.2 759.3h0M1526.7 740h0M1653.5 700.4h0M1625.9 704h0M1653.2 723.9h0M1612 752.9h0M1634.2 698.8h0M1673 681.4h0M1728.3 679.7h0M1607.9 669.6h0M1728.5 685.1h0M1641.1 727h0M1601.8 786h0M1569.9 767.5h0M1721.4 695.3h0M1697.9 696.4h0M1660.5 749.1h0M1715.9 697.9h0M1565.5 775.3h0M1620.2 766.4h0M1680.5 793.7h0M1691 758.1h0M1699.5 663.6h0M1682.5 756.9h0M1555.5 759.4h0M1550.2 734.8h0M1693.8 757.3h0M1675.8 666.8h0M1630.2 752h0M1683.5 725.1h0M1693.8 656.2h0M1655.1 741h0M1609.6 775.3h0M1546.9 754.6h0M1596 760.1h0M1670.3 788h0M1718.4 710.1h0M1557.8 743.7h0M1606.4 795.1h0M1690.5 766.3h0M1628.6 696.9h0M1668.6 652.2h0M1601.9 765.3h0M1647.1 736.1h0M1687.2 790.1h0M1652.6 799.8h0M1527.9 729.2h0M1679 777.7h0M1660.9 785h0M1541.8 775.2h0M1622.9 708.9h0M1548.7 795h0M1542 801h0M1359.7 1016.5h0M1423.6 1013.6h0M1366.6 1023.2h0M1428.8 993.4h0M1287.8 942h0M1317 957.8h0M1279.1 943.3h0M1423.2 994.9h0M1308.3 954.8h0M1296.2 944.6h0M1348.4 991.6h0M1279.3 961.5h0M1304.5 947.5h0M1297.8 964.4h0M1300.7 967.4h0M1360.9 1008.1h0M1384.9 1014.2h0M1382.6 995.8h0M1322.4 986.7h0M1374.6 1025.5h0M1310.1 981.4h0M1335.2 974.8h0M1303.1 996.3h0M1321.3 933.7h0M1373.9 971.8h0M1342.4 1034.3h0M1267.4 947.3h0M1298.7 961.5h0M1282.6 953.4h0M1380.7 989.8h0M1266 970.4h0M1403.1 987.6h0M1374 982.6h0M1294 978.9h0M1275.8 951.3h0M1310.8 1015.4h0M1318.1 965.4h0M1351.5 985.9h0M1341.6 1009.5h0M1353 1030.8h0M1320.7 1015.6h0M1304.4 970.7h0M1380.5 1005.7h0M1379.2 933.4h0M1390.3 1013h0M1382.3 943.8h0M1287.6 970h0M1376.3 977.1h0M1296.1 956.1h0M1330 942.8h0M1348.4 1032.7h0M1316.8 943h0M1336.9 996.4h0M1411.7 971.3h0M1355.5 1006.1h0M1415.9 978.4h0M1290.8 935.1h0M1329.1 926.5h0M1309.9 952.1h0M1387 1005.2h0M1311.6 969.3h0M1307.9 976.4h0M1364.4 1016.8h0M1400.7 1014.5h0M1276 959.4h0M1324.9 972.1h0M1432.1 1011.1h0M1369.7 973.3h0M1354.8 1014.8h0M1340.2 1027.7h0M1319.4 1003.4h0M1327.5 1009.4h0M1322 947.1h0M1302.3 972.1h0M1331 987.5h0M1266.3 951.7h0M1289.3 1001.1h0M1382.8 956.2h0M1269 945.2h0M1303 965.5h0M1326.2 1020h0M1325.3 978.2h0M1334.5 1021.1h0M1267.7 954h0M1360.5 964.9h0M1344.5 1022.7h0M1296.2 958.9h0M1330.9 1030.7h0M1300.5 932.5h0M1353.6 1034h0M1368.9 998.2h0M1309 1006.9h0M1336.7 936.1h0M1364 1000.7h0M1416.2 981h0M1409.4 984.3h0M1298.8 998h0M1312.4 996.6h0M1387.1 958.8h0M1327.6 935.2h0M1312.2 943.1h0M1301.9 946.6h0M1317 918.1h0M1421.3 983.5h0M1351.4 966.9h0M1361.5 975.1h0M1424.3 1010.2h0M1385.3 989.7h0M1329.4 999.4h0M1339.6 1006.3h0M1285 965.3h0M1293.8 968.9h0M1293.7 983h0M1383 976.3h0M1397 989.9h0M1405.5 978.7h0M1364.9 1035.5h0M1316.2 928.4h0M1298.7 951h0M1315.3 961.5h0M1336.5 982.6h0M1393.9 1009.3h0M1378.7 992h0M1363.8 1024.2h0M1365.2 968.4h0M1324.2 939.1h0M1341.1 1030.9h0M1372 1066h0M1370 1074.7h0M1366.7 1078h0M1363.3 1080.7h0M1358 1082h0M1360.7 1084h0M1358.7 1088h0M1333.3 1093.7h0M1050 991.1h0M1025.8 1007.3h0M1010 947h0M1015.6 931.9h0M1016.4 1037.1h0M1053.3 986.4h0M1038.5 964.6h0M1030.2 950.3h0M1008.4 944.8h0M1026.1 1044.9h0M1025 984.9h0M1044.7 1009.5h0M1021.1 948.8h0M1038.2 1010.5h0M1019.5 1024.9h0M1052.7 949.3h0M1022.7 1046.8h0M1041 951.7h0M1050.6 971.4h0M1036.4 1036.1h0M1068.8 1035.1h0M1047.5 965.1h0M1052.6 1039.7h0M1037.4 945.3h0M1018.9 1038.4h0M1013.2 952.3h0M1069.6 1044h0M1023 999.7h0M1072.6 1038.5h0M1023.9 994.2h0M1024.8 932.5h0M1074.7 1047h0M1045.1 996.7h0M1010.4 931.1h0M1042.7 986.4h0M1023.9 927.8h0M1008.6 958h0M1064.6 1053.3h0M1026.3 981.5h0M1024.7 951.6h0M1034 944.3h0M1061.4 962.9h0M1009.3 970.1h0M1041.2 1038.7h0M1037.2 1039.5h0M1023.5 971.2h0M1063.7 1046.2h0M1002 1059.4h0M934.8 932h0M928 946h0M943.2 960h0M946.7 965.6h0M796.3 1100.1h0M811 1081.6h0M808.2 1018.6h0M795.8 1013.2h0M797.5 1018.5h0M817.6 1046h0M757 1089.2h0M752.5 1130.6h0M767 1096.6h0M794.4 1104.5h0M832.7 1052.6h0M780 1118.2h0M762.6 1013.3h0M801.3 990.9h0M1146.6 1219.8h0M1205.6 1199h0M1181.8 1211.2h0M1171.8 1226.9h0M1197 1198.1h0M1161.2 1218.4h0M1185.9 1201.3h0M1175.8 1216.3h0M1159.4 1223h0M1173.7 1203.6h0M1176.9 1233.8h0M1167.3 1236.5h0M1170.5 1215.1h0M346 628h0M347.5 626h0M345.2 617.2h0M342 620.4h0M344 619h0M357.2 616h0M359.5 614.5h0M362 612.8h0M510 953.8h0M516.4 951.4h0M518 961.4h0M537.2 960.2h0M540.8 960.6h0M964.2 375h0M1106.1 418.5h0M1132.7 307.3h0M856.6 250h0M1307.2 452.4h0M1260.3 560.6h0M1193.7 285h0M1054.4 408.5h0M1293 426.4h0M888.6 294.7h0M1390.4 449.2h0M1262.3 354.7h0M932.3 345.6h0M1108.8 285.1h0M1304.4 468h0M1389 434.6h0M1318.1 480.5h0M1063.6 290.2h0M1243.7 598.3h0M850 225h0M901.4 399.3h0M1295.4 359.7h0M1115.2 386.3h0M1192.1 546.5h0M1000.9 382.5h0M1237 535.8h0M1123.7 316h0M1017 446h0M901.8 308.4h0M950.8 259.1h0M1263.1 452.8h0M1082.4 262.2h0M1089 346.1h0M994.3 309.3h0M1235.2 593.9h0M883 322.1h0M1276.2 538.4h0M743.5 393.1h0M1010.1 252h0M876.4 270.2h0M1391.2 478.9h0M915.3 301.7h0M1303 459.7h0M1258.5 412.8h0M913.4 297.4h0M892.1 321.2h0M1172.1 484.4h0M1162.3 322.2h0M1262.2 497.6h0M1152.2 315.3h0M1232.6 410.2h0M1006.6 225.2h0M895.2 365.8h0M941 370.5h0M1006.4 576.3h0M1076.3 355.2h0M1188.7 554.6h0M902.1 481.2h0M1249.4 531.3h0M1266.4 445.5h0M1321.6 359.4h0M922.1 209.6h0M934.9 262.9h0M1108.3 275.7h0M1294.3 383.8h0M1081 325.8h0M1049.3 227h0M1095 330.6h0M989.8 313.8h0M1091.4 252.1h0M1302 417.1h0M1224.1 514.3h0M1246 596.6h0M1251.8 418.1h0M1079.1 342.2h0M1196 494.9h0M1294.6 458.9h0M951 271.8h0M1264.4 401.7h0M1185 396h0M882.6 270.9h0M1225.7 568.9h0M1117.6 475.3h0M867.9 351.3h0M1184.2 540.8h0M1142 268.9h0M1215.4 592.9h0M1037.5 408.7h0M1268.4 586h0M1029.5 403.3h0M1235.5 451.4h0M1299.3 512.4h0M1296.3 414h0M1245.1 571.9h0M1185.8 599.8h0M1023.2 271.6h0M1258.2 556.3h0M1165.9 394.1h0M1203.5 619.6h0M1199 587.7h0M1133.6 268.5h0M1275.4 516.9h0M1219.1 517.8h0M982.5 293.5h0M1108.1 384.3h0M1283.3 482.4h0M1240.9 421.7h0M1256.1 585.4h0M1000 224.5h0M1095.8 299.9h0M1258.5 591.8h0M1278.5 473.7h0M1268.2 451.1h0M1267.2 374.2h0M1059.6 259.5h0M1002.9 254.6h0M1121.1 371.3h0M1052.7 562.4h0M1091.2 366.6h0M1032.8 442h0M900.6 442.6h0M1267 560.3h0M1182.2 455.8h0M885.5 294.7h0M1101.1 433.5h0M1116.3 263.3h0M819.2 318.6h0M1069.9 256.5h0M1073.8 466.4h0M1038.7 473.1h0M1240.6 541.7h0M1226 481h0M985.6 264h0M1386.2 446h0M839.1 242.2h0M1154.4 305.4h0M1418.4 457.8h0M1294.8 475.5h0M1392.7 425.3h0M928 331.1h0M1222.2 589.9h0M1395 390.2h0M1216.7 595.9h0M1011.7 303h0M1410.5 408.7h0M1325.6 381.7h0M1262.2 392h0M969.5 329.2h0M1161.8 422.8h0M1360.5 432.4h0M981.3 395.1h0M943.4 301h0M1108.4 255.6h0M1198.3 513.8h0M797.4 503.1h0M818 253.3h0M953.3 395.2h0M1272.1 381h0M1238.9 344.2h0M1413.4 426.1h0M1394.2 379.4h0M1009 273h0M1005.5 232.8h0M938.1 233.2h0M1389.7 393.4h0M1018.2 340h0M1176.9 545.4h0M879.5 297.3h0M867.6 230.7h0M1033.7 386.3h0M988.4 354.8h0M946.5 352.3h0M1267.9 499.3h0M1299.9 515.9h0M1014.4 228h0M1332.3 465.7h0M1136.1 432.1h0M997 234.6h0M1039.1 444.8h0M978.4 481.2h0M1040.9 403.8h0M1020.7 424.1h0M1261.3 589h0M1213.7 587.8h0M903.7 206.1h0M1329.7 457.9h0M1240.4 549.7h0M1324.9 413.3h0M1260.9 348.4h0M943.2 262.5h0M865.6 396h0M1330.6 450h0M1276.5 528.8h0M1125.7 323.5h0M1000.7 371.2h0M1288.5 425.7h0M1358.5 391.1h0M1370.3 386.8h0M1132.9 382.6h0M896.6 542h0M1041.2 367.9h0M1090.9 307.5h0M847.8 484.7h0M1252.1 588.6h0M960.3 332h0M1356.4 402.5h0M928.6 335.5h0M1026.8 276.4h0M1061.9 429.7h0M1254.6 570.9h0M1193.5 554.5h0M1354.5 392h0M1046.8 448.5h0M989.3 317.3h0M1214.4 496h0M865.7 413.1h0M1382.3 483.9h0M1329.8 462.3h0M1395.8 475.2h0M1307.8 425.6h0M1084.1 347.4h0M892.4 500.9h0M1144.6 485.5h0M1337.7 479h0M1157.9 548.6h0M1349.8 427.7h0M1143.3 312.4h0M1376.9 495.2h0M1303.5 392.6h0M1253 473h0M1355.6 422.4h0M1195.6 569.6h0M963.2 420.4h0M1069.2 351.5h0M863.1 283.4h0M1219.2 584.9h0M1149.4 267.7h0M1284.5 501.5h0M1127 289.9h0M1272.4 355.7h0M1143.4 278h0M1187.3 586.8h0M844.7 264.9h0M1302.3 356.5h0M1012.9 344.1h0M1283.3 491.1h0M1340.7 387.8h0M1373.9 436.2h0M1080.4 282.1h0M838.3 391.6h0M1288.3 488.7h0M1069.1 423.3h0M1126.8 303.6h0M1046.2 225.7h0M1037.4 214.3h0M1212 361h0M1207.8 512.2h0M898.7 302.9h0M1397.1 446.7h0M806.4 276.5h0M1033.4 347h0M1255.9 415h0M915 208h0M1231.8 545.3h0M886.2 319.9h0M950.7 266.9h0M1052.7 348.1h0M1224 535.5h0M1408.5 422.8h0M1266.2 381.2h0M1045.7 209.6h0M1086.7 222.4h0M1064.1 217h0M1185.6 305.1h0M1028.5 375.9h0M1325.4 359.1h0M1365.8 448.8h0M1065.9 219.8h0M1272.2 560.6h0M1322.7 468.6h0M1306.8 443.1h0M1376.9 411.5h0M1057.1 497h0M968.6 248.9h0M1013.7 241.8h0M854.8 229.6h0M849 311.5h0M1232.5 340.6h0M1162.2 497.4h0M1105.9 271.8h0M1334.2 411h0M841.2 249.6h0M1019.6 261h0M1280.4 515.7h0M945.6 268.8h0M1219 427.4h0M1003.8 565.8h0M1398.2 406.9h0M1072.8 375.5h0M1197.9 581.7h0M1408.4 454.5h0M929.4 270.1h0M1061 226.6h0M1095.7 481.6h0M1107.1 251.8h0M1160.8 436h0M1138.8 489.3h0M1209.6 543h0M1201.8 493.8h0M1089.8 299.2h0M1258 465.8h0M823.6 332.1h0M1266.7 417.6h0M1078.6 244.6h0M1252.1 428.4h0M1386.2 465.4h0M1142.7 274.1h0M1187.6 506.5h0M1348.2 447.5h0M1377.9 458.8h0M881.9 265.1h0M979.8 278.9h0M1133.8 365.5h0M1046.1 367.6h0M881.5 261.9h0M1082.9 394.9h0M978.5 289.1h0M856.7 268.2h0M996.7 392.8h0M1058.9 461h0M1064.5 329.1h0M1194.7 395.4h0M751.7 379.3h0M1011.1 460.6h0M1252.4 533.6h0M1266.9 578.8h0M1405.7 405.8h0M1052.2 248h0M1137.8 261.3h0M1025.9 464.7h0M1183.2 316.6h0M1136.8 462.2h0M1105.8 480.5h0M822.6 320.4h0M1309.3 385h0M953.3 333.8h0M1246 605.3h0M1138.3 317.4h0M1085.8 483.4h0M981.2 271.1h0M963.3 311.7h0M1071.4 456.4h0M1243.5 499h0M1100.6 317.7h0M1144.8 426.6h0M1312.5 366.7h0M1241 602.2h0M1223 573.7h0M1336.8 505.9h0M1255.6 581.7h0M1216.6 485.1h0M1124.3 245.4h0M1384.9 472.1h0M946.5 333.4h0M1167 458.2h0M1276.8 467.2h0M1077.2 389.5h0M1186.6 406.3h0M1416 447.7h0M882.6 268.4h0M997.7 382.6h0M1419.2 438.3h0M1296.6 430.9h0M1373.7 446.1h0M1002.8 436.6h0M1114.9 408.2h0M1236.8 547.9h0M803.2 475.5h0M1362.8 399.3h0M1264.6 471.3h0M1172.6 498.7h0M1278.9 394h0M1081.2 295.7h0M1301.8 505.4h0M1230.3 511.7h0M948.8 278.8h0M1049.9 460.8h0M1070.1 477.9h0M1293.6 501h0M1186.9 517.2h0M1156.9 490.1h0M1084.5 288.1h0M916.1 201.7h0M1129.4 488.5h0M1009.9 313.3h0M1210.5 494.6h0M1270.3 442.7h0M780.5 364h0M1098.2 411.6h0M1122.4 494.1h0M786.4 474.4h0M1222.9 556.9h0M987.5 420.6h0M1011.2 397h0M1324.5 419h0M1195.2 540.1h0M1006.3 287.7h0M1287.3 421.3h0M995 374h0M1190.3 404.9h0M1137.1 437.8h0M1040.2 210.8h0M908.9 323.1h0M1153.3 455.4h0M1212.8 456.5h0M1196.8 590.2h0M948.7 320.2h0M1075 392.2h0M1195.3 302.3h0M1249.6 596.5h0M1117.5 487.3h0M1414.1 468.1h0M1306.9 505.2h0M1224 617.2h0M1058.2 386.3h0M1117.8 478.5h0M964.5 282.8h0M1011 335.6h0M1040.3 347.4h0M926.3 229.6h0M1198.3 523.5h0M1317.8 452.9h0M1122.5 303.7h0M1252.6 584h0M969.2 272h0M840.8 339.9h0M1290 420.8h0M967.5 252.4h0M977.5 424.4h0M1041.5 501.4h0M1235.5 329.7h0M1084.3 367.7h0M1129.8 413.4h0M1105 332.6h0M993.2 383.3h0M1010.4 289h0M1239.6 585.8h0M1151.5 260h0M1268.1 516.1h0M948.5 328.7h0M1069.1 308.5h0M1255.3 408.5h0M1388.1 462.5h0M1330.7 453.7h0M1399.3 419.8h0M1402.9 454.4h0M1271.2 438.6h0M1402 417.3h0M998.3 261.4h0M1173.6 436.6h0M1256.6 342.8h0M885.9 223.5h0M1146.4 278.8h0M1003.5 212h0M1376.1 396.2h0M1256.5 383.9h0M1110.6 327.8h0M1289.8 378.4h0M1165.3 388h0M1205.6 456.7h0M1009.1 306.2h0M1372.7 466.8h0M1096.9 384.7h0M1042.2 285.2h0M1375.3 455h0M1368.5 453.9h0M1292.8 351.4h0M1097.3 348.4h0M1087.4 519.3h0M1063 445.5h0M1273.2 338.5h0M984 333.1h0M1256.1 420h0M1077.1 293.7h0M1242.4 468.5h0M1216.6 338.1h0M1129 245.1h0M960.1 292.7h0M1159.9 373.1h0M933.9 296.1h0M1045.1 364.6h0M1004 326.3h0M1212.2 565h0M877.3 422.4h0M1253 450.6h0M1117 354.8h0M1076.2 460.4h0M1117.4 359.4h0M1059.3 307.3h0M1336.3 349.2h0M966.3 344.6h0M1226.8 560.2h0M906.7 293.5h0M862.9 483.2h0M925.5 272.3h0M1378.8 395.6h0M1011.5 339.8h0M1308 399.3h0M1153.2 368h0M836.2 533.6h0M1175.2 526.2h0M857.3 216h0M1177.8 481.2h0M1213.5 599.7h0M1078.8 219.7h0M1182 474.4h0M1038.8 285.3h0M1210.6 467.9h0M1195.2 501.8h0M1080.9 256.8h0M1262.2 387.5h0M1229.8 492.1h0M1188.8 592.2h0M1287.2 343.8h0M834.4 319.3h0M1349.9 496.5h0M876.8 256.2h0M1235.5 514.7h0M1263.7 573.5h0M1148.2 446.9h0M1300.4 361.5h0M1307.4 402.2h0M1057.2 399.6h0M939.2 242.9h0M1060 466.9h0M1390.8 490.6h0M1379.3 468.1h0M1116.4 438.4h0M1165 294h0M1323.8 433.6h0M898.3 558.9h0M1119 255.3h0M974.7 241h0M1038.9 377.9h0M1231.1 542.6h0M1088.7 238.5h0M1163.5 480.8h0M1134.2 331.1h0M1329.8 360.6h0M954.3 388.4h0M1035.5 364.3h0M1050.9 331.4h0M1369.2 493.1h0M1178 463.6h0M1131.2 281.2h0M1266 434.5h0M1143.1 504h0M1238 361.1h0M1168.1 303.2h0M1355 491.3h0M838.9 221.8h0M1200.7 443.8h0M1253.4 433.9h0M1354.7 425h0M1391 403.8h0M917.1 350.2h0M1220 357.5h0M959.8 321.4h0M1049.8 306h0M804.5 357.4h0M965.7 361.5h0M1220.1 341.5h0M1094.4 240.7h0M1033.5 557.8h0M1291.8 414.6h0M1003.9 497.6h0M1081.5 235.6h0M1323.3 482.8h0M1087 485.9h0M1324.4 512.1h0M1412.1 471.1h0M1365.1 395.1h0M1105.3 254.5h0M1401.2 435.3h0M1308.7 455.4h0M1031.6 460.7h0M1011.8 442.7h0M1036.4 326.2h0M1240.6 598h0M1383.7 488.3h0M1028.5 258.4h0M1118 373.7h0M844.6 372.1h0M1074.9 288.6h0M1250.2 448h0M1239.1 458.1h0M1136.1 391.6h0M999.3 389.4h0M1032.6 299.6h0M1184.2 282.7h0M1224.7 336.5h0M1396.3 421.4h0M1309.3 410.6h0M1191.6 401.6h0M1129.9 500.3h0M963.8 296.4h0M1038 511.7h0M1287.7 502.9h0M1096.1 310.1h0M1243.1 490.1h0M998.1 256.1h0M1346.6 450.6h0M1063.1 351.6h0M1172.3 508.2h0M1388.1 407.4h0M1014.3 464h0M1232.8 351.6h0M1213.1 407.6h0M952.6 356.1h0M1273.2 483.9h0M1116.5 269.3h0M1181.6 601.3h0M1123 324.9h0M830.7 294.9h0M1034.1 335.6h0M948.1 262.6h0M1146.5 365h0M1070.8 463.1h0M1036.6 266.7h0M1423.3 465.8h0M1356.1 371.7h0M798.4 434.1h0M1212.9 611.6h0M1312.2 463.2h0M1294.8 397.8h0M1004.1 241.9h0M1054.4 288h0M1064.6 226.7h0M935.1 341.1h0M1093.4 431.8h0M812.2 258.8h0M1006.1 267.4h0M1324.5 458.9h0M771.9 371.9h0M1299.4 422.1h0M997.1 221.2h0M1386 421.3h0M1329.8 366.7h0M1204.2 527.7h0M1125.7 441.5h0M1382.8 458.1h0M1202.1 310.9h0M1069.9 472.5h0M1250.3 344.6h0M1320.5 418.7h0M1137.6 521.2h0M1263.2 586.7h0M1220 385.3h0M1397.6 457h0M1283.6 405.2h0M964.9 389h0M1371.5 396.3h0M1202.1 293.1h0M1158.5 470.5h0M1152.5 508.7h0M811.4 362.3h0M1023.7 257h0M894.8 485.6h0M1077.4 264.3h0M1212.4 592.4h0M1235.6 597.2h0M1318.1 506.3h0M1342 423.2h0M1256.5 566.3h0M900.5 281.1h0M1017.7 537.5h0M1172.4 282.4h0M1175.4 508.6h0M1057.1 293.7h0M753.8 401.3h0M1214.1 424.9h0M1043.6 383h0M963.4 305.2h0M1189.5 290.4h0M1215.6 335.2h0M967.8 203.9h0M987.6 381.7h0M1221.8 598.9h0M1055.4 336.2h0M1153.6 287.1h0M1369.1 421.3h0M1335.8 435.1h0M1291.7 472.7h0M1159.7 487.7h0M1049.7 215.4h0M1265.1 334.2h0M1382.7 398.6h0M1172.5 419.1h0M1383.1 420.6h0M1117.7 509.5h0M953.4 265.6h0M1363.3 380.7h0M1100.5 310.6h0M1238.5 398.6h0M1393.9 469.9h0M997.8 243.1h0M997.7 264.1h0M853.4 283.2h0M882.9 298.3h0M1105.6 369.9h0M1236.7 586.1h0M877.1 298.9h0M1037.2 248.2h0M1000.1 307.1h0M801.2 343h0M1341.4 473.1h0M1139.5 315.3h0M1237.1 424.7h0M873.2 302.1h0M1009.8 324.4h0M1265.5 526.7h0M1204.5 508.1h0M1013.5 354h0M1045.7 495.4h0M1186.3 532.6h0M916.8 296.8h0M1097.3 341.1h0M1118 330.2h0M1129.2 436.9h0M1109.2 231.4h0M963.6 247.3h0M1035.1 453h0M1302.5 477.1h0M1131.5 495.9h0M987.8 321.6h0M1390.5 397.7h0M1172.8 405.9h0M898.6 386.6h0M1247.6 576.3h0M1224.7 531h0M1068.5 365.5h0M1105.4 434.1h0M1281.8 397.2h0M1341.2 501.8h0M1135 255.3h0M1112.2 239h0M859.5 232.4h0M972.3 379h0M1199.6 614.6h0M1189.3 329.8h0M1140.7 279.7h0M1103.8 250.7h0M869.3 486.9h0M1041.1 364.9h0M1233.4 424.1h0M1169.7 272.4h0M1185.6 485.7h0M1249.5 360.2h0M1225.4 596.6h0M817.9 359h0M1250.5 601.4h0M1127.9 250.3h0M1210.3 553.4h0M1021.8 399.7h0M1253.8 598.5h0M1213.7 618.3h0M1322.9 379.9h0M1218.9 539.1h0M1336.9 448.7h0M1360.5 454.1h0M1274 508.1h0M1198 499.2h0M1398.4 461.2h0M1016.1 581.6h0M1071.3 347.5h0M1126.3 317.7h0M1290.7 458.4h0M1146.4 520.3h0M1113.6 413.8h0M1034.2 428.9h0M1029.4 412.3h0M1000.4 279.3h0M1173.7 544.5h0M1306.2 364.9h0M979.7 432.5h0M1047.8 386h0M812.3 325.3h0M1081.2 252.8h0M992 286.4h0M1191.3 385.7h0M1062.9 371h0M989.2 264.6h0M1088.1 241.6h0M1065.8 378.9h0M1020.4 248.9h0M1074.4 571.7h0M1354 362.9h0M1298.4 435.5h0M1107.8 288.9h0M1357.8 488.6h0M974.9 363.3h0M1315 413.1h0M954.9 238.4h0M1026.4 234.4h0M1049.2 337.7h0M1119.4 316.1h0M965.5 218.1h0M970.7 305h0M1125.6 278.9h0M852.2 329.1h0M1332.9 421.2h0M1154.2 468.9h0M1050 347.4h0M1362 467.1h0M1358 451h0M857.6 279.8h0M947.4 355.3h0M1366.9 466.2h0M1209.1 447.4h0M1291.9 494.2h0M1232 515.9h0M1032.8 339.9h0M993 433h0M840.9 258.5h0M1240.2 401.4h0M958.7 225.1h0M989.5 346.3h0M1161.8 510.6h0M986.6 253.9h0M846.5 244.6h0M1087.6 287.4h0M1405.7 474h0M1091.9 579.5h0M823 360.8h0M1386.5 368.6h0M1005.3 365.3h0M1316.1 358.5h0M1342.4 435.3h0M910.9 275.8h0M947.3 406.3h0M938.7 362.1h0M969.2 236.5h0M884.4 573.5h0M1277.6 447.2h0M889.7 372h0M1164 270.1h0M1010.5 293.2h0M1079.7 321.1h0M1090.6 291.5h0M1182.1 293.3h0M1168 487.6h0M1091.3 294.5h0M1061.4 278.9h0M1165.9 469.4h0M1207.8 568.3h0M1197.8 509.2h0M982.7 283.7h0M1333.9 426.7h0M1053 307.8h0M1256.6 545.9h0M959 375.2h0M1274.6 419.8h0M825 314.6h0M1213.5 604.5h0M1261.1 377h0M936.8 387.1h0M1031.7 407h0M1035.4 351.8h0M910.1 237.5h0M1244.9 540.5h0M1307.7 434.8h0M1335.4 454.8h0M1157.8 354.4h0M1119.3 300.8h0M1189.2 546.4h0M1311.5 407.4h0M1301.3 436.2h0M1018.3 435.3h0M960.9 443.6h0M1036.6 293h0M1260.2 343.2h0M881.3 244.1h0M1100.5 299.4h0M1264.1 466.5h0M896.6 211.1h0M1094.6 345.2h0M1283.9 445.2h0M1275.1 494.5h0M1021.9 353h0M1209.3 304.1h0M1191.5 561.6h0M1150.6 467.7h0M808.7 337.3h0M1380.1 370.7h0M1270.9 531.6h0M1255 524.6h0M1027.7 459.4h0M885.1 566.7h0M1258.1 445.7h0M788.8 439.8h0M1258.3 596h0M1016.1 224.6h0M1224.5 418.4h0M1187.5 283.5h0M1186.3 569.5h0M1345.8 415.9h0M1258.8 582.3h0M1155.4 506h0M1202.4 612.4h0M1363.1 435h0M849.2 217.2h0M1188.4 498.9h0M1354.1 418.2h0M1387.1 429.9h0M1033.8 381.3h0M1149.6 408.1h0M1006.7 430.3h0M939.2 236.1h0M1184.3 573.6h0M1193.5 612.7h0M788.5 415.8h0M820.8 304.3h0M1168.5 313.6h0M1242.5 493.9h0M873.3 419.2h0M1000.4 398.6h0M1032.8 280.1h0M924.2 496.5h0M777.5 422.1h0M1302.8 446.8h0M893.3 210.5h0M1033.8 468.5h0M1004.7 204.1h0M1285.3 480.5h0M1220 554.7h0M1096.4 284.4h0M1175.6 598.4h0M1411.5 461.1h0M1163 487.8h0M1019.8 495.7h0M1321.6 439.2h0M1223.3 435.8h0M859.9 561.5h0M955.8 377.3h0M958.4 202.1h0M1205.3 494.5h0M874.2 362.3h0M1082.4 340.1h0M1013.2 438.6h0M1093.1 373.7h0M1017.4 406.9h0M884.8 281h0M943.8 395.2h0M1347.1 458.1h0M1041.1 384.4h0M1364.2 383.9h0M1270.3 509.5h0M1049.3 442.7h0M1036.1 556.7h0M968.7 269.5h0M1123.5 280.9h0M1237.6 358.8h0M1173.6 559.1h0M1275.6 392.1h0M1347.7 361.5h0M1305.6 360.8h0M1257.6 563.1h0M1092.3 247.2h0M1150.6 365h0M985.6 260.1h0M812.2 321.6h0M932.3 354.1h0M1334.7 364.4h0M1193.6 596.6h0M1021.3 252.4h0M1127.5 306.6h0M1115.9 418.5h0M1074.8 236.1h0M896.8 458.1h0M985.4 428.5h0M1129.2 511.1h0M1088.9 523.1h0M1226 579.2h0M1050.1 436.1h0M1254.7 442.7h0M1403.7 444h0M1310.8 359.5h0M1314.6 507.6h0M1387.8 414.7h0M1298.9 495h0M937.3 366.9h0M1126 427.3h0M1351.8 446.8h0M1118.3 314.2h0M1004.4 284.2h0M1223.3 333h0M944.4 247h0M992.7 523.5h0M1213.1 561.4h0M991.2 430.4h0M1155.9 463.6h0M882.5 307.4h0M820.6 405.7h0M1282.5 350.4h0M1020.2 258h0M966.1 314.5h0M1220.8 399.6h0M1090.4 328.1h0M1033.1 323.6h0M958.3 231.9h0M1035.9 241.4h0M1335.9 376.1h0M1409 405.4h0M1242.8 586.7h0M1007.5 424.2h0M1210 575.3h0M815.7 257.4h0M1068.5 229.5h0M1197.7 553.8h0M1293.8 485.3h0M1168.1 361.1h0M1391.2 455.4h0M1228.5 573.5h0M1143.9 315.8h0M797.9 363.9h0M906.3 446.9h0M1259.3 437.1h0M966.6 276.2h0M1367.1 413.3h0M1157.9 345.5h0M911.9 455.7h0M1016.6 298.9h0M1373.4 472.5h0M1201.6 577.3h0M1231.3 461.5h0M989.9 250.8h0M1132 384.9h0M904.9 309.5h0M1082.6 239.6h0M1244.4 544.1h0M843.4 236h0M956 350.8h0M1170.5 475.8h0M953.9 281.4h0M1021.4 391.5h0M897.8 466.8h0M1067.9 271.3h0M1119.2 296.1h0M859 350.7h0M942.4 526.3h0M1137.2 273.1h0M932.4 339.4h0M1055.3 417.8h0M1059.3 310.6h0M1398.4 410.3h0M876.1 480.3h0M1115.9 422.9h0M1081.8 497h0M1331.2 412h0M1293.1 375.8h0M1099.1 561.1h0M1234.2 551.7h0M867.6 375.5h0M861.1 260.6h0M1263 416.8h0M846.6 223.3h0M1232.5 453.3h0M1003.9 271.9h0M1391.7 434.3h0M999 217.8h0M1261 548.2h0M785.8 404.4h0M862.6 305h0M1260.4 574.4h0M1396.4 452.6h0M979.1 259.6h0M1327.3 372.7h0M835.8 287.1h0M879.3 271.2h0M1268.1 496.2h0M1026 303.6h0M1178.6 304.6h0M1249.8 488.2h0M972 387.2h0M995.8 327.4h0M1131.1 378h0M1090 313.9h0M1379.6 446.1h0M1117.3 560.9h0M1382.3 475h0M1266.1 464.1h0M1263.4 491.2h0M849 344.7h0M1371.1 406.8h0M1056.2 324.5h0M843.4 240.6h0M828 364.2h0M831.6 379h0M1092.5 449.2h0M877.5 278.3h0M1108.2 380.3h0M1105.4 294.1h0M990.4 434h0M1372.9 440.4h0M911.7 341.1h0M1291.4 449.3h0M999 438.9h0M907.3 369.8h0M1418.7 473.7h0M833.2 329.9h0M1218.4 498.6h0M860.1 219.2h0M1267.1 427.8h0M1008.7 373.9h0M1337.8 489.8h0M1107.6 306h0M944.7 253.8h0M1089 250.4h0M904.7 333.8h0M1026.3 218.1h0M1166 504.8h0M1371.1 371h0M1367.8 429.4h0M1143.8 304h0M1371.2 363.3h0M884 349.5h0M1323.1 461.5h0M1336.6 509.7h0M1201.9 408.6h0M1378 382.9h0M948.5 417.4h0M1280.5 373.9h0M1040.4 297.1h0M1076.8 311.3h0M1008 447.1h0M1127.2 378.6h0M1260 571.4h0M1039 382.4h0M1109.5 521.4h0M1315.1 373.8h0M1267.1 344.9h0M1233.4 511.5h0M933 265.5h0M1073.9 245.3h0M1157.9 495.1h0M1038.5 412.8h0M1025.4 377.1h0M998.9 424.8h0M1016.7 252h0M839.8 356h0M1235.3 601h0M1301.4 441.7h0M1082.8 481.7h0M767.4 372.7h0M1322.8 391.2h0M916.3 346h0M1227.4 377.9h0M1037 359.1h0M1357 454.6h0M932 312.2h0M1156.1 269.7h0M1092.2 422.5h0M804 354h0M1001.3 413.4h0M1014.1 432h0M1158.4 323.8h0M962.7 256.7h0M1094.8 356.7h0M867.8 268.2h0M1087.6 306.8h0M1147.4 270.5h0M1015.4 305.2h0M1115 277.5h0M1116.5 412h0M1218.3 577.8h0M1295.1 403.1h0M1305.2 497.8h0M1318.2 349.1h0M1124.2 388.2h0M1303.7 508.6h0M1146.1 328h0M1056.7 258.5h0M1097.5 251.5h0M1047.8 438.5h0M1105 444.5h0M1255 551.6h0M1111.8 252.1h0M1004 400.5h0M879.8 391.3h0M1051 377.6h0M1244.4 402.2h0M1023.6 383.8h0M855.5 374.9h0M1233.1 400.6h0M1251.8 476.1h0M1247.3 444.9h0M1092.2 480.7h0M1092.6 465.4h0M1107.4 330.3h0M1059.9 522.7h0M988.5 437.5h0M1230.1 468.4h0M1032.5 450.4h0M1090.2 379.3h0M1110.4 501.1h0M1166.7 273.8h0M1036.3 330.6h0M1008.4 564h0M1014.9 350h0M1045.8 442h0M885.5 460.1h0M1055.7 489h0M1383.3 394.1h0M805.9 422.1h0M832 336.6h0M1324.2 452.9h0M1216.4 507.5h0M1093.7 390.5h0M1108.5 294.2h0M1026.5 395.3h0M1013.1 457.4h0M1005.4 259.9h0M1303.7 438.4h0M1279.3 383.4h0M1299.2 374.8h0M1314.9 452.6h0M1217.4 496.1h0M1326.6 509.5h0M1229.1 600.5h0M956.7 381.5h0M1117.3 289.2h0M882.7 310.9h0M1240.5 369.1h0M914.5 437.4h0M908.1 295.7h0M1164.6 425h0M1325.3 387.6h0M1112.7 323h0M860.4 215.6h0M1325.5 450.2h0M1050.8 530.6h0M936.3 281.6h0M1334.8 355.5h0M1333.6 516.9h0M1019.4 270.4h0M1265.2 567.5h0M1086.3 296.2h0M992.3 318.1h0M1379.1 432.4h0M1045.3 433.5h0M746.3 386.2h0M1161.4 455.6h0M838.5 293.8h0M898 532.6h0M1208.6 571.6h0M1158.3 388.7h0M940 293.4h0M1013.2 263.1h0M1219.7 568.7h0M1011.4 332.1h0M1038.5 276.8h0M1143.6 372.8h0M985.8 220.6h0M1205.1 605.2h0M1289.9 404.5h0M969.3 376.9h0M1148.9 506.3h0M1153.9 483.7h0M1393.5 420.4h0M1261.4 486.6h0M1384.8 440.2h0M1047 376.7h0M1343.9 466.6h0M1329.6 357.7h0M1274.1 439.3h0M1326.5 456.9h0M1288 407.6h0M853.9 371h0M1273.1 369.7h0M989.4 398h0M1366.6 369.4h0M876.6 341.4h0M1111.6 316.4h0M883.9 337.2h0M1260.8 331.7h0M1099.1 450.6h0M1246.9 553.8h0M1292.4 423h0M1001.1 283.5h0M1291.6 503.3h0M1246.1 506.2h0M1175.5 487h0M1195.8 294.8h0M995.2 360h0M985.8 350.6h0M965.9 309.7h0M1218 599h0M909.5 395h0M1136.3 365.9h0M1268.4 480.5h0M1309 377h0M1230.8 575.7h0M843.1 477.7h0M914.9 211.3h0M1287.5 347.2h0M1388.4 382.7h0M1171.3 552.6h0M1160.4 279.5h0M1249.3 604.4h0M1196.8 618h0M1081.8 344.1h0M853.4 269h0M749.2 383.2h0M1013.8 420.3h0M1017.3 285.7h0M1353.1 470h0M1327.9 411.2h0M1085.2 475h0M1175.3 411.9h0M1186 549.1h0M1040.4 391.6h0M1140 455.9h0M1082.9 250h0M1279.2 488h0M959.3 339.6h0M1272 487.9h0M942.3 254.4h0M1116.5 332.8h0M1400.9 387.2h0M823.4 289.3h0M1254.4 386.5h0M1075.9 447.7h0M1258.2 498.4h0M1068.8 558.6h0M1125.5 347.5h0M1106.4 282.4h0M1022.7 440.7h0M1356.7 435.7h0M1275 426.4h0M1050.5 314.5h0M772 395.1h0M1292.3 356.2h0M1296.6 477.6h0M1257 512.4h0M1392.8 452.9h0"/>
<path stroke="#6B1D81" d="M705.1 804.7h0M725.3 738.1h0M733.3 772.5h0M798.8 793.3h0M710.6 745.1h0M714.9 751h0M899.2 790.6h0M777.8 814.8h0M749.8 814.3h0M756.9 761.7h0M726.7 788.3h0M720.3 712h0M729 720.2h0M881.1 800h0M743.9 830.2h0M810.2 784.9h0M865.8 807.7h0M732.5 756.4h0M783 825.1h0M703.1 801.5h0M727.3 757h0M712.4 749.3h0M704.9 825.4h0M713.3 726.1h0M753.7 825.7h0M771.4 821.3h0M706.6 734.8h0M722.7 805.9h0M797.4 788.5h0M723.8 765.9h0M807.7 752.6h0M715.3 713h0M842.4 754.9h0M804.2 714.9h0M712.4 731.9h0M741 790.5h0M692.2 719.6h0M725.7 791.5h0M761.2 805.2h0M761.2 795.4h0M701.2 768.2h0M733.5 792.9h0M844.7 758.5h0M791.7 829.8h0M758.3 802.7h0M779 823.6h0M735.6 755.1h0M858.5 793.2h0M763.6 746.6h0M876.6 792h0M691.6 716.6h0M822.6 823.1h0M739.8 831.9h0M793.3 820.9h0M767.5 806h0M760 792.5h0M743.7 751.3h0M824.9 809.9h0M758.4 800.1h0M890.2 782.8h0M759.8 827.9h0M687.4 801.1h0M756.5 840.8h0M880.1 784.5h0M789.9 811.9h0M892.5 772.4h0M706.7 725.2h0M770.5 814h0M836 744.7h0M765.2 779.5h0M693.5 773.5h0M864.2 804.4h0M738.6 726.3h0M766.3 837.8h0M863.2 799.5h0M803.5 823.3h0M736.4 743.8h0M875.4 808.1h0M712.1 719.7h0M761.9 779.5h0M710.7 783.7h0M776.4 817.9h0M721.9 791.1h0M803.3 761.9h0M742.2 754h0M797.3 801h0M722.6 833.5h0M866.8 756.1h0M771.2 785.3h0M829 785.2h0M724.7 711.4h0M1691 761.5h0M1616 704.8h0M1554 770.2h0M1671.5 770h0M1692.3 672h0M1659.3 767.8h0M1587 709.7h0M1668.9 768.1h0M1692.2 715.1h0M1681.2 728h0M1658.2 802.8h0M1648.6 733.6h0M1664.3 759h0M1631.8 758.5h0M1724.5 698.8h0M1641.6 745.3h0M1618.1 796.1h0M1684.1 669.7h0M1656.9 798.4h0M1647.8 783.4h0M1569.4 778.5h0M1671.7 773.4h0M1663.2 695.5h0M1633.2 750.4h0M1687.4 758.1h0M1623.4 792.3h0M1647.3 723.4h0M1700.8 764.4h0M1591.6 697.6h0M1710.2 705.5h0M1684.3 708h0M1648 777.4h0M1609.1 792.4h0M1628.1 770.8h0M1678.3 780.9h0M1665.7 665.5h0M1707.3 682.9h0M1607.9 786.8h0M1677.3 751.4h0M1628.1 748.5h0M1619.4 803.9h0M1652.9 803.9h0M1573.5 716.8h0M1672.5 665.2h0M1693.9 760.1h0M1700.1 743.9h0M1616.1 802.6h0M1660.2 758.4h0M1668.7 717.2h0M1594 764h0M1697.5 699.8h0M1395.7 1003.9h0M1336.2 1006.7h0M1283 963h0M1392.8 976.3h0M1319.6 970.2h0M1323.9 935.9h0M1323 998.6h0M1334.6 940.6h0M1417.5 1012.8h0M1343.4 1006.7h0M1404.4 982.7h0M1291.2 981.8h0M1364.3 1013h0M1400.4 969.6h0M1412.3 989.4h0M1312.6 954.2h0M1370.9 983.6h0M1297.7 992.8h0M1389.3 1018.7h0M1353.7 978h0M1301.9 1000h0M1311.4 937.7h0M1294.7 975.6h0M1429.7 1009.3h0M1329.1 976.6h0M1328.5 1014.1h0M1410.3 945.7h0M1303.4 982.8h0M1317.1 999.8h0M1361.3 1001.7h0M1297.9 978.2h0M1316.5 1004.7h0M1387.5 999.3h0M1406.9 971.1h0M1315.8 968.8h0M1369.2 1020.2h0M1272.9 959.8h0M1307.5 930.7h0M1315.5 1002.3h0M1301.3 957.1h0M1293.9 987.3h0M1288.3 995h0M1382.8 1020.2h0M1281.9 938.2h0M1349.6 1025.1h0M1387.5 992.6h0M1418.7 968.1h0M1339.2 945.9h0M1348.1 1012.7h0M1325.6 945.9h0M1411.4 1015.6h0M1309.6 924.6h0M1303.8 917.6h0M1333.1 963.9h0M1376.2 1000.1h0M1395.7 1023.2h0M1363.7 970.9h0M1419.7 948.9h0M1297.1 931.2h0M1285 976.8h0M1333.7 1003.6h0M1356.8 1036.1h0M1392.9 1006.8h0M1375.4 1003.2h0M1301.4 992.6h0M1424.1 974.2h0M1373.1 956h0M1305.7 1001.3h0M1434 992h0M1288.7 978.9h0M1359 988.9h0M1425.9 1014.8h0M1381.2 1026.1h0M1268.1 959.9h0M1387.6 1014.8h0M1415.7 974.8h0M1010.8 933.8h0M1030.3 999h0M1029.7 1054.8h0M1018.8 914.8h0M1064 1041.7h0M1049.5 963.2h0M1021.3 1033.9h0M1061.6 959h0M1027.2 978.8h0M1019.6 1062.7h0M1024.4 925.5h0M1033.1 937h0M1021.5 1003.5h0M1019.4 957h0M1048 973.2h0M1050.6 953.8h0M1022.7 1040.9h0M1056.6 970.7h0M1039.9 1022.3h0M1042.1 1006h0M763.7 1112.7h0M793.8 1035.7h0M833.3 1038.4h0M800.5 1026.3h0M800.9 1066.6h0M1160.8 1231.1h0M1207.4 1222h0M1171.6 1207.6h0M1150.9 1233.8h0M1192 1210.5h0M1144.5 1234.7h0M1195.3 323.9h0M1060 326.9h0M1040.2 396.2h0M1327.1 439h0M1178 493.8h0M1056.6 347.4h0M1259 530.6h0M1103.2 473.3h0M1057.3 215.8h0M1166.2 497.6h0M1164.8 284.2h0M1285.4 494.5h0M1209.3 606.8h0M970.2 487.1h0M841.6 375.6h0M1336.4 385.3h0M985.7 296.2h0M1041 388.5h0M1130.4 391.8h0M985.8 367.2h0M1121.2 273.1h0M1339.6 415.3h0M1124.7 302.2h0M1167.7 522.1h0M1316.4 421h0M1204.4 398.1h0M967.4 467.9h0M1385.3 383.7h0M1091.2 386.3h0M1129.3 324.2h0M1077.2 222.2h0M1348.8 469.5h0M954.3 343.7h0M1289.1 355.1h0M1193 514.8h0M1044.2 267.8h0M1002.5 302h0M1309.2 478h0M756.9 377h0M1424.8 452.6h0M1033.6 203.2h0M885.8 270.1h0M1174.4 551.9h0M1047.3 469h0M1342.9 349.6h0M1106 245h0M1340.5 430.4h0M866.3 337h0M1270.3 583.9h0M1021.9 430.3h0M1192.7 362.9h0M1315.1 402.1h0M1271.6 426.6h0M1125.3 352.6h0M1066.8 463.9h0M872.3 378.3h0M1275.9 437.2h0M910 523.9h0M1339.7 359.7h0M1171.6 344.5h0M939.4 332.6h0M850 371.2h0M1257 434.8h0M1301 345h0M1062.2 468.8h0M1190 323.4h0M1210 461.7h0M961.4 387.9h0M1078.2 308.9h0M1007.9 294.1h0M1257 430.8h0M815.2 348.7h0M858.3 228.3h0M1019.8 237.4h0M1241 594.5h0M1225.9 401.4h0M939.6 208.4h0M1056.8 435.5h0M1397.7 477.3h0M1331.7 480h0M958 259.1h0M1058.7 352.3h0M1121.7 252h0M1388.4 472.1h0M1143.8 319.8h0M1027 312.8h0M1266.9 448.4h0M1375.3 384.4h0M1053.3 390.9h0M1028.6 283.8h0M1129.2 405.6h0M1172 589.7h0M1314 455.4h0M1120.9 298.2h0M1234.5 471h0M1011.1 392.2h0M1048.8 534.8h0M1323.7 350.8h0M1378.6 386.9h0M1180.1 491.1h0M1379.9 472.7h0M1210.6 395.3h0M1277.2 490.6h0M1211.6 596.4h0M1043.8 250.8h0M1285.7 447.5h0M1057.1 389.8h0M855.7 483.3h0M756.3 389h0M1281.4 470.7h0M1283.4 423.5h0M1328.8 445.9h0M848.7 404.9h0M1342.7 355.2h0M1079.3 466.1h0M1062.8 567.3h0M1259.4 544.6h0M899.1 435.6h0M1083.9 413.2h0M1411.9 448.3h0M1314.6 459h0M1201.2 573.3h0M883.1 300.6h0M983.9 267.2h0M1111.4 380.3h0M813.5 365.4h0M1187.9 550.9h0M1074.5 270.1h0M1099.9 327.1h0M937.4 214h0M1212.1 498.7h0M1156.3 430.1h0M989.1 227.8h0M1372.9 456.6h0M1284.2 487.1h0M962.7 364.1h0M1235 573.1h0M1349.8 419.6h0M1086.8 331.5h0M1156.1 261.4h0M1085.8 239.2h0M1256.1 541.7h0M1142.8 385.5h0M1350.9 505.9h0M1356 499.7h0M1060.2 402.9h0M994.3 257.5h0M1001.4 441.3h0M1129.1 329.9h0M1073.5 273.1h0M1094.9 437.6h0M1033.1 328.9h0M878.8 301.7h0M1059.4 394.5h0M1346 500.8h0M1011.7 349.1h0M1308.7 418.4h0M909.9 535.6h0M1352.3 375.7h0M1175.3 521.2h0M1091.6 402.5h0M948.9 220.2h0M892.7 299.2h0M891.8 262h0M1117 306.7h0M929.8 220.1h0M973.8 308.9h0M998.5 376.4h0M1297.9 440h0M1288.3 440.7h0M1028.9 293.3h0M1108 234.7h0M998.9 239.6h0M1103.1 388.4h0M1083 419.7h0M1055.3 269.6h0M1129.1 273.5h0M1077.5 300.2h0M1226.1 539.8h0M967.1 222.8h0M1216.7 435.7h0M1213.3 512.7h0M1369.5 415.2h0M1178.6 299h0M917.9 553.2h0M785.3 410h0M1319.7 403.6h0M1034 296.6h0M1074.2 487.6h0M1283.7 430.1h0M969.5 300.3h0M1284.2 381.4h0M1037.3 459.9h0M977.4 388.4h0M1382.2 431.3h0M1046.9 254.4h0M774.5 368.3h0M884.8 267.2h0M1293.5 454.9h0M1169 509.2h0M1056 310.8h0M1127.7 309.5h0M1199.5 591.6h0M1312.1 439.7h0M960.8 260.7h0M808.7 272.3h0M1063.3 529.6h0M1016 390.8h0M1336.5 468.3h0M1270.3 434.9h0M1173.2 458.3h0M1286.9 500h0M1038.8 431h0M903.8 471.6h0M1395 431.7h0M848.8 265.2h0M1237.2 383.8h0M1347.3 437.4h0M1146.7 289.6h0M792.2 410.1h0M1054.2 266.2h0M903.4 571.9h0M1326.5 402.4h0M1290 429.3h0M1046.6 235.8h0M1409.2 417.1h0M1047 370.8h0M961.5 267.1h0M1274.7 388.8h0M1320.7 410.5h0M1017.4 429.2h0M1227.9 604.6h0M1135.1 546.2h0M1251.5 422.3h0M1205.6 546.8h0M1085.5 325.6h0M1269.3 363.9h0M1216.7 392h0M956.5 205.8h0M1316.4 464.1h0M1030.7 266h0M1355.5 398h0M1049.3 404.3h0M1145.5 414.1h0M882.5 524.1h0M1045.1 345.9h0M1147.5 509h0M879.9 273.7h0M1232 567.1h0M1021.7 356h0M1363.4 377.5h0M1030.9 260h0M1134.6 326.7h0M1249 536.2h0M1398.5 480.7h0M975.8 262.4h0M1249.8 580.6h0M1099.8 475.2h0M976.4 324.3h0M820.8 314.7h0M1189.4 449.5h0M1217 313.2h0M1002 418.3h0M1004.6 335.1h0M1185.5 375.7h0M1254.9 548.5h0M1160.6 414h0M995.2 303.5h0M1247.5 563.1h0M1034.7 277.1h0M1043.7 458.2h0M852.2 470.7h0M1309 468.4h0M1357.9 426.4h0M1298.2 487h0M1048.8 452.8h0M1097.9 392.8h0M1177.6 605.4h0M1312.9 481.5h0M996.4 446.1h0M1292.4 466.1h0M1280 389.3h0M1348.6 364.5h0M1068.6 322.5h0M1078.2 385.1h0M1247.9 522.3h0M1279 434.5h0M1021 325.4h0M1090.1 340.3h0M1328.1 420.1h0M1021.5 292h0M1076.7 260.3h0M1063.9 471.5h0M1132.7 418.1h0M977.9 537.9h0M1248.8 433.4h0M1093.3 469.3h0M1196.8 551.3h0M1040.1 361.5h0M815.9 312.6h0M1124.3 413.7h0M1216.2 540.6h0M1084.5 461.7h0M1205.9 536.4h0M1052.5 270.2h0M1378.5 454.8h0M1168.9 348.6h0M982.1 387.2h0M1044 296.8h0M1073.7 424.5h0M1217.2 572.3h0M1172.2 461.1h0M1039 322h0M844.5 348.2h0M1195.5 411.1h0M834.2 355.7h0M1086.7 277.7h0M1069.5 221.8h0M1078.6 276.6h0M1268.1 581.4h0M873.4 306.7h0M1208.6 506.1h0M1218.3 411.5h0M861.9 240.8h0M1101.3 283.7h0M1083 376.7h0M1223.5 340h0M898.8 268.2h0M1150.9 459.5h0M1083 387.1h0M1087.9 231h0M1335.9 360.3h0M925.6 213.2h0M1086.2 249.6h0M1017.6 354.5h0M1270.2 422.3h0M1048.6 289.7h0M1186.7 295.7h0M1184.7 496.4h0M1074.3 366.6h0M814.2 270.9h0M969 514.4h0M1120 527.6h0M1380.3 379.3h0M1087.3 323.1h0M1217.8 362.8h0M803.2 337.8h0M1180 427.8h0M906.6 343.1h0M1216.8 366.7h0M1117 483.9h0M1384.5 415.1h0M1156.1 336h0M1217 407.6h0M1197.7 503.7h0M1238.8 479.1h0M1040.3 206.9h0M779.8 369.4h0M1302.1 371.3h0M886.5 467.9h0M1105.9 321.2h0M889.1 256.4h0M935.6 303.9h0M1104.4 279.1h0M1394.1 383.6h0M1173 323.8h0M1271.2 449.3h0M1132.5 349.8h0M1278 403h0M1425.8 472.3h0M1219.2 368.2h0M1030.4 312.7h0M1312.1 512.5h0M1306.4 480.3h0M1153.8 267.8h0M1195.3 517.5h0M1221.3 430.7h0M1113.2 290.4h0M1352.9 365.9h0M1296.7 343.8h0M1121.6 340.5h0M1140.6 298.2h0M1122.6 434.9h0M911.8 362h0M1196.6 593.4h0M1111 362.8h0M1150.7 291.5h0M1131.8 245h0M853 315.2h0M1339.9 469.9h0M1241 475.3h0M1261.3 502.2h0M819.7 322.5h0M1267.8 431.5h0M1096.6 417.9h0M1156.1 439.9h0M1287.9 496.7h0M1103.7 381.5h0M960.7 342.6h0M1343.7 364.1h0M1255.9 424.5h0M847 289.2h0M1166.7 558h0M1097 230.4h0M1108.1 279.5h0M994.2 442.4h0M1189.2 468.5h0M1197.2 601.9h0M822.1 502.8h0M1222.5 425.8h0M1400.4 457h0M1357.4 376.2h0M808 328.2h0M1276.7 423.9h0M1299.3 354.1h0M1174.8 433h0M882.2 357.7h0M1314.8 497h0M1144.2 281.8h0M1060.9 347.7h0M1067.9 248.7h0M1330.3 422.5h0M1178.1 456.8h0M1075.7 468.3h0M1134.7 265h0M1049.5 449.7h0M1015.5 249.1h0M1051.9 317.1h0M1325.1 479.3h0M1227.3 542.6h0M1104.5 415.6h0M1268.5 334.3h0M863 219.4h0M875.9 232.1h0M1198.5 480.4h0M1257.1 474.8h0M1282 534.8h0M815.4 344.8h0M1267.8 327.9h0M1089.8 335.5h0M1134 291.6h0M1308.1 461.8h0M1364.7 415.1h0M1084.3 234.2h0M783.1 426.2h0M1316.7 447.7h0M1373 423.2h0M1341.8 438.5h0M1155.7 389.1h0M1072.6 309.4h0M814.7 303.5h0M844.5 556.2h0M1345.1 493.5h0M979.7 254.6h0M1288.5 338.8h0M850.6 236.1h0M1312.5 401.2h0M959.1 245.8h0M1034.7 307.7h0M1242.5 337.4h0M1397.3 379.2h0M1013.5 367.3h0M1173.4 400.5h0M1345.8 497.3h0M910 269.5h0M1104 391.8h0M1027.2 435.5h0M1067.2 470.4h0M1083.1 323.4h0M1274.5 473.1h0M1261.2 584.2h0M1139.6 344.8h0M1078.4 571.6h0M1280.4 481.1h0M980.4 206h0M1063.1 294.2h0M1075.3 377.2h0M967.9 396.1h0M848.5 409.7h0M1037.3 386.4h0M964.1 279.2h0M1250.2 574.6h0M1040.3 436.9h0M1194.6 415.7h0M1240.4 436.6h0M1111.1 386.8h0M1088.5 410.4h0M984.7 256.7h0M1338.6 495.1h0M1023 394.4h0M1284.1 414.6h0M1317.9 470.8h0M1086.4 381.7h0M1007.3 299.6h0M1252.3 579.1h0M1223.9 547.7h0M1254.4 591.3h0M1111.8 425.3h0M1151.7 447.9h0M1192.8 592.1h0M1068 319.3h0M1025.2 380h0M1289.5 483.7h0M938.3 298.2h0M1351.4 464h0M1342.1 371.2h0M1284.5 387.3h0M1016.2 273.8h0M905 361.2h0M864.3 352h0M1145.6 482.1h0M908.9 358.5h0M951.2 485.3h0M805.4 334h0M1388 388.3h0M1206.7 296.6h0M1273 480.3h0M1025.2 443.4h0M956.8 524.5h0M859.8 328.6h0M1166.7 482.8h0M1352.3 354.3h0M1028.4 340.2h0M1264.1 409h0M905.9 536.9h0M1056.9 339.9h0M1276.1 396.1h0M1169.9 408h0M1168.2 398.7h0M862.9 265.5h0M1311.2 453.4h0M1350.4 369.9h0M1061.4 330.4h0M1121.4 382.3h0M1053.3 475.2h0M1258.3 367.7h0M1079.4 366.1h0M964.8 326.7h0M911.5 293h0M933.4 501.6h0M1095.3 402h0M1294.2 514.3h0M1075.5 295.9h0M1260.9 462.2h0M986.4 326.3h0M1026.5 212.4h0M805.4 288h0M1208.7 538.7h0M1259.8 424h0M808.2 547.4h0M1059.7 266h0M1344.1 463h0M1391.1 442.6h0M1079 406.2h0M899.7 276.2h0M948.6 251.6h0M808.2 340.8h0M1241.6 484h0M1336.5 472.1h0M1010.2 454.2h0M848 318.4h0M1265.7 412.8h0M1069.5 337.3h0M1057.8 470.5h0M1280.3 343.7h0M1195.2 478.1h0M1382.8 380.5h0M1379.7 477.9h0M1427.1 461.9h0M860.9 440.1h0M1252.5 445.2h0M1283.6 465h0M1225.6 511.1h0M1377.6 376h0M1250.7 565.6h0M1006.5 212.5h0M972.6 494h0M1031.8 232.6h0M876.7 525.3h0M1254.5 465.5h0M1245.1 511.3h0M1381 415.9h0M1076.4 556.4h0M1283.7 410.3h0M1036.1 388.9h0M1088.5 481.8h0M1174.6 480.7h0M1257.2 534.5h0M1290.7 490.6h0M992.2 326.9h0M1100.6 275.3h0M1221.3 336.6h0M1051.5 253.2h0M1106.8 475.5h0M1165.6 276.8h0M1201.5 499.7h0M993.4 293.5h0M1015.3 260.8h0M1072.8 444.3h0M1218.8 535.2h0M1305.4 410.6h0M1079.1 397.5h0M1207.2 462.6h0M1221.9 581.9h0M1125.8 286.4h0M1194.4 583.2h0M1088.8 279.6h0M1161.5 484.8h0M1258.3 549.6h0M1322.2 426.3h0M953.4 216.7h0M1222.2 522.2h0M924 484.8h0M982.5 392.7h0M1020.8 345.5h0M1152.3 349.1h0M1226.8 552.8h0M1213.6 338.3h0M1253.6 380.8h0M1058.6 275.9h0M1126.6 253.7h0M952.2 404.2h0M1276 569.5h0M1085.3 275.1h0M1224.1 613h0M1257.2 487h0M1088.2 403.4h0M1059.9 282.1h0M812.3 307.7h0M976 302.3h0M1115.3 491.4h0M848.2 517.5h0M1310.5 496.5h0M1193.1 313.1h0M1377.1 450.1h0M1217 568.1h0M994.8 218.5h0M1317.8 396h0M1118 309.5h0M798.7 359.6h0M1210.5 584.4h0M868.6 282.6h0M1254.9 537.2h0M1260.2 416.1h0M1162 534.6h0M1252 593.4h0M1303 386.8h0M1073.3 293.4h0M1112 531.7h0M777 365.4h0M1008.7 231.3h0M1328 512.7h0M1295.5 451.5h0M1313.8 409h0M1299.8 418.9h0M1282.2 496.9h0M1031.3 309.3h0M1116.6 364.7h0M1192.9 468.4h0M1095.6 567.7h0M1113.4 366.6h0M938.2 287.1h0M983.8 244.5h0M1097.6 358h0M812.8 280.5h0M973.8 248h0M1094.7 273.8h0M1226.8 478.2h0M1295.6 437.7h0M1001.9 322.4h0M1114.3 525.7h0M1360.1 491.6h0M1205.1 444.4h0M1418.2 451.1h0M1222.7 479.7h0M1194.4 560.5h0M1099.6 350.8h0M977.6 353.7h0M1113.8 342.5h0M1018.1 398.3h0M1047.1 332.9h0M895.1 295.4h0M961.2 246.3h0M1349 373.9h0M828.8 352.1h0M1111.6 439.2h0M1303.4 362.5h0M1262.7 413.2h0M1121.9 317.9h0M831.2 251.1h0M1055.3 316.1h0M1220.7 512.2h0M1112.9 480.8h0M986.8 283.2h0M1255.5 471.3h0M991.1 405.3h0M1209.4 621.3h0M1182.9 586.9h0M1104.9 411.3h0M886.5 316.2h0M1190.5 431.8h0M1190.4 285.1h0M822.3 326.7h0M1132.2 300.1h0M750.3 386.4h0M782.7 361.3h0M1293.2 431.8h0M1219.6 492.4h0M1168.7 299.4h0M1053.1 291.6h0M1210.1 363h0M1217.3 556.5h0M847.1 506.6h0M1030.1 289.6h0M1214.2 489.6h0M1214.6 366h0M962.4 270.7h0M1161.1 387.3h0M1078.4 349.8h0M1319.9 339.1h0M1128.2 242.5h0M896.7 318.1h0M1413 455.1h0M1039 451.4h0M1239.3 569.3h0M1227.8 497.5h0M1344 361.5h0M1218.5 394.1h0M1209.6 434h0M1182.5 528.9h0M1352.5 459.5h0M1128.7 286.3h0M1109.2 450.9h0M1426.5 468.9h0M1386.3 475.7h0M1040.5 457h0M1226.4 556.4h0M1018.2 463.9h0M1353.4 485.9h0M1418.9 462.8h0M1240.5 517.2h0M1208.5 528.1h0M933.5 204.5h0M1049.8 389.3h0M828.8 276.3h0M1115 241.8h0M1167.8 281.4h0M941.8 288.4h0M1065.8 398.6h0M1091.7 529.6h0M1082.7 381.9h0M1343.9 429.7h0M1336.6 416.6h0M999 301h0M1082.3 309.8h0M911.5 295.9h0M1122.6 260.3h0M1133.7 277h0M991.4 370.3h0M1081.6 416.7h0M1189.3 529.4h0M1264.7 420.2h0M1344.6 368.6h0M935.3 225.9h0M1086.8 281.6h0M1028.7 327.4h0M1376.2 416.9h0M1021.2 385.2h0M1076.2 471.8h0"/>
<path stroke="#B1357B" d="M776.1 706.9h0M732.2 741.2h0M893.7 786.3h0M834.4 803.6h0M729.6 743.5h0M689.4 732.5h0M871.5 778.5h0M864.9 746.3h0M855.6 804.1h0M883.6 807.6h0M740.6 799.7h0M729.1 748.9h0M814.6 790.8h0M834.8 792.4h0M731.9 751.3h0M742.3 815h0M697.9 744h0M889.8 801.4h0M821.1 748.3h0M810.7 740.4h0M808.2 743h0M774.5 800.1h0M773.5 809h0M795.4 741.5h0M868.9 752.8h0M862.3 764.3h0M807.6 825.1h0M804.8 816h0M827.2 802.6h0M695.2 716.4h0M803.3 718.4h0M748 840h0M768.1 794.3h0M874.2 781.4h0M757.7 774.8h0M768.2 710.1h0M841 769h0M872 790.7h0M734.3 808.6h0M881.1 787.9h0M775.1 793.5h0M851.4 759.9h0M785.5 802.3h0M748.1 833.7h0M805.4 774.1h0M854.2 800.1h0M766.3 812.2h0M711.1 757.1h0M682.1 735.2h0M739.9 779.2h0M883.6 790.6h0M784.6 786.4h0M870 800.4h0M710.6 802.6h0M705.9 746.4h0M709.2 811.3h0M774.5 749.1h0M722.6 788.4h0M743.1 812.1h0M730.4 811.9h0M876.7 794.7h0M758 783.7h0M806 721.6h0M881 770.9h0M687.5 730.5h0M769.2 830.7h0M870.4 782h0M804.6 783.9h0M737.2 720.8h0M700.9 816.9h0M802.4 765.8h0M864.5 810.6h0M872.6 801.2h0M711.2 787.8h0M745.8 820.3h0M830.5 755.7h0M773.7 740.9h0M819.9 824.5h0M883.6 795.4h0M687.9 777.8h0M806.6 820.3h0M842.1 736.3h0M803.8 771.6h0M892 798.5h0M724.3 692h0M1663.5 778.1h0M1677.7 787.7h0M1544.1 741.7h0M1533.4 722.9h0M1655.1 718.9h0M1644.7 664.8h0M1560.4 762.2h0M1656.6 655.2h0M1612.8 719.6h0M1606.1 720h0M1623.6 805.8h0M1650 697.5h0M1570.2 745.2h0M1699.1 685h0M1661 733.3h0M1601.4 688.1h0M1582.9 806.1h0M1631.2 744.8h0M1707.9 700.8h0M1703.5 681.1h0M1544.2 772.3h0M1623.1 767.4h0M1655 677.9h0M1671.7 661h0M1681.2 679.3h0M1711.7 682.4h0M1688.8 666.9h0M1691.3 693.7h0M1681.6 692.1h0M1543.7 752.9h0M1668.9 680.1h0M1638.9 781.6h0M1681.2 703.5h0M1640.1 698.3h0M1662.2 752.5h0M1657.5 795.4h0M1594.5 787.2h0M1703.3 708.9h0M1619.9 683.9h0M1703 742h0M1662.9 673.4h0M1724.1 695.3h0M1687.9 683.7h0M1550.2 778.7h0M1536.3 773h0M1680.5 754h0M1537.1 742h0M1683.8 686.2h0M1554.8 787.7h0M1590.7 711.8h0M1680.8 675.3h0M1667.4 691.7h0M1534.6 729.3h0M1683.7 698.9h0M1552.9 775.7h0M1556.7 725.9h0M1658.7 684.5h0M1545.9 709.6h0M1701.9 678.9h0M1603 777.4h0M1707.6 693h0M1607.7 726.1h0M1664.8 745.1h0M1542.3 755.4h0M1630.6 775.7h0M1656.5 686.7h0M1686.3 665.5h0M1693.7 787.2h0M1692.9 668.9h0M1623 688.4h0M1674.8 670.5h0M1600 736.1h0M1715.9 685h0M1411.8 953.5h0M1379.4 995h0M1416.8 1008.1h0M1299.5 1007.4h0M1424.7 1007.4h0M1272.4 955.5h0M1360.7 1030h0M1304 958.8h0M1321.4 1018.4h0M1312.4 957.8h0M1328.8 930.1h0M1400.8 952.9h0M1291 962.1h0M1304.4 974.3h0M1277.5 983.3h0M1423.8 952.1h0M1338.1 993.8h0M1338.9 978h0M1417 958.1h0M1329.3 993.1h0M1376.7 1006.1h0M1294.2 948.2h0M1377.6 985.3h0M1334.3 952.8h0M1348.8 935.3h0M1406.8 962.3h0M1290.3 953.5h0M1328.3 965.9h0M1287.8 939.2h0M1381.8 967.1h0M1409.9 976.5h0M1297.4 974h0M1413.7 986.6h0M1375.2 988.1h0M1273.1 939.8h0M1315.8 954h0M1330.2 968.3h0M1292.6 957.7h0M1326.8 984.5h0M1404.9 949.8h0M1331.5 1016.3h0M1313.4 1008.8h0M1331.1 990.3h0M1381.8 951.5h0M1353.8 943.7h0M1414.2 1011.4h0M1357 995.1h0M1371.8 981.1h0M1402.2 1017.9h0M1296.3 988.4h0M1386.1 996.9h0M1290.9 939.2h0M1285.6 968.4h0M1337.9 1033.2h0M1329.5 1002.6h0M1325.7 1016h0M1357 1029.9h0M1407.4 966.6h0M1274.5 962.4h0M1309 992.3h0M1419.6 956.6h0M1335.7 933.1h0M1302.6 950h0M1289.8 964.9h0M1298.4 928.4h0M1331.1 996.9h0M1364.7 1060.3h0M1374.3 1071.3h0M1326.3 1096h0M1339.7 1093.3h0M1055.5 1039.7h0M1016.9 925.7h0M1021.8 934.9h0M1019.9 919.7h0M1035.6 997.7h0M1051.2 982.1h0M1046.5 970.8h0M1018.2 1053.8h0M1048.3 1041h0M1039.5 1054.7h0M1048.2 1051.6h0M1023 1081h0M1016.5 1084h0M932 944h0M922.2 951.6h0M925 958.6h0M757.1 1095.3h0M806 1049.1h0M773.9 1028.8h0M858 1027.2h0M758.6 1131.3h0M817.7 1051.6h0M770.1 1032.1h0M750.2 1031.4h0M789.7 1014.2h0M808.6 1092.9h0M848.1 1037.6h0M765.4 1016.8h0M745.5 1105.1h0M777 1029.3h0M765.1 1013.5h0M774.6 1032.5h0M861.5 1019.4h0M1198.7 1226h0M1207.3 1204.4h0M1172.8 1209.5h0M1189.1 1221.2h0M1203 1220h0M1154.1 1214h0M340.4 628h0M354.8 617.2h0M499.6 948h0M506.4 952.2h0M516 956.6h0M522.8 962.2h0M528.8 959.8h0M519 955h0M1205.9 306.2h0M821.1 467h0M1403.5 439.2h0M1067.3 267.4h0M1046 240.1h0M1187.6 439h0M812.7 473.6h0M994.1 498.3h0M977.6 295.1h0M964.6 394h0M975.4 471.8h0M1270.9 457.3h0M1262 556.9h0M837.4 434.7h0M965.2 270.4h0M1362.5 391.3h0M1097.7 337.1h0M1095 394.7h0M1187.2 280.6h0M886.8 548.7h0M934 274.3h0M991.8 321.2h0M1121.6 502.6h0M1140.8 262h0M982 324.4h0M1070.9 397.5h0M1199.3 457.4h0M873.6 558.8h0M976.9 543h0M1101.5 397.4h0M1217.9 616.4h0M1247.9 475.1h0M1001.3 347.7h0M1285.1 419.7h0M1095.9 517h0M1262.1 431.4h0M1001.8 294.9h0M1015.4 321.8h0M968.3 263.1h0M1214.9 501.4h0M1366.8 418.4h0M818.9 229.5h0M1172.5 274.1h0M1055.4 248.1h0M1133.7 386.6h0M1262.8 423.4h0M1195 330.9h0M910.7 473.3h0M1265.9 353.4h0M963.9 512h0M1204.1 297.2h0M1289.4 416h0M1182 305.4h0M1179 476.7h0M992.2 575.8h0M1027.4 316.1h0M973.1 252.7h0M903.9 559.1h0M1064.8 302.3h0M1276.5 441.5h0M1113.9 298.7h0M1187 394.3h0M1270.1 429.3h0M832 524.9h0M1009.1 359.5h0M1406.6 457.7h0M1214 568.8h0M1107.1 403h0M1273.2 434.9h0M965.4 555.7h0M1095.3 286.8h0M1213.1 621.9h0M1065.6 507.3h0M887 489.6h0M1072.7 481.5h0M1068.4 289.6h0M933.5 539.4h0M1084.1 318h0M1339.6 406.3h0M951.9 366.9h0M1040.7 291.3h0M1324.3 405.4h0M1102.9 256.4h0M1158.4 418.5h0M1267.1 522h0M949.2 308.9h0M1005.7 320.8h0M1102.6 305.7h0M981 507.7h0M1063.4 354.9h0M1363.9 431.2h0M938.2 498.5h0M1119.6 378.7h0M919.4 477.2h0M960.6 199.1h0M1265.3 534.6h0M1251.2 337.3h0M1001.2 530.5h0M1042.7 372.3h0M1008.8 340.4h0M1268.2 568.2h0M813.7 319.8h0M1319.2 436h0M1133.8 304.5h0M1190.1 441.3h0M1054.9 601.4h0M1368.5 443.3h0M1045.4 499.9h0M1250.4 408.7h0M1189.6 435.6h0M1065.6 257.9h0M1238.7 514.4h0M945.1 554.2h0M1107.3 412.8h0M1245.2 443.2h0M1065.1 367.4h0M1326.3 426.8h0M854.6 514.9h0M1134.9 307h0M961.5 391.9h0M1395.1 462.7h0M971.1 540.1h0M1042.1 563.5h0M813.6 432.2h0M1030 383h0M1016 332.3h0M1206.8 336.2h0M1301.1 493.1h0M1222.6 561.6h0M1120 385.9h0M999.2 325.8h0M1346.7 478.3h0M932.8 547.6h0M881.8 402.4h0M1314.4 396.2h0M1072.3 581.1h0M1238 554.4h0M1195.8 585.6h0M859.4 544.1h0M1162.7 281.6h0M1254.8 595.1h0M880.7 476.4h0M1360.4 423.4h0M791.8 357.1h0M1352 357.9h0M1225.4 405h0M1348.8 462.8h0M972.3 564.1h0M1063.6 377h0M1311.5 427.6h0M1004.8 490.1h0M1198 375.3h0M1057.8 270.2h0M1067.6 480.7h0M1358.6 418.9h0M1267.6 395.9h0M839.4 538.2h0M1283.4 402.3h0M1349.9 489h0M1279.1 521.9h0M865.2 587.4h0M1321.4 376.8h0M1160.2 316.9h0M1118.3 238.4h0M1019.2 386.9h0M1346.9 510.3h0M1124.6 296.9h0M1142.7 289.9h0M1334.8 478.7h0M1101 379.3h0M937.8 266.5h0M1056.4 243.6h0M1138.2 286.6h0M1319.2 497.4h0M928.1 493.3h0M1174.4 304.2h0M1242.3 399.3h0M1339.4 436.3h0M1030.2 467.3h0M955.4 470.5h0M1382.3 365.2h0M1163.7 265.1h0M1070.7 272.8h0M1026.5 246.2h0M1215.8 322.5h0M1081 288.2h0M1374.5 420.2h0M1222.7 568.4h0M968.3 279.2h0M1231.9 570.3h0M904.2 562.5h0M880.4 509.5h0M1378.1 399.9h0M791.8 364.2h0M1252.1 431.1h0M824.3 302.8h0M1129.3 276.1h0M1056.4 596.4h0M885.6 472.3h0M1223.5 499.7h0M851 540h0M1317.9 345.4h0M1215.6 342.2h0M890.3 301.5h0M1105 530h0M940.8 564.6h0M980.9 296.3h0M1182.3 347.6h0M907.2 471.6h0M1109.6 374.1h0M1312.7 423.6h0M1225 527.1h0M1218.4 590.1h0M1131.9 370.3h0M1333.6 459h0M885.2 384.8h0M1137.5 533.8h0M966.5 319.1h0M1184.7 500.1h0M1029.4 223.1h0M1211.7 570.8h0M981.6 224.4h0M1145.4 581h0M1346.2 375.6h0M1309.6 481.8h0M1004 276.5h0M1394.4 450.6h0M1386.5 487.6h0M871.9 548.4h0M1250.7 481.7h0M1232.5 595.1h0M1060.4 263h0M1092.5 569.9h0M1001.6 553.8h0M1229.1 596.2h0M1285.7 371.2h0M1117.8 345.2h0M1146.7 524.3h0M1300 448.5h0M1309.9 404.5h0M792.9 517.1h0M955.9 534.5h0M1422.8 474.5h0M1263.4 448.2h0M833.3 489.7h0M1287 511.6h0M1357.4 363.5h0M1276.4 342.4h0M945.3 468.9h0M1180.6 498.4h0M962.6 385.3h0M911.7 538.6h0M983.3 212.5h0M1313.7 515.5h0M1024.6 316.6h0M985.9 343h0M1253.8 323.4h0M1208.4 301.5h0M1096.4 406.1h0M1312.3 393.1h0M1295.7 489.8h0M849.9 449h0M1175.4 461.9h0M833.7 368.4h0M812.2 525.2h0M1024.8 566.8h0M795.6 467.4h0M1072.5 394.7h0M759.3 393.5h0M1380.1 422.7h0M1272.2 342.5h0M1280.2 456h0M922 519.5h0M1070.6 508h0M1296.7 363.4h0M895.4 574.1h0M1107 504.5h0M896.5 462.5h0M1060.8 233.4h0M1132 476.4h0M973.5 334.3h0M915.8 266.9h0M1064.4 297.9h0M994.4 347h0M1233 529h0M1261.9 364.7h0M1093.6 308.4h0M1007.4 487.3h0M1090.1 322.1h0M882.3 551.5h0M785.8 449.7h0M966.3 472.4h0M944.8 457.7h0M1040 374.2h0M1177.8 550.8h0M1273.7 534.4h0M990.1 497.3h0M1091.4 240.9h0M858.1 415.9h0M1195.7 562.9h0M1351.6 425.2h0M1113.3 522.3h0M809.9 495h0M1097.8 388.7h0M1180.6 501.4h0M891.8 366h0M1184.8 300.6h0M790.3 470.3h0M871.4 540.3h0M1324.2 395.8h0M816.6 413.8h0M1384.4 450.9h0M1217.2 316.4h0M1025.6 253.4h0M883.8 543.9h0M860.3 553h0M852.8 392.6h0M1310.3 493.3h0M1123.8 327.8h0M858.8 276h0M1012 268.9h0M872.9 481.6h0M1180.9 515.8h0"/>
<path stroke="#E24D66" d="M777.6 838.3h0M763.3 792.9h0M775.9 737.3h0M787.4 794.1h0M790.4 702.7h0M797.9 704.4h0M705.4 822.7h0M707.6 719h0M745.2 787.6h0M690.5 748.6h0M777.9 829.1h0M803.3 800.2h0M770.8 715.7h0M786.4 715.7h0M715.5 768.3h0M724.5 814.7h0M692.3 728.8h0M743.4 763.5h0M734.3 775.1h0M752 775.3h0M773 706h0M805.7 690.7h0M1628.6 708.4h0M1615.8 689h0M1699.3 717h0M1598.4 811.4h0M1685.5 779.1h0M1640.4 733.7h0M1675.6 768.7h0M1655 772.8h0M1629.4 712.6h0M1649.2 755.3h0M1533.7 746.4h0M1623.3 697.6h0M1586.5 777.5h0M1686.5 710.5h0M1635.1 804.7h0M1605.2 748.3h0M1623.7 732.7h0M1639.5 706.1h0M1696.3 713.8h0M1691 788.2h0M1378 962.3h0M1354.4 985.7h0M1366.1 954h0M1343.1 958.7h0M1356.3 970.6h0M1396 997.3h0M1318.6 961h0M1302.7 961.2h0M1351.5 1010h0M1408.6 1016.8h0M1354 1022.6h0M1378.3 1026.5h0M1294.9 964.3h0M1346.9 999.7h0M1293.1 954.1h0M1367.3 1028.8h0M1353.6 1027.1h0M1407.9 950.5h0M1389 980.4h0M1333.5 1023.6h0M1399.4 972h0M1371.7 975.1h0M1269.1 940.6h0M1286 957.6h0M1337 1096h0M1037 1060.1h0M1045.6 992.3h0M1055.2 1024h0M941.8 939h0M799.1 1048.4h0M806.8 1007.9h0M824 1014.3h0M772.8 1071.8h0M793.9 1094.5h0M784.9 1068.1h0M1187.8 1205.9h0M1204 1222h0M1195.1 1209.2h0M1196 1230.8h0M1177.1 1225.3h0M331.5 633.6h0M333.5 632.5h0M335.5 631.2h0M338 630h0M345.2 623.6h0M347 622h0M522.4 957.8h0M1177.4 442h0M1052.2 354.4h0M891 493.1h0M1072.8 219h0M893.8 206.5h0M1166.2 444.9h0M989.9 443.1h0M1278.3 535.9h0M1085.9 244.8h0M851.5 543.2h0M1017.8 318.4h0M1006.5 250.3h0M1198.4 563.7h0M763.4 393.4h0M1095.9 254.2h0M1166.4 326.9h0M1035.8 516.6h0M1053 273.4h0M918.5 569.8h0M1164.4 302.9h0M917.3 305.6h0M930.7 320.3h0M1001.1 379.4h0M1214 578.6h0M872.5 537.6h0M1149.1 316.6h0M1053.9 414.1h0M1077.8 256.8h0M848.1 323.3h0M1217.2 552.8h0M775.9 411.2h0M1312.1 431.2h0M1311 508.6h0M989.2 363.6h0M1357.9 383.6h0M1301.3 488.6h0M1019.3 348.1h0M885.4 534.3h0M1226.5 420.5h0M1160.6 260.1h0M1164.9 288.3h0M930.3 338.7h0M1176 446.1h0M848.8 560.4h0M1299.7 475.6h0M830.7 271.9h0M1035.9 508.8h0M1191 519.1h0M1100.1 229.6h0M1030.7 377.6h0M1006.3 279.1h0M1085.6 508.4h0M926.2 518h0M965.1 268h0M799 425.2h0M1408.6 413.2h0M1389.6 486.6h0M968 476.7h0M1342.3 383.1h0M1211.6 491.7h0M956.6 265.2h0M1016.2 542.2h0M1072.2 449.9h0M1343.7 432.5h0M888 453.3h0M1075.5 239h0M1214 420.2h0M889.9 524.4h0M1043.3 215.7h0M1070.4 305.8h0M1391 437h0M1013.6 211.6h0M1052.8 216h0M973.6 568h0M1117 505.1h0M962.8 493.8h0M1015.8 264.6h0M861.4 453.6h0M879.5 276.6h0M966.1 561.4h0M866.5 550.8h0M1084.1 304.8h0"/>
<path stroke="#F8745C" d="M801.8 802.6h0M806.3 801.4h0M769.8 704.1h0M829.6 782.1h0M691.8 801.7h0M1670.1 777.1h0M1696.1 687h0M1645.9 793.6h0M1605.2 779.7h0M1592.8 771.1h0M1592.5 803.7h0M1644.5 801.5h0M1611.7 749.3h0M1331.9 1028.3h0M1409.8 967.9h0M1323.9 964.5h0M1324.6 1006h0M1338.4 930.8h0M1426.3 991.7h0M1350.9 1035.3h0M1031.1 964.9h0M1017 1080.5h0M1137.4 1227.7h0M1150.1 1225.9h0M1178.3 1195.7h0M351.2 619.6h0M349.5 621h0M1079 269.3h0M1160.5 309.5h0M1198.9 343.7h0M1083.9 282.9h0M961.3 478.5h0M1227.8 355.6h0M1190.4 367.9h0M1403.2 402.9h0M1039.9 300.9h0M892.6 354.3h0M1289.3 350.7h0M970.6 287.5h0M1045.6 220.4h0M998.5 319h0"/>
<path stroke="#FEB078" d="M838.4 802.1h0M756.4 717.3h0M685.7 794.8h0M820 711h0M1282.2 972.5h0M1403.2 969.5h0M1276.1 970.9h0M1163.9 1213.1h0M1166.4 1244h0M1148.4 1224.2h0"/>
</g>
<g stroke="#000" stroke-width="4.5" fill="none">
<path d="M205.5 142.6V1304.8M203.25 1302.55H1829"/>
<path d="M190.9 197.4H203.5M190.9 587.4H203.5M190.9 977.4H203.5"/>
<path d="M219.7 1304.5V1317M514.6 1304.5V1317M809.6 1304.5V1317M1104.5 1304.5V1317M1399.5 1304.5V1317M1694.4 1304.5V1317"/>
</g>
<g clip-path="url(#nf)">
<g font-size="50" text-anchor="end">
<text transform="translate(177.4,215.33) scale(1.013,1.043)">20</text>
<text transform="translate(177.4,605.33) scale(1.013,1.043)">10</text>
<text transform="translate(177.4,995.33) scale(1.013,1.043)">0</text>
</g>
<g font-size="50" text-anchor="middle">
<text transform="translate(219.7,1366.5) scale(1.013,1.043)">-5</text>
<text transform="translate(514.6,1366.5) scale(1.013,1.043)">0</text>
<text transform="translate(809.6,1366.5) scale(1.013,1.043)">5</text>
<text transform="translate(1104.5,1366.5) scale(1.013,1.043)">10</text>
<text transform="translate(1399.5,1366.5) scale(1.013,1.043)">15</text>
<text transform="translate(1694.4,1366.5) scale(1.013,1.043)">20</text>
</g>
<g font-size="58.3">
<text transform="translate(899.9,1434.7) scale(0.996,1.065)">UMAP_1</text>
<text transform="translate(95,839.2) rotate(-90) scale(0.995,1.065)">UMAP_2</text>
</g>
</g>
<rect x="1885" y="578" width="64" height="320.1" fill="url(#mg)"/>
<path d="M1885 621.4h13M1936 621.4h13M1885 690.7h13M1936 690.7h13M1885 760h13M1936 760h13M1885 829.3h13M1936 829.3h13M1885 898.3h13M1936 898.3h13" stroke="#fff" stroke-width="1.8" fill="none"/>
<g clip-path="url(#nf)"><g font-size="50">
<text transform="translate(1977,639.33) scale(1.015,1.043)">2.0</text>
<text transform="translate(1977,708.63) scale(1.015,1.043)">1.5</text>
<text transform="translate(1977,777.93) scale(1.015,1.043)">1.0</text>
<text transform="translate(1977,847.23) scale(1.015,1.043)">0.5</text>
<text transform="translate(1977,916.53) scale(1.015,1.043)">0.0</text>
</g></g>
</svg>
</body></html>
